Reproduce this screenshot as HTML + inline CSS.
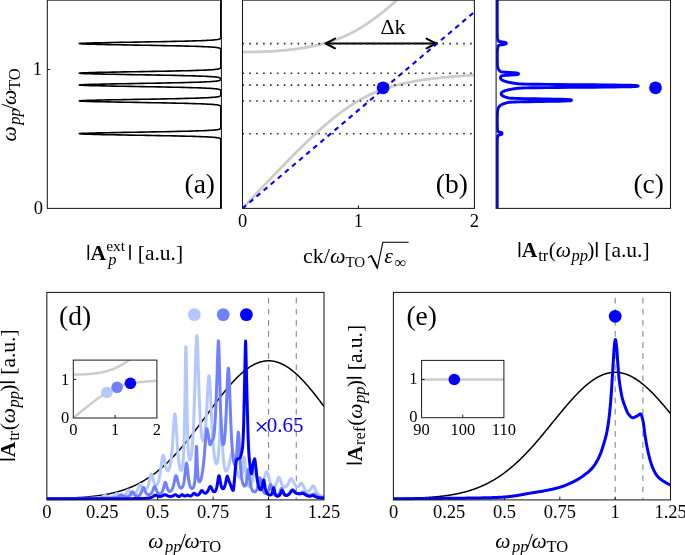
<!DOCTYPE html>
<html><head><meta charset="utf-8"><style>
html,body{margin:0;padding:0;background:#fff;}
body{position:relative;width:685px;height:555px;overflow:hidden;}
svg{display:block;}
#tx{position:absolute;left:0;top:0;will-change:transform;}
text{font-family:"Liberation Serif",serif;fill:#000;}
</style></head><body>
<svg width="685" height="555" viewBox="0 0 685 555">
<rect width="685" height="555" fill="#fff"/>

<svg x="47.30" y="0.00" width="175.10" height="208.40" overflow="hidden"><g transform="translate(-47.30,0.00)">
<path d="M220.80,0.00 L220.80,0.10 L220.80,0.20 L220.80,0.30 L220.80,0.40 L220.80,0.50 L220.80,0.60 L220.80,0.70 L220.80,0.80 L220.80,0.90 L220.80,1.00 L220.80,1.10 L220.80,1.20 L220.80,1.30 L220.80,1.40 L220.80,1.50 L220.80,1.60 L220.80,1.70 L220.80,1.80 L220.80,1.90 L220.80,2.00 L220.80,2.10 L220.80,2.20 L220.80,2.30 L220.80,2.40 L220.80,2.50 L220.80,2.60 L220.80,2.70 L220.80,2.80 L220.80,2.90 L220.80,3.00 L220.80,3.10 L220.80,3.20 L220.80,3.30 L220.80,3.40 L220.80,3.50 L220.80,3.60 L220.80,3.70 L220.80,3.80 L220.80,3.90 L220.80,4.00 L220.80,4.10 L220.80,4.20 L220.80,4.30 L220.80,4.40 L220.80,4.50 L220.80,4.60 L220.80,4.70 L220.80,4.80 L220.80,4.90 L220.80,5.00 L220.80,5.10 L220.80,5.20 L220.80,5.30 L220.80,5.40 L220.80,5.50 L220.80,5.60 L220.80,5.70 L220.80,5.80 L220.80,5.90 L220.80,6.00 L220.80,6.10 L220.80,6.20 L220.80,6.30 L220.80,6.40 L220.80,6.50 L220.80,6.60 L220.80,6.70 L220.80,6.80 L220.80,6.90 L220.80,7.00 L220.80,7.10 L220.80,7.20 L220.80,7.30 L220.80,7.40 L220.80,7.50 L220.80,7.60 L220.80,7.70 L220.80,7.80 L220.80,7.90 L220.80,8.00 L220.80,8.10 L220.80,8.20 L220.80,8.30 L220.80,8.40 L220.80,8.50 L220.80,8.60 L220.80,8.70 L220.80,8.80 L220.80,8.90 L220.80,9.00 L220.80,9.10 L220.80,9.20 L220.80,9.30 L220.80,9.40 L220.80,9.50 L220.80,9.60 L220.80,9.70 L220.80,9.80 L220.80,9.90 L220.80,10.00 L220.80,10.10 L220.80,10.20 L220.80,10.30 L220.80,10.40 L220.80,10.50 L220.80,10.60 L220.80,10.70 L220.80,10.80 L220.80,10.90 L220.80,11.00 L220.80,11.10 L220.80,11.20 L220.80,11.30 L220.80,11.40 L220.80,11.50 L220.80,11.60 L220.80,11.70 L220.80,11.80 L220.80,11.90 L220.80,12.00 L220.80,12.10 L220.80,12.20 L220.80,12.30 L220.80,12.40 L220.80,12.50 L220.80,12.60 L220.80,12.70 L220.80,12.80 L220.80,12.90 L220.80,13.00 L220.80,13.10 L220.80,13.20 L220.80,13.30 L220.80,13.40 L220.80,13.50 L220.80,13.60 L220.80,13.70 L220.80,13.80 L220.80,13.90 L220.80,14.00 L220.80,14.10 L220.80,14.20 L220.80,14.30 L220.80,14.40 L220.80,14.50 L220.80,14.60 L220.80,14.70 L220.80,14.80 L220.80,14.90 L220.80,15.00 L220.80,15.10 L220.80,15.20 L220.80,15.30 L220.80,15.40 L220.80,15.50 L220.80,15.60 L220.80,15.70 L220.80,15.80 L220.80,15.90 L220.80,16.00 L220.80,16.10 L220.80,16.20 L220.80,16.30 L220.80,16.40 L220.80,16.50 L220.80,16.60 L220.80,16.70 L220.80,16.80 L220.80,16.90 L220.80,17.00 L220.80,17.10 L220.80,17.20 L220.80,17.30 L220.80,17.40 L220.80,17.50 L220.80,17.60 L220.80,17.70 L220.80,17.80 L220.80,17.90 L220.80,18.00 L220.80,18.10 L220.80,18.20 L220.80,18.30 L220.80,18.40 L220.80,18.50 L220.80,18.60 L220.80,18.70 L220.80,18.80 L220.80,18.90 L220.80,19.00 L220.80,19.10 L220.80,19.20 L220.80,19.30 L220.80,19.40 L220.80,19.50 L220.80,19.60 L220.80,19.70 L220.80,19.80 L220.80,19.90 L220.80,20.00 L220.80,20.10 L220.80,20.20 L220.80,20.30 L220.80,20.40 L220.80,20.50 L220.80,20.60 L220.80,20.70 L220.80,20.80 L220.80,20.90 L220.80,21.00 L220.80,21.10 L220.80,21.20 L220.80,21.30 L220.80,21.40 L220.80,21.50 L220.80,21.60 L220.80,21.70 L220.80,21.80 L220.80,21.90 L220.80,22.00 L220.80,22.10 L220.80,22.20 L220.80,22.30 L220.80,22.40 L220.80,22.50 L220.80,22.60 L220.80,22.70 L220.80,22.80 L220.80,22.90 L220.80,23.00 L220.80,23.10 L220.80,23.20 L220.80,23.30 L220.80,23.40 L220.80,23.50 L220.80,23.60 L220.80,23.70 L220.80,23.80 L220.80,23.90 L220.80,24.00 L220.80,24.10 L220.80,24.20 L220.80,24.30 L220.80,24.40 L220.80,24.50 L220.80,24.60 L220.80,24.70 L220.80,24.80 L220.80,24.90 L220.80,25.00 L220.80,25.10 L220.80,25.20 L220.80,25.30 L220.80,25.40 L220.80,25.50 L220.80,25.60 L220.80,25.70 L220.80,25.80 L220.80,25.90 L220.80,26.00 L220.80,26.10 L220.80,26.20 L220.80,26.30 L220.80,26.40 L220.80,26.50 L220.80,26.60 L220.80,26.70 L220.80,26.80 L220.80,26.90 L220.80,27.00 L220.80,27.10 L220.80,27.20 L220.80,27.30 L220.80,27.40 L220.80,27.50 L220.80,27.60 L220.80,27.70 L220.80,27.80 L220.80,27.90 L220.80,28.00 L220.80,28.10 L220.80,28.20 L220.80,28.30 L220.80,28.40 L220.80,28.50 L220.80,28.60 L220.80,28.70 L220.80,28.80 L220.80,28.90 L220.80,29.00 L220.80,29.10 L220.80,29.20 L220.80,29.30 L220.80,29.40 L220.80,29.50 L220.80,29.60 L220.80,29.70 L220.80,29.80 L220.80,29.90 L220.80,30.00 L220.80,30.10 L220.80,30.20 L220.80,30.30 L220.80,30.40 L220.80,30.50 L220.80,30.60 L220.80,30.70 L220.80,30.80 L220.80,30.90 L220.80,31.00 L220.80,31.10 L220.80,31.20 L220.80,31.30 L220.80,31.40 L220.80,31.50 L220.80,31.60 L220.80,31.70 L220.80,31.80 L220.80,31.90 L220.80,32.00 L220.80,32.10 L220.80,32.20 L220.80,32.30 L220.80,32.40 L220.80,32.50 L220.80,32.60 L220.80,32.70 L220.80,32.80 L220.80,32.90 L220.80,33.00 L220.80,33.10 L220.80,33.20 L220.80,33.30 L220.80,33.40 L220.80,33.50 L220.80,33.60 L220.80,33.70 L220.80,33.80 L220.80,33.90 L220.80,34.00 L220.80,34.10 L220.80,34.20 L220.80,34.30 L220.80,34.40 L220.80,34.50 L220.80,34.60 L220.80,34.70 L220.80,34.80 L220.80,34.90 L220.80,35.00 L220.80,35.10 L220.80,35.20 L220.80,35.30 L220.80,35.40 L220.80,35.50 L220.80,35.60 L220.80,35.70 L220.80,35.80 L220.80,35.90 L220.80,36.00 L220.80,36.10 L220.80,36.20 L220.80,36.30 L220.80,36.40 L220.80,36.50 L220.80,36.60 L220.80,36.70 L220.80,36.80 L220.79,36.90 L220.79,37.00 L220.79,37.10 L220.79,37.20 L220.78,37.30 L220.78,37.40 L220.77,37.50 L220.76,37.60 L220.75,37.70 L220.73,37.80 L220.71,37.90 L220.69,38.00 L220.66,38.10 L220.62,38.20 L220.57,38.30 L220.50,38.40 L220.43,38.50 L220.33,38.60 L220.21,38.70 L220.06,38.80 L219.89,38.90 L219.67,39.00 L219.41,39.10 L219.10,39.20 L218.72,39.30 L218.28,39.40 L217.75,39.50 L217.13,39.60 L216.41,39.70 L215.56,39.80 L214.58,39.90 L213.46,40.00 L212.16,40.10 L210.69,40.20 L209.02,40.30 L207.14,40.40 L205.02,40.50 L202.66,40.60 L200.05,40.70 L197.17,40.80 L194.00,40.90 L190.56,41.00 L186.83,41.10 L182.80,41.20 L178.50,41.30 L173.93,41.40 L169.09,41.50 L164.02,41.60 L158.73,41.70 L153.26,41.80 L147.64,41.90 L141.92,42.00 L136.14,42.10 L130.34,42.20 L124.59,42.30 L118.94,42.40 L113.45,42.50 L108.18,42.60 L103.19,42.70 L98.53,42.80 L94.27,42.90 L90.46,43.00 L87.15,43.10 L84.37,43.20 L82.18,43.30 L80.59,43.40 L79.62,43.50 L79.30,43.60 L79.62,43.70 L80.59,43.80 L82.18,43.90 L84.37,44.00 L87.15,44.10 L90.46,44.20 L94.27,44.30 L98.53,44.40 L103.19,44.50 L108.18,44.60 L113.45,44.70 L118.94,44.80 L124.59,44.90 L130.34,45.00 L136.14,45.10 L141.92,45.20 L147.64,45.30 L153.26,45.40 L158.73,45.50 L164.02,45.60 L169.09,45.70 L173.93,45.80 L178.50,45.90 L182.80,46.00 L186.83,46.10 L190.56,46.20 L194.00,46.30 L197.17,46.40 L200.05,46.50 L202.66,46.60 L205.02,46.70 L207.14,46.80 L209.02,46.90 L210.69,47.00 L212.16,47.10 L213.46,47.20 L214.58,47.30 L215.56,47.40 L216.41,47.50 L217.13,47.60 L217.75,47.70 L218.28,47.80 L218.72,47.90 L219.10,48.00 L219.41,48.10 L219.67,48.20 L219.89,48.30 L220.06,48.40 L220.21,48.50 L220.33,48.60 L220.43,48.70 L220.50,48.80 L220.57,48.90 L220.62,49.00 L220.66,49.10 L220.69,49.20 L220.71,49.30 L220.73,49.40 L220.75,49.50 L220.76,49.60 L220.77,49.70 L220.78,49.80 L220.78,49.90 L220.79,50.00 L220.79,50.10 L220.79,50.20 L220.79,50.30 L220.80,50.40 L220.80,50.50 L220.80,50.60 L220.80,50.70 L220.80,50.80 L220.80,50.90 L220.80,51.00 L220.80,51.10 L220.80,51.20 L220.80,51.30 L220.80,51.40 L220.80,51.50 L220.80,51.60 L220.80,51.70 L220.80,51.80 L220.80,51.90 L220.80,52.00 L220.80,52.10 L220.80,52.20 L220.80,52.30 L220.80,52.40 L220.80,52.50 L220.80,52.60 L220.80,52.70 L220.80,52.80 L220.80,52.90 L220.80,53.00 L220.80,53.10 L220.80,53.20 L220.80,53.30 L220.80,53.40 L220.80,53.50 L220.80,53.60 L220.80,53.70 L220.80,53.80 L220.80,53.90 L220.80,54.00 L220.80,54.10 L220.80,54.20 L220.80,54.30 L220.80,54.40 L220.80,54.50 L220.80,54.60 L220.80,54.70 L220.80,54.80 L220.80,54.90 L220.80,55.00 L220.80,55.10 L220.80,55.20 L220.80,55.30 L220.80,55.40 L220.80,55.50 L220.80,55.60 L220.80,55.70 L220.80,55.80 L220.80,55.90 L220.80,56.00 L220.80,56.10 L220.80,56.20 L220.80,56.30 L220.80,56.40 L220.80,56.50 L220.80,56.60 L220.80,56.70 L220.80,56.80 L220.80,56.90 L220.80,57.00 L220.80,57.10 L220.80,57.20 L220.80,57.30 L220.80,57.40 L220.80,57.50 L220.80,57.60 L220.80,57.70 L220.80,57.80 L220.80,57.90 L220.80,58.00 L220.80,58.10 L220.80,58.20 L220.80,58.30 L220.80,58.40 L220.80,58.50 L220.80,58.60 L220.80,58.70 L220.80,58.80 L220.80,58.90 L220.80,59.00 L220.80,59.10 L220.80,59.20 L220.80,59.30 L220.80,59.40 L220.80,59.50 L220.80,59.60 L220.80,59.70 L220.80,59.80 L220.80,59.90 L220.80,60.00 L220.80,60.10 L220.80,60.20 L220.80,60.30 L220.80,60.40 L220.80,60.50 L220.80,60.60 L220.80,60.70 L220.80,60.80 L220.80,60.90 L220.80,61.00 L220.80,61.10 L220.80,61.20 L220.80,61.30 L220.80,61.40 L220.80,61.50 L220.80,61.60 L220.80,61.70 L220.80,61.80 L220.80,61.90 L220.80,62.00 L220.80,62.10 L220.80,62.20 L220.80,62.30 L220.80,62.40 L220.80,62.50 L220.80,62.60 L220.80,62.70 L220.80,62.80 L220.80,62.90 L220.80,63.00 L220.80,63.10 L220.80,63.20 L220.80,63.30 L220.80,63.40 L220.80,63.50 L220.80,63.60 L220.80,63.70 L220.80,63.80 L220.80,63.90 L220.80,64.00 L220.80,64.10 L220.80,64.20 L220.80,64.30 L220.80,64.40 L220.80,64.50 L220.80,64.60 L220.80,64.70 L220.80,64.80 L220.80,64.90 L220.80,65.00 L220.80,65.10 L220.80,65.20 L220.80,65.30 L220.80,65.40 L220.80,65.50 L220.80,65.60 L220.80,65.70 L220.80,65.80 L220.80,65.90 L220.80,66.00 L220.80,66.10 L220.80,66.20 L220.80,66.30 L220.80,66.40 L220.79,66.50 L220.79,66.60 L220.79,66.70 L220.79,66.80 L220.78,66.90 L220.78,67.00 L220.77,67.10 L220.76,67.20 L220.75,67.30 L220.73,67.40 L220.71,67.50 L220.69,67.60 L220.66,67.70 L220.62,67.80 L220.57,67.90 L220.50,68.00 L220.43,68.10 L220.33,68.20 L220.21,68.30 L220.06,68.40 L219.89,68.50 L219.67,68.60 L219.41,68.70 L219.10,68.80 L218.72,68.90 L218.28,69.00 L217.75,69.10 L217.13,69.20 L216.41,69.30 L215.56,69.40 L214.58,69.50 L213.46,69.60 L212.16,69.70 L210.69,69.80 L209.02,69.90 L207.14,70.00 L205.02,70.10 L202.66,70.20 L200.05,70.30 L197.17,70.40 L194.00,70.50 L190.56,70.60 L186.83,70.70 L182.80,70.80 L178.50,70.90 L173.93,71.00 L169.09,71.10 L164.02,71.20 L158.73,71.30 L153.26,71.40 L147.64,71.50 L141.92,71.60 L136.14,71.70 L130.34,71.80 L124.59,71.90 L118.94,72.00 L113.45,72.10 L108.18,72.20 L103.19,72.30 L98.53,72.40 L94.27,72.50 L90.46,72.60 L87.15,72.70 L84.37,72.80 L82.18,72.90 L80.59,73.00 L79.62,73.10 L79.30,73.20 L79.62,73.30 L80.59,73.40 L82.18,73.50 L84.37,73.60 L87.15,73.70 L90.46,73.80 L94.27,73.90 L98.53,74.00 L103.19,74.10 L108.18,74.20 L113.45,74.30 L118.94,74.40 L124.59,74.50 L130.34,74.60 L136.14,74.70 L141.92,74.80 L147.64,74.90 L153.26,75.00 L158.73,75.10 L164.02,75.20 L169.09,75.30 L173.93,75.40 L178.50,75.50 L182.80,75.60 L186.83,75.70 L190.56,75.80 L194.00,75.90 L197.17,76.00 L200.05,76.10 L202.66,76.20 L205.02,76.30 L207.14,76.40 L209.02,76.50 L210.69,76.60 L212.16,76.70 L213.46,76.80 L214.58,76.90 L215.56,77.00 L216.41,77.10 L217.13,77.20 L217.75,77.30 L218.28,77.40 L218.72,77.50 L219.10,77.60 L219.41,77.70 L219.67,77.80 L219.88,77.90 L220.06,78.00 L220.21,78.10 L220.33,78.20 L220.42,78.30 L220.50,78.40 L220.56,78.50 L220.61,78.60 L220.64,78.70 L220.67,78.80 L220.69,78.90 L220.70,79.00 L220.70,79.10 L220.70,79.20 L220.69,79.30 L220.67,79.40 L220.64,79.50 L220.61,79.60 L220.56,79.70 L220.50,79.80 L220.42,79.90 L220.33,80.00 L220.21,80.10 L220.06,80.20 L219.88,80.30 L219.67,80.40 L219.41,80.50 L219.10,80.60 L218.72,80.70 L218.28,80.80 L217.75,80.90 L217.13,81.00 L216.41,81.10 L215.56,81.20 L214.58,81.30 L213.46,81.40 L212.16,81.50 L210.69,81.60 L209.02,81.70 L207.14,81.80 L205.02,81.90 L202.66,82.00 L200.05,82.10 L197.17,82.20 L194.00,82.30 L190.56,82.40 L186.83,82.50 L182.80,82.60 L178.50,82.70 L173.93,82.80 L169.09,82.90 L164.02,83.00 L158.73,83.10 L153.26,83.20 L147.64,83.30 L141.92,83.40 L136.14,83.50 L130.34,83.60 L124.59,83.70 L118.94,83.80 L113.45,83.90 L108.18,84.00 L103.19,84.10 L98.53,84.20 L94.27,84.30 L90.46,84.40 L87.15,84.50 L84.37,84.60 L82.18,84.70 L80.59,84.80 L79.62,84.90 L79.30,85.00 L79.62,85.10 L80.59,85.20 L82.18,85.30 L84.37,85.40 L87.15,85.50 L90.46,85.60 L94.27,85.70 L98.53,85.80 L103.19,85.90 L108.18,86.00 L113.45,86.10 L118.94,86.20 L124.59,86.30 L130.34,86.40 L136.14,86.50 L141.92,86.60 L147.64,86.70 L153.26,86.80 L158.73,86.90 L164.02,87.00 L169.09,87.10 L173.93,87.20 L178.50,87.30 L182.80,87.40 L186.83,87.50 L190.56,87.60 L194.00,87.70 L197.17,87.80 L200.05,87.90 L202.66,88.00 L205.02,88.10 L207.14,88.20 L209.02,88.30 L210.69,88.40 L212.16,88.50 L213.46,88.60 L214.58,88.70 L215.56,88.80 L216.41,88.90 L217.13,89.00 L217.75,89.10 L218.28,89.20 L218.72,89.30 L219.10,89.40 L219.41,89.50 L219.67,89.60 L219.89,89.70 L220.06,89.80 L220.21,89.90 L220.33,90.00 L220.43,90.10 L220.50,90.20 L220.57,90.30 L220.62,90.40 L220.66,90.50 L220.69,90.60 L220.71,90.70 L220.73,90.80 L220.75,90.90 L220.76,91.00 L220.77,91.10 L220.78,91.20 L220.78,91.30 L220.79,91.40 L220.79,91.50 L220.79,91.60 L220.79,91.70 L220.80,91.80 L220.80,91.90 L220.80,92.00 L220.80,92.10 L220.80,92.20 L220.80,92.30 L220.80,92.40 L220.80,92.50 L220.80,92.60 L220.80,92.70 L220.80,92.80 L220.80,92.90 L220.80,93.00 L220.80,93.10 L220.80,93.20 L220.80,93.30 L220.80,93.40 L220.80,93.50 L220.80,93.60 L220.80,93.70 L220.80,93.80 L220.80,93.90 L220.80,94.00 L220.80,94.10 L220.79,94.20 L220.79,94.30 L220.79,94.40 L220.79,94.50 L220.78,94.60 L220.78,94.70 L220.77,94.80 L220.76,94.90 L220.75,95.00 L220.73,95.10 L220.71,95.20 L220.69,95.30 L220.66,95.40 L220.62,95.50 L220.57,95.60 L220.50,95.70 L220.43,95.80 L220.33,95.90 L220.21,96.00 L220.06,96.10 L219.89,96.20 L219.67,96.30 L219.41,96.40 L219.10,96.50 L218.72,96.60 L218.28,96.70 L217.75,96.80 L217.13,96.90 L216.41,97.00 L215.56,97.10 L214.58,97.20 L213.46,97.30 L212.16,97.40 L210.69,97.50 L209.02,97.60 L207.14,97.70 L205.02,97.80 L202.66,97.90 L200.05,98.00 L197.17,98.10 L194.00,98.20 L190.56,98.30 L186.83,98.40 L182.80,98.50 L178.50,98.60 L173.93,98.70 L169.09,98.80 L164.02,98.90 L158.73,99.00 L153.26,99.10 L147.64,99.20 L141.92,99.30 L136.14,99.40 L130.34,99.50 L124.59,99.60 L118.94,99.70 L113.45,99.80 L108.18,99.90 L103.19,100.00 L98.53,100.10 L94.27,100.20 L90.46,100.30 L87.15,100.40 L84.37,100.50 L82.18,100.60 L80.59,100.70 L79.62,100.80 L79.30,100.90 L79.62,101.00 L80.59,101.10 L82.18,101.20 L84.37,101.30 L87.15,101.40 L90.46,101.50 L94.27,101.60 L98.53,101.70 L103.19,101.80 L108.18,101.90 L113.45,102.00 L118.94,102.10 L124.59,102.20 L130.34,102.30 L136.14,102.40 L141.92,102.50 L147.64,102.60 L153.26,102.70 L158.73,102.80 L164.02,102.90 L169.09,103.00 L173.93,103.10 L178.50,103.20 L182.80,103.30 L186.83,103.40 L190.56,103.50 L194.00,103.60 L197.17,103.70 L200.05,103.80 L202.66,103.90 L205.02,104.00 L207.14,104.10 L209.02,104.20 L210.69,104.30 L212.16,104.40 L213.46,104.50 L214.58,104.60 L215.56,104.70 L216.41,104.80 L217.13,104.90 L217.75,105.00 L218.28,105.10 L218.72,105.20 L219.10,105.30 L219.41,105.40 L219.67,105.50 L219.89,105.60 L220.06,105.70 L220.21,105.80 L220.33,105.90 L220.43,106.00 L220.50,106.10 L220.57,106.20 L220.62,106.30 L220.66,106.40 L220.69,106.50 L220.71,106.60 L220.73,106.70 L220.75,106.80 L220.76,106.90 L220.77,107.00 L220.78,107.10 L220.78,107.20 L220.79,107.30 L220.79,107.40 L220.79,107.50 L220.79,107.60 L220.80,107.70 L220.80,107.80 L220.80,107.90 L220.80,108.00 L220.80,108.10 L220.80,108.20 L220.80,108.30 L220.80,108.40 L220.80,108.50 L220.80,108.60 L220.80,108.70 L220.80,108.80 L220.80,108.90 L220.80,109.00 L220.80,109.10 L220.80,109.20 L220.80,109.30 L220.80,109.40 L220.80,109.50 L220.80,109.60 L220.80,109.70 L220.80,109.80 L220.80,109.90 L220.80,110.00 L220.80,110.10 L220.80,110.20 L220.80,110.30 L220.80,110.40 L220.80,110.50 L220.80,110.60 L220.80,110.70 L220.80,110.80 L220.80,110.90 L220.80,111.00 L220.80,111.10 L220.80,111.20 L220.80,111.30 L220.80,111.40 L220.80,111.50 L220.80,111.60 L220.80,111.70 L220.80,111.80 L220.80,111.90 L220.80,112.00 L220.80,112.10 L220.80,112.20 L220.80,112.30 L220.80,112.40 L220.80,112.50 L220.80,112.60 L220.80,112.70 L220.80,112.80 L220.80,112.90 L220.80,113.00 L220.80,113.10 L220.80,113.20 L220.80,113.30 L220.80,113.40 L220.80,113.50 L220.80,113.60 L220.80,113.70 L220.80,113.80 L220.80,113.90 L220.80,114.00 L220.80,114.10 L220.80,114.20 L220.80,114.30 L220.80,114.40 L220.80,114.50 L220.80,114.60 L220.80,114.70 L220.80,114.80 L220.80,114.90 L220.80,115.00 L220.80,115.10 L220.80,115.20 L220.80,115.30 L220.80,115.40 L220.80,115.50 L220.80,115.60 L220.80,115.70 L220.80,115.80 L220.80,115.90 L220.80,116.00 L220.80,116.10 L220.80,116.20 L220.80,116.30 L220.80,116.40 L220.80,116.50 L220.80,116.60 L220.80,116.70 L220.80,116.80 L220.80,116.90 L220.80,117.00 L220.80,117.10 L220.80,117.20 L220.80,117.30 L220.80,117.40 L220.80,117.50 L220.80,117.60 L220.80,117.70 L220.80,117.80 L220.80,117.90 L220.80,118.00 L220.80,118.10 L220.80,118.20 L220.80,118.30 L220.80,118.40 L220.80,118.50 L220.80,118.60 L220.80,118.70 L220.80,118.80 L220.80,118.90 L220.80,119.00 L220.80,119.10 L220.80,119.20 L220.80,119.30 L220.80,119.40 L220.80,119.50 L220.80,119.60 L220.80,119.70 L220.80,119.80 L220.80,119.90 L220.80,120.00 L220.80,120.10 L220.80,120.20 L220.80,120.30 L220.80,120.40 L220.80,120.50 L220.80,120.60 L220.80,120.70 L220.80,120.80 L220.80,120.90 L220.80,121.00 L220.80,121.10 L220.80,121.20 L220.80,121.30 L220.80,121.40 L220.80,121.50 L220.80,121.60 L220.80,121.70 L220.80,121.80 L220.80,121.90 L220.80,122.00 L220.80,122.10 L220.80,122.20 L220.80,122.30 L220.80,122.40 L220.80,122.50 L220.80,122.60 L220.80,122.70 L220.80,122.80 L220.80,122.90 L220.80,123.00 L220.80,123.10 L220.80,123.20 L220.80,123.30 L220.80,123.40 L220.80,123.50 L220.80,123.60 L220.80,123.70 L220.80,123.80 L220.80,123.90 L220.80,124.00 L220.80,124.10 L220.80,124.20 L220.80,124.30 L220.80,124.40 L220.80,124.50 L220.80,124.60 L220.80,124.70 L220.80,124.80 L220.80,124.90 L220.80,125.00 L220.80,125.10 L220.80,125.20 L220.80,125.30 L220.80,125.40 L220.80,125.50 L220.80,125.60 L220.80,125.70 L220.80,125.80 L220.80,125.90 L220.80,126.00 L220.80,126.10 L220.80,126.20 L220.80,126.30 L220.80,126.40 L220.80,126.50 L220.80,126.60 L220.80,126.70 L220.80,126.80 L220.80,126.90 L220.79,127.00 L220.79,127.10 L220.79,127.20 L220.79,127.30 L220.78,127.40 L220.78,127.50 L220.77,127.60 L220.76,127.70 L220.75,127.80 L220.73,127.90 L220.71,128.00 L220.69,128.10 L220.66,128.20 L220.62,128.30 L220.57,128.40 L220.50,128.50 L220.43,128.60 L220.33,128.70 L220.21,128.80 L220.06,128.90 L219.89,129.00 L219.67,129.10 L219.41,129.20 L219.10,129.30 L218.72,129.40 L218.28,129.50 L217.75,129.60 L217.13,129.70 L216.41,129.80 L215.56,129.90 L214.58,130.00 L213.46,130.10 L212.16,130.20 L210.69,130.30 L209.02,130.40 L207.14,130.50 L205.02,130.60 L202.66,130.70 L200.05,130.80 L197.17,130.90 L194.00,131.00 L190.56,131.10 L186.83,131.20 L182.80,131.30 L178.50,131.40 L173.93,131.50 L169.09,131.60 L164.02,131.70 L158.73,131.80 L153.26,131.90 L147.64,132.00 L141.92,132.10 L136.14,132.20 L130.34,132.30 L124.59,132.40 L118.94,132.50 L113.45,132.60 L108.18,132.70 L103.19,132.80 L98.53,132.90 L94.27,133.00 L90.46,133.10 L87.15,133.20 L84.37,133.30 L82.18,133.40 L80.59,133.50 L79.62,133.60 L79.30,133.70 L79.62,133.80 L80.59,133.90 L82.18,134.00 L84.37,134.10 L87.15,134.20 L90.46,134.30 L94.27,134.40 L98.53,134.50 L103.19,134.60 L108.18,134.70 L113.45,134.80 L118.94,134.90 L124.59,135.00 L130.34,135.10 L136.14,135.20 L141.92,135.30 L147.64,135.40 L153.26,135.50 L158.73,135.60 L164.02,135.70 L169.09,135.80 L173.93,135.90 L178.50,136.00 L182.80,136.10 L186.83,136.20 L190.56,136.30 L194.00,136.40 L197.17,136.50 L200.05,136.60 L202.66,136.70 L205.02,136.80 L207.14,136.90 L209.02,137.00 L210.69,137.10 L212.16,137.20 L213.46,137.30 L214.58,137.40 L215.56,137.50 L216.41,137.60 L217.13,137.70 L217.75,137.80 L218.28,137.90 L218.72,138.00 L219.10,138.10 L219.41,138.20 L219.67,138.30 L219.89,138.40 L220.06,138.50 L220.21,138.60 L220.33,138.70 L220.43,138.80 L220.50,138.90 L220.57,139.00 L220.62,139.10 L220.66,139.20 L220.69,139.30 L220.71,139.40 L220.73,139.50 L220.75,139.60 L220.76,139.70 L220.77,139.80 L220.78,139.90 L220.78,140.00 L220.79,140.10 L220.79,140.20 L220.79,140.30 L220.79,140.40 L220.80,140.50 L220.80,140.60 L220.80,140.70 L220.80,140.80 L220.80,140.90 L220.80,141.00 L220.80,141.10 L220.80,141.20 L220.80,141.30 L220.80,141.40 L220.80,141.50 L220.80,141.60 L220.80,141.70 L220.80,141.80 L220.80,141.90 L220.80,142.00 L220.80,142.10 L220.80,142.20 L220.80,142.30 L220.80,142.40 L220.80,142.50 L220.80,142.60 L220.80,142.70 L220.80,142.80 L220.80,142.90 L220.80,143.00 L220.80,143.10 L220.80,143.20 L220.80,143.30 L220.80,143.40 L220.80,143.50 L220.80,143.60 L220.80,143.70 L220.80,143.80 L220.80,143.90 L220.80,144.00 L220.80,144.10 L220.80,144.20 L220.80,144.30 L220.80,144.40 L220.80,144.50 L220.80,144.60 L220.80,144.70 L220.80,144.80 L220.80,144.90 L220.80,145.00 L220.80,145.10 L220.80,145.20 L220.80,145.30 L220.80,145.40 L220.80,145.50 L220.80,145.60 L220.80,145.70 L220.80,145.80 L220.80,145.90 L220.80,146.00 L220.80,146.10 L220.80,146.20 L220.80,146.30 L220.80,146.40 L220.80,146.50 L220.80,146.60 L220.80,146.70 L220.80,146.80 L220.80,146.90 L220.80,147.00 L220.80,147.10 L220.80,147.20 L220.80,147.30 L220.80,147.40 L220.80,147.50 L220.80,147.60 L220.80,147.70 L220.80,147.80 L220.80,147.90 L220.80,148.00 L220.80,148.10 L220.80,148.20 L220.80,148.30 L220.80,148.40 L220.80,148.50 L220.80,148.60 L220.80,148.70 L220.80,148.80 L220.80,148.90 L220.80,149.00 L220.80,149.10 L220.80,149.20 L220.80,149.30 L220.80,149.40 L220.80,149.50 L220.80,149.60 L220.80,149.70 L220.80,149.80 L220.80,149.90 L220.80,150.00 L220.80,150.10 L220.80,150.20 L220.80,150.30 L220.80,150.40 L220.80,150.50 L220.80,150.60 L220.80,150.70 L220.80,150.80 L220.80,150.90 L220.80,151.00 L220.80,151.10 L220.80,151.20 L220.80,151.30 L220.80,151.40 L220.80,151.50 L220.80,151.60 L220.80,151.70 L220.80,151.80 L220.80,151.90 L220.80,152.00 L220.80,152.10 L220.80,152.20 L220.80,152.30 L220.80,152.40 L220.80,152.50 L220.80,152.60 L220.80,152.70 L220.80,152.80 L220.80,152.90 L220.80,153.00 L220.80,153.10 L220.80,153.20 L220.80,153.30 L220.80,153.40 L220.80,153.50 L220.80,153.60 L220.80,153.70 L220.80,153.80 L220.80,153.90 L220.80,154.00 L220.80,154.10 L220.80,154.20 L220.80,154.30 L220.80,154.40 L220.80,154.50 L220.80,154.60 L220.80,154.70 L220.80,154.80 L220.80,154.90 L220.80,155.00 L220.80,155.10 L220.80,155.20 L220.80,155.30 L220.80,155.40 L220.80,155.50 L220.80,155.60 L220.80,155.70 L220.80,155.80 L220.80,155.90 L220.80,156.00 L220.80,156.10 L220.80,156.20 L220.80,156.30 L220.80,156.40 L220.80,156.50 L220.80,156.60 L220.80,156.70 L220.80,156.80 L220.80,156.90 L220.80,157.00 L220.80,157.10 L220.80,157.20 L220.80,157.30 L220.80,157.40 L220.80,157.50 L220.80,157.60 L220.80,157.70 L220.80,157.80 L220.80,157.90 L220.80,158.00 L220.80,158.10 L220.80,158.20 L220.80,158.30 L220.80,158.40 L220.80,158.50 L220.80,158.60 L220.80,158.70 L220.80,158.80 L220.80,158.90 L220.80,159.00 L220.80,159.10 L220.80,159.20 L220.80,159.30 L220.80,159.40 L220.80,159.50 L220.80,159.60 L220.80,159.70 L220.80,159.80 L220.80,159.90 L220.80,160.00 L220.80,160.10 L220.80,160.20 L220.80,160.30 L220.80,160.40 L220.80,160.50 L220.80,160.60 L220.80,160.70 L220.80,160.80 L220.80,160.90 L220.80,161.00 L220.80,161.10 L220.80,161.20 L220.80,161.30 L220.80,161.40 L220.80,161.50 L220.80,161.60 L220.80,161.70 L220.80,161.80 L220.80,161.90 L220.80,162.00 L220.80,162.10 L220.80,162.20 L220.80,162.30 L220.80,162.40 L220.80,162.50 L220.80,162.60 L220.80,162.70 L220.80,162.80 L220.80,162.90 L220.80,163.00 L220.80,163.10 L220.80,163.20 L220.80,163.30 L220.80,163.40 L220.80,163.50 L220.80,163.60 L220.80,163.70 L220.80,163.80 L220.80,163.90 L220.80,164.00 L220.80,164.10 L220.80,164.20 L220.80,164.30 L220.80,164.40 L220.80,164.50 L220.80,164.60 L220.80,164.70 L220.80,164.80 L220.80,164.90 L220.80,165.00 L220.80,165.10 L220.80,165.20 L220.80,165.30 L220.80,165.40 L220.80,165.50 L220.80,165.60 L220.80,165.70 L220.80,165.80 L220.80,165.90 L220.80,166.00 L220.80,166.10 L220.80,166.20 L220.80,166.30 L220.80,166.40 L220.80,166.50 L220.80,166.60 L220.80,166.70 L220.80,166.80 L220.80,166.90 L220.80,167.00 L220.80,167.10 L220.80,167.20 L220.80,167.30 L220.80,167.40 L220.80,167.50 L220.80,167.60 L220.80,167.70 L220.80,167.80 L220.80,167.90 L220.80,168.00 L220.80,168.10 L220.80,168.20 L220.80,168.30 L220.80,168.40 L220.80,168.50 L220.80,168.60 L220.80,168.70 L220.80,168.80 L220.80,168.90 L220.80,169.00 L220.80,169.10 L220.80,169.20 L220.80,169.30 L220.80,169.40 L220.80,169.50 L220.80,169.60 L220.80,169.70 L220.80,169.80 L220.80,169.90 L220.80,170.00 L220.80,170.10 L220.80,170.20 L220.80,170.30 L220.80,170.40 L220.80,170.50 L220.80,170.60 L220.80,170.70 L220.80,170.80 L220.80,170.90 L220.80,171.00 L220.80,171.10 L220.80,171.20 L220.80,171.30 L220.80,171.40 L220.80,171.50 L220.80,171.60 L220.80,171.70 L220.80,171.80 L220.80,171.90 L220.80,172.00 L220.80,172.10 L220.80,172.20 L220.80,172.30 L220.80,172.40 L220.80,172.50 L220.80,172.60 L220.80,172.70 L220.80,172.80 L220.80,172.90 L220.80,173.00 L220.80,173.10 L220.80,173.20 L220.80,173.30 L220.80,173.40 L220.80,173.50 L220.80,173.60 L220.80,173.70 L220.80,173.80 L220.80,173.90 L220.80,174.00 L220.80,174.10 L220.80,174.20 L220.80,174.30 L220.80,174.40 L220.80,174.50 L220.80,174.60 L220.80,174.70 L220.80,174.80 L220.80,174.90 L220.80,175.00 L220.80,175.10 L220.80,175.20 L220.80,175.30 L220.80,175.40 L220.80,175.50 L220.80,175.60 L220.80,175.70 L220.80,175.80 L220.80,175.90 L220.80,176.00 L220.80,176.10 L220.80,176.20 L220.80,176.30 L220.80,176.40 L220.80,176.50 L220.80,176.60 L220.80,176.70 L220.80,176.80 L220.80,176.90 L220.80,177.00 L220.80,177.10 L220.80,177.20 L220.80,177.30 L220.80,177.40 L220.80,177.50 L220.80,177.60 L220.80,177.70 L220.80,177.80 L220.80,177.90 L220.80,178.00 L220.80,178.10 L220.80,178.20 L220.80,178.30 L220.80,178.40 L220.80,178.50 L220.80,178.60 L220.80,178.70 L220.80,178.80 L220.80,178.90 L220.80,179.00 L220.80,179.10 L220.80,179.20 L220.80,179.30 L220.80,179.40 L220.80,179.50 L220.80,179.60 L220.80,179.70 L220.80,179.80 L220.80,179.90 L220.80,180.00 L220.80,180.10 L220.80,180.20 L220.80,180.30 L220.80,180.40 L220.80,180.50 L220.80,180.60 L220.80,180.70 L220.80,180.80 L220.80,180.90 L220.80,181.00 L220.80,181.10 L220.80,181.20 L220.80,181.30 L220.80,181.40 L220.80,181.50 L220.80,181.60 L220.80,181.70 L220.80,181.80 L220.80,181.90 L220.80,182.00 L220.80,182.10 L220.80,182.20 L220.80,182.30 L220.80,182.40 L220.80,182.50 L220.80,182.60 L220.80,182.70 L220.80,182.80 L220.80,182.90 L220.80,183.00 L220.80,183.10 L220.80,183.20 L220.80,183.30 L220.80,183.40 L220.80,183.50 L220.80,183.60 L220.80,183.70 L220.80,183.80 L220.80,183.90 L220.80,184.00 L220.80,184.10 L220.80,184.20 L220.80,184.30 L220.80,184.40 L220.80,184.50 L220.80,184.60 L220.80,184.70 L220.80,184.80 L220.80,184.90 L220.80,185.00 L220.80,185.10 L220.80,185.20 L220.80,185.30 L220.80,185.40 L220.80,185.50 L220.80,185.60 L220.80,185.70 L220.80,185.80 L220.80,185.90 L220.80,186.00 L220.80,186.10 L220.80,186.20 L220.80,186.30 L220.80,186.40 L220.80,186.50 L220.80,186.60 L220.80,186.70 L220.80,186.80 L220.80,186.90 L220.80,187.00 L220.80,187.10 L220.80,187.20 L220.80,187.30 L220.80,187.40 L220.80,187.50 L220.80,187.60 L220.80,187.70 L220.80,187.80 L220.80,187.90 L220.80,188.00 L220.80,188.10 L220.80,188.20 L220.80,188.30 L220.80,188.40 L220.80,188.50 L220.80,188.60 L220.80,188.70 L220.80,188.80 L220.80,188.90 L220.80,189.00 L220.80,189.10 L220.80,189.20 L220.80,189.30 L220.80,189.40 L220.80,189.50 L220.80,189.60 L220.80,189.70 L220.80,189.80 L220.80,189.90 L220.80,190.00 L220.80,190.10 L220.80,190.20 L220.80,190.30 L220.80,190.40 L220.80,190.50 L220.80,190.60 L220.80,190.70 L220.80,190.80 L220.80,190.90 L220.80,191.00 L220.80,191.10 L220.80,191.20 L220.80,191.30 L220.80,191.40 L220.80,191.50 L220.80,191.60 L220.80,191.70 L220.80,191.80 L220.80,191.90 L220.80,192.00 L220.80,192.10 L220.80,192.20 L220.80,192.30 L220.80,192.40 L220.80,192.50 L220.80,192.60 L220.80,192.70 L220.80,192.80 L220.80,192.90 L220.80,193.00 L220.80,193.10 L220.80,193.20 L220.80,193.30 L220.80,193.40 L220.80,193.50 L220.80,193.60 L220.80,193.70 L220.80,193.80 L220.80,193.90 L220.80,194.00 L220.80,194.10 L220.80,194.20 L220.80,194.30 L220.80,194.40 L220.80,194.50 L220.80,194.60 L220.80,194.70 L220.80,194.80 L220.80,194.90 L220.80,195.00 L220.80,195.10 L220.80,195.20 L220.80,195.30 L220.80,195.40 L220.80,195.50 L220.80,195.60 L220.80,195.70 L220.80,195.80 L220.80,195.90 L220.80,196.00 L220.80,196.10 L220.80,196.20 L220.80,196.30 L220.80,196.40 L220.80,196.50 L220.80,196.60 L220.80,196.70 L220.80,196.80 L220.80,196.90 L220.80,197.00 L220.80,197.10 L220.80,197.20 L220.80,197.30 L220.80,197.40 L220.80,197.50 L220.80,197.60 L220.80,197.70 L220.80,197.80 L220.80,197.90 L220.80,198.00 L220.80,198.10 L220.80,198.20 L220.80,198.30 L220.80,198.40 L220.80,198.50 L220.80,198.60 L220.80,198.70 L220.80,198.80 L220.80,198.90 L220.80,199.00 L220.80,199.10 L220.80,199.20 L220.80,199.30 L220.80,199.40 L220.80,199.50 L220.80,199.60 L220.80,199.70 L220.80,199.80 L220.80,199.90 L220.80,200.00 L220.80,200.10 L220.80,200.20 L220.80,200.30 L220.80,200.40 L220.80,200.50 L220.80,200.60 L220.80,200.70 L220.80,200.80 L220.80,200.90 L220.80,201.00 L220.80,201.10 L220.80,201.20 L220.80,201.30 L220.80,201.40 L220.80,201.50 L220.80,201.60 L220.80,201.70 L220.80,201.80 L220.80,201.90 L220.80,202.00 L220.80,202.10 L220.80,202.20 L220.80,202.30 L220.80,202.40 L220.80,202.50 L220.80,202.60 L220.80,202.70 L220.80,202.80 L220.80,202.90 L220.80,203.00 L220.80,203.10 L220.80,203.20 L220.80,203.30 L220.80,203.40 L220.80,203.50 L220.80,203.60 L220.80,203.70 L220.80,203.80 L220.80,203.90 L220.80,204.00 L220.80,204.10 L220.80,204.20 L220.80,204.30 L220.80,204.40 L220.80,204.50 L220.80,204.60 L220.80,204.70 L220.80,204.80 L220.80,204.90 L220.80,205.00 L220.80,205.10 L220.80,205.20 L220.80,205.30 L220.80,205.40 L220.80,205.50 L220.80,205.60 L220.80,205.70 L220.80,205.80 L220.80,205.90 L220.80,206.00 L220.80,206.10 L220.80,206.20 L220.80,206.30 L220.80,206.40 L220.80,206.50 L220.80,206.60 L220.80,206.70 L220.80,206.80 L220.80,206.90 L220.80,207.00 L220.80,207.10 L220.80,207.20 L220.80,207.30 L220.80,207.40 L220.80,207.50 L220.80,207.60 L220.80,207.70 L220.80,207.80 L220.80,207.90 L220.80,208.00 L220.80,208.10 L220.80,208.20 L220.80,208.30 L220.80,208.40" fill="none" stroke="#000" stroke-width="1.6" stroke-linejoin="round"/>
</g></svg>
<rect x="47.30" y="0.15" width="174.10" height="208.25" fill="none" stroke="#1a1a1a" stroke-width="1.05"/>
<path d="M47.3,69.47 h3" stroke="#1a1a1a" stroke-width="1"/>
<svg x="242.50" y="0.00" width="231.90" height="208.40" overflow="hidden"><g transform="translate(-242.50,0.00)">
<path d="M242.50,208.40 L242.82,208.06 L243.14,207.72 L243.46,207.38 L243.78,207.04 L244.09,206.70 L244.41,206.36 L244.73,206.02 L245.05,205.68 L245.37,205.34 L245.69,205.01 L246.01,204.67 L246.33,204.33 L246.64,203.99 L246.96,203.65 L247.28,203.31 L247.60,202.97 L247.92,202.63 L248.24,202.29 L248.56,201.95 L248.88,201.61 L249.20,201.27 L249.51,200.93 L249.83,200.59 L250.15,200.25 L250.47,199.91 L250.79,199.57 L251.11,199.23 L251.43,198.89 L251.75,198.55 L252.07,198.22 L252.39,197.88 L252.71,197.54 L253.03,197.20 L253.35,196.86 L253.66,196.52 L253.98,196.18 L254.30,195.84 L254.62,195.50 L254.94,195.16 L255.26,194.82 L255.58,194.48 L255.90,194.14 L256.22,193.80 L256.54,193.46 L256.86,193.12 L257.18,192.78 L257.50,192.44 L257.82,192.10 L258.14,191.76 L258.46,191.43 L258.78,191.09 L259.10,190.75 L259.42,190.41 L259.74,190.07 L260.07,189.73 L260.39,189.39 L260.71,189.05 L261.03,188.71 L261.35,188.37 L261.67,188.03 L261.99,187.69 L262.31,187.35 L262.63,187.01 L262.95,186.67 L263.28,186.33 L263.60,185.99 L263.92,185.65 L264.24,185.31 L264.56,184.98 L264.88,184.64 L265.21,184.30 L265.53,183.96 L265.85,183.62 L266.17,183.28 L266.49,182.94 L266.82,182.60 L267.14,182.26 L267.46,181.92 L267.78,181.58 L268.11,181.24 L268.43,180.90 L268.75,180.56 L269.08,180.22 L269.40,179.88 L269.72,179.54 L270.05,179.20 L270.37,178.86 L270.69,178.52 L271.02,178.19 L271.34,177.85 L271.66,177.51 L271.99,177.17 L272.31,176.83 L272.64,176.49 L272.96,176.15 L273.29,175.81 L273.61,175.47 L273.94,175.13 L274.26,174.79 L274.59,174.45 L274.91,174.11 L275.24,173.77 L275.56,173.43 L275.89,173.09 L276.22,172.75 L276.54,172.41 L276.87,172.07 L277.19,171.74 L277.52,171.40 L277.85,171.06 L278.18,170.72 L278.50,170.38 L278.83,170.04 L279.16,169.70 L279.49,169.36 L279.81,169.02 L280.14,168.68 L280.47,168.34 L280.80,168.00 L281.13,167.66 L281.45,167.32 L281.78,166.98 L282.11,166.64 L282.44,166.30 L282.77,165.96 L283.10,165.62 L283.43,165.28 L283.76,164.95 L284.09,164.61 L284.42,164.27 L284.75,163.93 L285.09,163.59 L285.42,163.25 L285.75,162.91 L286.08,162.57 L286.41,162.23 L286.74,161.89 L287.08,161.55 L287.41,161.21 L287.74,160.87 L288.08,160.53 L288.41,160.19 L288.74,159.85 L289.08,159.51 L289.41,159.17 L289.74,158.83 L290.08,158.49 L290.41,158.16 L290.75,157.82 L291.09,157.48 L291.42,157.14 L291.76,156.80 L292.09,156.46 L292.43,156.12 L292.77,155.78 L293.10,155.44 L293.44,155.10 L293.78,154.76 L294.12,154.42 L294.46,154.08 L294.80,153.74 L295.14,153.40 L295.47,153.06 L295.81,152.72 L296.16,152.38 L296.50,152.04 L296.84,151.71 L297.18,151.37 L297.52,151.03 L297.86,150.69 L298.20,150.35 L298.55,150.01 L298.89,149.67 L299.23,149.33 L299.58,148.99 L299.92,148.65 L300.27,148.31 L300.61,147.97 L300.96,147.63 L301.30,147.29 L301.65,146.95 L302.00,146.61 L302.34,146.27 L302.69,145.93 L303.04,145.59 L303.39,145.25 L303.74,144.92 L304.08,144.58 L304.43,144.24 L304.79,143.90 L305.14,143.56 L305.49,143.22 L305.84,142.88 L306.19,142.54 L306.54,142.20 L306.90,141.86 L307.25,141.52 L307.61,141.18 L307.96,140.84 L308.32,140.50 L308.67,140.16 L309.03,139.82 L309.39,139.48 L309.74,139.14 L310.10,138.80 L310.46,138.46 L310.82,138.13 L311.18,137.79 L311.54,137.45 L311.90,137.11 L312.27,136.77 L312.63,136.43 L312.99,136.09 L313.36,135.75 L313.72,135.41 L314.09,135.07 L314.45,134.73 L314.82,134.39 L315.19,134.05 L315.56,133.71 L315.92,133.37 L316.29,133.03 L316.67,132.69 L317.04,132.35 L317.41,132.01 L317.78,131.68 L318.16,131.34 L318.53,131.00 L318.91,130.66 L319.28,130.32 L319.66,129.98 L320.04,129.64 L320.42,129.30 L320.80,128.96 L321.18,128.62 L321.56,128.28 L321.94,127.94 L322.33,127.60 L322.71,127.26 L323.10,126.92 L323.49,126.58 L323.87,126.24 L324.26,125.90 L324.65,125.56 L325.05,125.22 L325.44,124.89 L325.83,124.55 L326.23,124.21 L326.62,123.87 L327.02,123.53 L327.42,123.19 L327.82,122.85 L328.22,122.51 L328.62,122.17 L329.03,121.83 L329.43,121.49 L329.84,121.15 L330.25,120.81 L330.66,120.47 L331.07,120.13 L331.48,119.79 L331.89,119.45 L332.31,119.11 L332.73,118.77 L333.15,118.43 L333.57,118.10 L333.99,117.76 L334.41,117.42 L334.84,117.08 L335.26,116.74 L335.69,116.40 L336.12,116.06 L336.56,115.72 L336.99,115.38 L337.43,115.04 L337.87,114.70 L338.31,114.36 L338.75,114.02 L339.20,113.68 L339.65,113.34 L340.10,113.00 L340.55,112.66 L341.00,112.32 L341.46,111.98 L341.92,111.65 L342.38,111.31 L342.84,110.97 L343.31,110.63 L343.78,110.29 L344.25,109.95 L344.73,109.61 L345.21,109.27 L345.69,108.93 L346.17,108.59 L346.66,108.25 L347.15,107.91 L347.65,107.57 L348.14,107.23 L348.64,106.89 L349.15,106.55 L349.66,106.21 L350.17,105.87 L350.68,105.53 L351.20,105.19 L351.73,104.86 L352.25,104.52 L352.79,104.18 L353.32,103.84 L353.86,103.50 L354.41,103.16 L354.96,102.82 L355.51,102.48 L356.07,102.14 L356.64,101.80 L357.21,101.46 L357.78,101.12 L358.37,100.78 L358.95,100.44 L359.55,100.10 L360.15,99.76 L360.75,99.42 L361.36,99.08 L361.98,98.74 L362.61,98.41 L363.24,98.07 L363.88,97.73 L364.53,97.39 L365.19,97.05 L365.85,96.71 L366.53,96.37 L367.21,96.03 L367.90,95.69 L368.60,95.35 L369.31,95.01 L370.03,94.67 L370.76,94.33 L371.50,93.99 L372.26,93.65 L373.02,93.31 L373.80,92.97 L374.59,92.63 L375.39,92.29 L376.21,91.95 L377.04,91.62 L377.89,91.28 L378.75,90.94 L379.63,90.60 L380.52,90.26 L381.43,89.92 L382.37,89.58 L383.32,89.24 L384.29,88.90 L385.28,88.56 L386.29,88.22 L387.33,87.88 L388.40,87.54 L389.48,87.20 L390.60,86.86 L391.74,86.52 L392.92,86.18 L394.12,85.84 L395.36,85.50 L396.64,85.16 L397.95,84.83 L399.31,84.49 L400.70,84.15 L402.14,83.81 L403.63,83.47 L405.17,83.13 L406.76,82.79 L408.42,82.45 L410.13,82.11 L411.91,81.77 L413.77,81.43 L415.70,81.09 L417.71,80.75 L419.81,80.41 L422.01,80.07 L424.32,79.73 L426.74,79.39 L429.29,79.05 L431.98,78.71 L434.81,78.38 L437.82,78.04 L441.01,77.70 L444.40,77.36 L448.02,77.02 L451.90,76.68 L456.07,76.34 L460.56,76.00 L465.43,75.66 L470.72,75.32 L476.51,74.98 L482.87,74.64 L489.91,74.30 L497.75,73.96 L506.57,73.62 L516.57,73.28 L528.05,72.94" fill="none" stroke="#cccccc" stroke-width="2.8"/>
<path d="M242.50,52.10 L256.92,51.90 L262.80,51.70 L267.25,51.50 L270.95,51.30 L274.18,51.09 L277.06,50.89 L279.67,50.69 L282.07,50.49 L284.31,50.28 L286.39,50.08 L288.35,49.88 L290.21,49.68 L291.97,49.48 L293.64,49.27 L295.24,49.07 L296.77,48.87 L298.23,48.67 L299.64,48.47 L301.00,48.26 L302.31,48.06 L303.58,47.86 L304.80,47.66 L305.99,47.45 L307.14,47.25 L308.25,47.05 L309.34,46.85 L310.39,46.65 L311.42,46.44 L312.42,46.24 L313.39,46.04 L314.34,45.84 L315.27,45.64 L316.18,45.43 L317.07,45.23 L317.93,45.03 L318.78,44.83 L319.61,44.63 L320.43,44.42 L321.22,44.22 L322.01,44.02 L322.77,43.82 L323.53,43.61 L324.26,43.41 L324.99,43.21 L325.70,43.01 L326.40,42.81 L327.09,42.60 L327.77,42.40 L328.44,42.20 L329.09,42.00 L329.74,41.80 L330.38,41.59 L331.00,41.39 L331.62,41.19 L332.23,40.99 L332.83,40.78 L333.42,40.58 L334.00,40.38 L334.58,40.18 L335.15,39.98 L335.71,39.77 L336.26,39.57 L336.81,39.37 L337.35,39.17 L337.88,38.97 L338.41,38.76 L338.93,38.56 L339.44,38.36 L339.95,38.16 L340.45,37.96 L340.95,37.75 L341.44,37.55 L341.93,37.35 L342.41,37.15 L342.89,36.94 L343.36,36.74 L343.82,36.54 L344.29,36.34 L344.74,36.14 L345.20,35.93 L345.65,35.73 L346.09,35.53 L346.53,35.33 L346.97,35.13 L347.40,34.92 L347.83,34.72 L348.25,34.52 L348.68,34.32 L349.09,34.11 L349.51,33.91 L349.92,33.71 L350.33,33.51 L350.73,33.31 L351.13,33.10 L351.53,32.90 L351.92,32.70 L352.31,32.50 L352.70,32.30 L353.09,32.09 L353.47,31.89 L353.85,31.69 L354.23,31.49 L354.61,31.29 L354.98,31.08 L355.35,30.88 L355.71,30.68 L356.08,30.48 L356.44,30.27 L356.80,30.07 L357.16,29.87 L357.51,29.67 L357.87,29.47 L358.22,29.26 L358.57,29.06 L358.91,28.86 L359.26,28.66 L359.60,28.46 L359.94,28.25 L360.28,28.05 L360.62,27.85 L360.95,27.65 L361.28,27.44 L361.61,27.24 L361.94,27.04 L362.27,26.84 L362.60,26.64 L362.92,26.43 L363.24,26.23 L363.56,26.03 L363.88,25.83 L364.20,25.63 L364.52,25.42 L364.83,25.22 L365.14,25.02 L365.45,24.82 L365.76,24.62 L366.07,24.41 L366.38,24.21 L366.69,24.01 L366.99,23.81 L367.29,23.60 L367.59,23.40 L367.89,23.20 L368.19,23.00 L368.49,22.80 L368.79,22.59 L369.08,22.39 L369.37,22.19 L369.67,21.99 L369.96,21.79 L370.25,21.58 L370.54,21.38 L370.83,21.18 L371.11,20.98 L371.40,20.77 L371.68,20.57 L371.97,20.37 L372.25,20.17 L372.53,19.97 L372.81,19.76 L373.09,19.56 L373.37,19.36 L373.65,19.16 L373.92,18.96 L374.20,18.75 L374.47,18.55 L374.75,18.35 L375.02,18.15 L375.29,17.95 L375.56,17.74 L375.83,17.54 L376.10,17.34 L376.37,17.14 L376.64,16.93 L376.90,16.73 L377.17,16.53 L377.43,16.33 L377.70,16.13 L377.96,15.92 L378.22,15.72 L378.48,15.52 L378.75,15.32 L379.01,15.12 L379.27,14.91 L379.52,14.71 L379.78,14.51 L380.04,14.31 L380.30,14.10 L380.55,13.90 L380.81,13.70 L381.06,13.50 L381.32,13.30 L381.57,13.09 L381.82,12.89 L382.07,12.69 L382.32,12.49 L382.57,12.29 L382.82,12.08 L383.07,11.88 L383.32,11.68 L383.57,11.48 L383.82,11.28 L384.06,11.07 L384.31,10.87 L384.56,10.67 L384.80,10.47 L385.05,10.26 L385.29,10.06 L385.53,9.86 L385.78,9.66 L386.02,9.46 L386.26,9.25 L386.50,9.05 L386.74,8.85 L386.98,8.65 L387.22,8.45 L387.46,8.24 L387.70,8.04 L387.94,7.84 L388.18,7.64 L388.42,7.43 L388.65,7.23 L388.89,7.03 L389.12,6.83 L389.36,6.63 L389.59,6.42 L389.83,6.22 L390.06,6.02 L390.30,5.82 L390.53,5.62 L390.76,5.41 L390.99,5.21 L391.23,5.01 L391.46,4.81 L391.69,4.61 L391.92,4.40 L392.15,4.20 L392.38,4.00 L392.61,3.80 L392.84,3.59 L393.07,3.39 L393.30,3.19 L393.52,2.99 L393.75,2.79 L393.98,2.58 L394.20,2.38 L394.43,2.18 L394.66,1.98 L394.88,1.78 L395.11,1.57 L395.33,1.37 L395.56,1.17 L395.78,0.97 L396.00,0.76 L396.23,0.56 L396.45,0.36 L396.67,0.16 L396.90,-0.04 L397.12,-0.25 L397.34,-0.45 L397.56,-0.65 L397.78,-0.85 L398.00,-1.05 L398.22,-1.26 L398.45,-1.46 L398.67,-1.66 L398.88,-1.86 L399.10,-2.07 L399.32,-2.27 L399.54,-2.47 L399.76,-2.67 L399.98,-2.87 L400.20,-3.08 L400.41,-3.28 L400.63,-3.48 L400.85,-3.68 L401.06,-3.88 L401.28,-4.09 L401.50,-4.29 L401.71,-4.49 L401.93,-4.69 L402.14,-4.89 L402.36,-5.10 L402.57,-5.30 L402.79,-5.50 L403.00,-5.70 L403.22,-5.91 L403.43,-6.11 L403.64,-6.31 L403.86,-6.51 L404.07,-6.71 L404.28,-6.92 L404.50,-7.12 L404.71,-7.32 L404.92,-7.52 L405.13,-7.72 L405.34,-7.93 L405.56,-8.13 L405.77,-8.33" fill="none" stroke="#cccccc" stroke-width="2.8"/>
<path d="M326.5,43.5 H436" stroke="#000" stroke-width="1.8"/>
<path d="M335,38.6 Q329,42 325.4,43.45 Q329,44.9 335,48.3" fill="none" stroke="#000" stroke-width="2" stroke-linecap="round" stroke-linejoin="round"/>
<path d="M426.5,38.6 Q432.5,42 437.1,43.45 Q432.5,44.9 426.5,48.3" fill="none" stroke="#000" stroke-width="2" stroke-linecap="round" stroke-linejoin="round"/>
<path d="M242.50,208.40 L480.20,7.01" stroke="#0000ff" stroke-width="2.1" stroke-dasharray="4.9 4.4" stroke-dashoffset="0.2"/>
</g></svg>
<circle cx="383.1" cy="87.8" r="6.4" fill="#0000ff"/>
<path d="M242.4,43.6 H474" stroke="#2a2a2a" stroke-width="1.6" stroke-dasharray="1.6 5.3" />
<path d="M242.4,73.2 H474" stroke="#2a2a2a" stroke-width="1.6" stroke-dasharray="1.6 5.3" />
<path d="M242.4,85.1 H474" stroke="#2a2a2a" stroke-width="1.6" stroke-dasharray="1.6 5.3" />
<path d="M242.4,101.0 H474" stroke="#2a2a2a" stroke-width="1.6" stroke-dasharray="1.6 5.3" />
<path d="M242.4,133.8 H474" stroke="#2a2a2a" stroke-width="1.6" stroke-dasharray="1.6 5.3" />
<rect x="242.50" y="0.15" width="231.90" height="208.25" fill="none" stroke="#1a1a1a" stroke-width="1.05"/>
<path d="M358.45,208.4 v-3" stroke="#1a1a1a" stroke-width="1"/>
<svg x="496.10" y="0.00" width="174.40" height="208.40" overflow="hidden"><g transform="translate(-496.10,0.00)">
<path d="M497.20,0.00 L497.20,0.10 L497.20,0.20 L497.20,0.30 L497.20,0.40 L497.20,0.50 L497.20,0.60 L497.20,0.70 L497.20,0.80 L497.20,0.90 L497.20,1.00 L497.20,1.10 L497.20,1.20 L497.20,1.30 L497.20,1.40 L497.20,1.50 L497.20,1.60 L497.20,1.70 L497.20,1.80 L497.20,1.90 L497.20,2.00 L497.20,2.10 L497.20,2.20 L497.20,2.30 L497.20,2.40 L497.20,2.50 L497.20,2.60 L497.20,2.70 L497.20,2.80 L497.20,2.90 L497.20,3.00 L497.20,3.10 L497.20,3.20 L497.20,3.30 L497.20,3.40 L497.20,3.50 L497.20,3.60 L497.20,3.70 L497.20,3.80 L497.20,3.90 L497.20,4.00 L497.20,4.10 L497.20,4.20 L497.20,4.30 L497.20,4.40 L497.20,4.50 L497.20,4.60 L497.20,4.70 L497.20,4.80 L497.20,4.90 L497.20,5.00 L497.20,5.10 L497.20,5.20 L497.20,5.30 L497.20,5.40 L497.20,5.50 L497.20,5.60 L497.20,5.70 L497.20,5.80 L497.20,5.90 L497.20,6.00 L497.20,6.10 L497.20,6.20 L497.20,6.30 L497.20,6.40 L497.20,6.50 L497.20,6.60 L497.20,6.70 L497.20,6.80 L497.20,6.90 L497.20,7.00 L497.20,7.10 L497.20,7.20 L497.20,7.30 L497.20,7.40 L497.20,7.50 L497.20,7.60 L497.20,7.70 L497.20,7.80 L497.20,7.90 L497.20,8.00 L497.20,8.10 L497.20,8.20 L497.20,8.30 L497.20,8.40 L497.20,8.50 L497.20,8.60 L497.20,8.70 L497.20,8.80 L497.20,8.90 L497.20,9.00 L497.20,9.10 L497.20,9.20 L497.20,9.30 L497.20,9.40 L497.20,9.50 L497.20,9.60 L497.20,9.70 L497.20,9.80 L497.20,9.90 L497.20,10.00 L497.20,10.10 L497.20,10.20 L497.20,10.30 L497.20,10.40 L497.20,10.50 L497.20,10.60 L497.20,10.70 L497.20,10.80 L497.20,10.90 L497.20,11.00 L497.20,11.10 L497.20,11.20 L497.20,11.30 L497.20,11.40 L497.20,11.50 L497.20,11.60 L497.20,11.70 L497.20,11.80 L497.20,11.90 L497.20,12.00 L497.20,12.10 L497.20,12.20 L497.20,12.30 L497.20,12.40 L497.20,12.50 L497.20,12.60 L497.20,12.70 L497.20,12.80 L497.20,12.90 L497.20,13.00 L497.20,13.10 L497.20,13.20 L497.20,13.30 L497.20,13.40 L497.20,13.50 L497.20,13.60 L497.20,13.70 L497.20,13.80 L497.20,13.90 L497.20,14.00 L497.20,14.10 L497.20,14.20 L497.20,14.30 L497.20,14.40 L497.20,14.50 L497.20,14.60 L497.20,14.70 L497.20,14.80 L497.20,14.90 L497.20,15.00 L497.20,15.10 L497.20,15.20 L497.20,15.30 L497.20,15.40 L497.20,15.50 L497.20,15.60 L497.20,15.70 L497.20,15.80 L497.20,15.90 L497.20,16.00 L497.20,16.10 L497.20,16.20 L497.20,16.30 L497.20,16.40 L497.20,16.50 L497.20,16.60 L497.20,16.70 L497.20,16.80 L497.20,16.90 L497.20,17.00 L497.20,17.10 L497.20,17.20 L497.20,17.30 L497.20,17.40 L497.20,17.50 L497.20,17.60 L497.20,17.70 L497.20,17.80 L497.20,17.90 L497.20,18.00 L497.20,18.10 L497.20,18.20 L497.20,18.30 L497.20,18.40 L497.20,18.50 L497.20,18.60 L497.20,18.70 L497.20,18.80 L497.20,18.90 L497.20,19.00 L497.20,19.10 L497.20,19.20 L497.20,19.30 L497.20,19.40 L497.20,19.50 L497.20,19.60 L497.20,19.70 L497.20,19.80 L497.20,19.90 L497.20,20.00 L497.20,20.10 L497.20,20.20 L497.20,20.30 L497.20,20.40 L497.20,20.50 L497.20,20.60 L497.20,20.70 L497.20,20.80 L497.20,20.90 L497.20,21.00 L497.20,21.10 L497.20,21.20 L497.20,21.30 L497.20,21.40 L497.20,21.50 L497.20,21.60 L497.20,21.70 L497.21,21.80 L497.21,21.90 L497.21,22.00 L497.21,22.10 L497.21,22.20 L497.21,22.30 L497.21,22.40 L497.21,22.50 L497.21,22.60 L497.21,22.70 L497.21,22.80 L497.21,22.90 L497.21,23.00 L497.21,23.10 L497.21,23.20 L497.21,23.30 L497.21,23.40 L497.21,23.50 L497.21,23.60 L497.21,23.70 L497.21,23.80 L497.21,23.90 L497.21,24.00 L497.21,24.10 L497.21,24.20 L497.21,24.30 L497.21,24.40 L497.21,24.50 L497.21,24.60 L497.21,24.70 L497.21,24.80 L497.21,24.90 L497.21,25.00 L497.21,25.10 L497.21,25.20 L497.21,25.30 L497.21,25.40 L497.21,25.50 L497.21,25.60 L497.21,25.70 L497.21,25.80 L497.21,25.90 L497.21,26.00 L497.21,26.10 L497.21,26.20 L497.21,26.30 L497.21,26.40 L497.21,26.50 L497.21,26.60 L497.21,26.70 L497.21,26.80 L497.21,26.90 L497.21,27.00 L497.21,27.10 L497.21,27.20 L497.21,27.30 L497.21,27.40 L497.21,27.50 L497.21,27.60 L497.21,27.70 L497.21,27.80 L497.22,27.90 L497.22,28.00 L497.22,28.10 L497.22,28.20 L497.22,28.30 L497.22,28.40 L497.22,28.50 L497.22,28.60 L497.22,28.70 L497.22,28.80 L497.22,28.90 L497.22,29.00 L497.22,29.10 L497.22,29.20 L497.22,29.30 L497.22,29.40 L497.22,29.50 L497.22,29.60 L497.22,29.70 L497.22,29.80 L497.22,29.90 L497.22,30.00 L497.23,30.10 L497.23,30.20 L497.23,30.30 L497.23,30.40 L497.23,30.50 L497.23,30.60 L497.23,30.70 L497.23,30.80 L497.23,30.90 L497.23,31.00 L497.23,31.10 L497.23,31.20 L497.23,31.30 L497.24,31.40 L497.24,31.50 L497.24,31.60 L497.24,31.70 L497.24,31.80 L497.24,31.90 L497.24,32.00 L497.24,32.10 L497.25,32.20 L497.25,32.30 L497.25,32.40 L497.25,32.50 L497.25,32.60 L497.25,32.70 L497.25,32.80 L497.26,32.90 L497.26,33.00 L497.26,33.10 L497.26,33.20 L497.26,33.30 L497.27,33.40 L497.27,33.50 L497.27,33.60 L497.27,33.70 L497.27,33.80 L497.28,33.90 L497.28,34.00 L497.28,34.10 L497.29,34.20 L497.29,34.30 L497.29,34.40 L497.29,34.50 L497.30,34.60 L497.30,34.70 L497.30,34.80 L497.31,34.90 L497.31,35.00 L497.32,35.10 L497.32,35.20 L497.33,35.30 L497.33,35.40 L497.34,35.50 L497.34,35.60 L497.35,35.70 L497.35,35.80 L497.36,35.90 L497.36,36.00 L497.37,36.10 L497.38,36.20 L497.38,36.30 L497.39,36.40 L497.40,36.50 L497.41,36.60 L497.42,36.70 L497.42,36.80 L497.43,36.90 L497.44,37.00 L497.45,37.10 L497.46,37.20 L497.48,37.30 L497.49,37.40 L497.50,37.50 L497.51,37.60 L497.53,37.70 L497.54,37.80 L497.55,37.90 L497.57,38.00 L497.59,38.10 L497.60,38.20 L497.62,38.30 L497.64,38.40 L497.66,38.50 L497.68,38.60 L497.70,38.70 L497.72,38.80 L497.74,38.90 L497.77,39.00 L497.79,39.10 L497.82,39.20 L497.85,39.30 L497.88,39.40 L497.90,39.50 L497.93,39.60 L497.97,39.70 L498.00,39.80 L498.03,39.90 L498.07,40.00 L498.10,40.10 L498.14,40.20 L498.18,40.30 L498.22,40.40 L498.26,40.50 L498.30,40.60 L498.34,40.70 L498.39,40.80 L498.43,40.90 L498.49,41.00 L498.55,41.10 L498.65,41.20 L498.79,41.30 L499.02,41.40 L499.35,41.50 L499.80,41.60 L500.38,41.70 L501.06,41.80 L501.81,41.90 L502.58,42.00 L503.33,42.10 L504.02,42.20 L504.61,42.30 L505.09,42.40 L505.47,42.50 L505.75,42.60 L505.94,42.70 L506.06,42.80 L506.14,42.90 L506.18,43.00 L506.20,43.10 L506.20,43.20 L506.21,43.30 L506.21,43.40 L506.20,43.50 L506.18,43.60 L506.14,43.70 L506.06,43.80 L505.94,43.90 L505.75,44.00 L505.47,44.10 L505.10,44.20 L504.61,44.30 L504.02,44.40 L503.34,44.50 L502.59,44.60 L501.81,44.70 L501.06,44.80 L500.38,44.90 L499.80,45.00 L499.35,45.10 L499.02,45.20 L498.80,45.30 L498.65,45.40 L498.56,45.50 L498.49,45.60 L498.44,45.70 L498.39,45.80 L498.35,45.90 L498.30,46.00 L498.26,46.10 L498.22,46.20 L498.18,46.30 L498.15,46.40 L498.11,46.50 L498.07,46.60 L498.04,46.70 L498.00,46.80 L497.97,46.90 L497.94,47.00 L497.91,47.10 L497.88,47.20 L497.85,47.30 L497.83,47.40 L497.80,47.50 L497.78,47.60 L497.75,47.70 L497.73,47.80 L497.71,47.90 L497.69,48.00 L497.67,48.10 L497.65,48.20 L497.63,48.30 L497.61,48.40 L497.59,48.50 L497.58,48.60 L497.56,48.70 L497.55,48.80 L497.53,48.90 L497.52,49.00 L497.51,49.10 L497.50,49.20 L497.49,49.30 L497.47,49.40 L497.46,49.50 L497.45,49.60 L497.44,49.70 L497.44,49.80 L497.43,49.90 L497.42,50.00 L497.41,50.10 L497.40,50.20 L497.40,50.30 L497.39,50.40 L497.38,50.50 L497.38,50.60 L497.37,50.70 L497.36,50.80 L497.36,50.90 L497.35,51.00 L497.35,51.10 L497.34,51.20 L497.34,51.30 L497.34,51.40 L497.33,51.50 L497.33,51.60 L497.32,51.70 L497.32,51.80 L497.32,51.90 L497.31,52.00 L497.31,52.10 L497.31,52.20 L497.31,52.30 L497.30,52.40 L497.30,52.50 L497.30,52.60 L497.30,52.70 L497.29,52.80 L497.29,52.90 L497.29,53.00 L497.29,53.10 L497.29,53.20 L497.28,53.30 L497.28,53.40 L497.28,53.50 L497.28,53.60 L497.28,53.70 L497.28,53.80 L497.28,53.90 L497.27,54.00 L497.27,54.10 L497.27,54.20 L497.27,54.30 L497.27,54.40 L497.27,54.50 L497.27,54.60 L497.27,54.70 L497.27,54.80 L497.27,54.90 L497.27,55.00 L497.27,55.10 L497.27,55.20 L497.26,55.30 L497.26,55.40 L497.26,55.50 L497.26,55.60 L497.26,55.70 L497.26,55.80 L497.26,55.90 L497.26,56.00 L497.26,56.10 L497.26,56.20 L497.26,56.30 L497.26,56.40 L497.26,56.50 L497.26,56.60 L497.26,56.70 L497.26,56.80 L497.26,56.90 L497.26,57.00 L497.26,57.10 L497.26,57.20 L497.26,57.30 L497.26,57.40 L497.26,57.50 L497.27,57.60 L497.27,57.70 L497.27,57.80 L497.27,57.90 L497.27,58.00 L497.27,58.10 L497.27,58.20 L497.27,58.30 L497.27,58.40 L497.27,58.50 L497.27,58.60 L497.27,58.70 L497.27,58.80 L497.27,58.90 L497.27,59.00 L497.28,59.10 L497.28,59.20 L497.28,59.30 L497.28,59.40 L497.28,59.50 L497.28,59.60 L497.28,59.70 L497.28,59.80 L497.29,59.90 L497.29,60.00 L497.29,60.10 L497.29,60.20 L497.29,60.30 L497.29,60.40 L497.29,60.50 L497.30,60.60 L497.30,60.70 L497.30,60.80 L497.30,60.90 L497.30,61.00 L497.31,61.10 L497.31,61.20 L497.31,61.30 L497.31,61.40 L497.32,61.50 L497.32,61.60 L497.32,61.70 L497.32,61.80 L497.33,61.90 L497.33,62.00 L497.33,62.10 L497.33,62.20 L497.34,62.30 L497.34,62.40 L497.34,62.50 L497.35,62.60 L497.35,62.70 L497.35,62.80 L497.36,62.90 L497.36,63.00 L497.37,63.10 L497.37,63.20 L497.38,63.30 L497.38,63.40 L497.39,63.50 L497.39,63.60 L497.40,63.70 L497.40,63.80 L497.41,63.90 L497.41,64.00 L497.42,64.10 L497.42,64.20 L497.43,64.30 L497.44,64.40 L497.44,64.50 L497.45,64.60 L497.46,64.70 L497.47,64.80 L497.48,64.90 L497.48,65.00 L497.49,65.10 L497.50,65.20 L497.51,65.30 L497.52,65.40 L497.53,65.50 L497.54,65.60 L497.55,65.70 L497.57,65.80 L497.58,65.90 L497.59,66.00 L497.60,66.10 L497.62,66.20 L497.63,66.30 L497.65,66.40 L497.66,66.50 L497.68,66.60 L497.70,66.70 L497.72,66.80 L497.73,66.90 L497.75,67.00 L497.77,67.10 L497.80,67.20 L497.82,67.30 L497.84,67.40 L497.87,67.50 L497.89,67.60 L497.92,67.70 L497.95,67.80 L497.98,67.90 L498.01,68.00 L498.04,68.10 L498.07,68.20 L498.11,68.30 L498.14,68.40 L498.18,68.50 L498.22,68.60 L498.26,68.70 L498.31,68.80 L498.35,68.90 L498.40,69.00 L498.45,69.10 L498.50,69.20 L498.56,69.30 L498.61,69.40 L498.67,69.50 L498.74,69.60 L498.80,69.70 L498.87,69.80 L498.94,69.90 L499.01,70.00 L499.08,70.10 L499.16,70.20 L499.24,70.30 L499.32,70.40 L499.41,70.50 L499.50,70.60 L499.59,70.70 L499.68,70.80 L499.78,70.90 L499.88,71.00 L499.98,71.10 L500.08,71.20 L500.19,71.30 L500.30,71.40 L500.43,71.50 L500.59,71.60 L500.82,71.70 L501.16,71.80 L501.69,71.90 L502.46,72.00 L503.51,72.10 L504.85,72.20 L506.43,72.30 L508.18,72.40 L509.97,72.50 L511.72,72.60 L513.31,72.70 L514.69,72.80 L515.82,72.90 L516.70,73.00 L517.35,73.10 L517.80,73.20 L518.10,73.30 L518.28,73.40 L518.39,73.50 L518.44,73.60 L518.48,73.70 L518.49,73.80 L518.50,73.90 L518.50,74.00 L518.47,74.10 L518.39,74.20 L518.24,74.30 L517.97,74.40 L517.54,74.50 L516.92,74.60 L516.07,74.70 L514.97,74.80 L513.63,74.90 L512.06,75.00 L510.35,75.10 L508.58,75.20 L506.87,75.30 L505.32,75.40 L504.02,75.50 L503.00,75.60 L502.27,75.70 L501.78,75.80 L501.47,75.90 L501.28,76.00 L501.15,76.10 L501.07,76.20 L500.99,76.30 L500.93,76.40 L500.87,76.50 L500.81,76.60 L500.76,76.70 L500.71,76.80 L500.67,76.90 L500.63,77.00 L500.59,77.10 L500.56,77.20 L500.54,77.30 L500.52,77.40 L500.50,77.50 L500.49,77.60 L500.48,77.70 L500.48,77.80 L500.49,77.90 L500.50,78.00 L500.52,78.10 L500.54,78.20 L500.57,78.30 L500.60,78.40 L500.64,78.50 L500.68,78.60 L500.74,78.70 L500.79,78.80 L500.86,78.90 L500.93,79.00 L501.01,79.10 L501.09,79.20 L501.19,79.30 L501.29,79.40 L501.40,79.50 L501.51,79.60 L501.64,79.70 L501.77,79.80 L501.91,79.90 L502.06,80.00 L502.22,80.10 L502.39,80.20 L502.57,80.30 L502.76,80.40 L502.96,80.50 L503.17,80.60 L503.39,80.70 L503.63,80.80 L503.88,80.90 L504.14,81.00 L504.41,81.10 L504.70,81.20 L505.00,81.30 L505.32,81.40 L505.65,81.50 L506.00,81.60 L506.36,81.70 L506.75,81.80 L507.14,81.90 L507.56,82.00 L507.99,82.10 L508.44,82.20 L508.91,82.30 L509.40,82.40 L509.90,82.50 L510.42,82.60 L510.96,82.70 L511.52,82.80 L512.10,82.90 L512.69,83.00 L513.30,83.10 L513.93,83.20 L514.57,83.30 L515.22,83.40 L515.90,83.50 L516.62,83.60 L517.44,83.70 L518.48,83.80 L519.97,83.90 L522.26,84.00 L525.76,84.10 L530.91,84.20 L537.97,84.30 L546.97,84.40 L557.62,84.50 L569.36,84.60 L581.47,84.70 L593.20,84.80 L603.91,84.90 L613.16,85.00 L620.73,85.10 L626.61,85.20 L630.92,85.30 L633.91,85.40 L635.85,85.50 L637.02,85.60 L637.65,85.70 L637.96,85.80 L638.08,85.90 L638.12,86.00 L638.09,86.10 L637.97,86.20 L637.66,86.30 L637.03,86.40 L635.87,86.50 L633.93,86.60 L630.95,86.70 L626.64,86.80 L620.76,86.90 L613.20,87.00 L603.95,87.10 L593.24,87.20 L581.52,87.30 L569.41,87.40 L557.67,87.50 L547.02,87.60 L538.03,87.70 L530.97,87.80 L525.83,87.90 L522.33,88.00 L520.05,88.10 L518.56,88.20 L517.52,88.30 L516.71,88.40 L515.99,88.50 L515.32,88.60 L514.67,88.70 L514.03,88.80 L513.41,88.90 L512.81,89.00 L512.22,89.10 L511.65,89.20 L511.09,89.30 L510.56,89.40 L510.04,89.50 L509.54,89.60 L509.06,89.70 L508.60,89.80 L508.15,89.90 L507.73,90.00 L507.32,90.10 L506.93,90.20 L506.55,90.30 L506.20,90.40 L505.85,90.50 L505.53,90.60 L505.22,90.70 L504.92,90.80 L504.64,90.90 L504.38,91.00 L504.12,91.10 L503.88,91.20 L503.66,91.30 L503.44,91.40 L503.24,91.50 L503.05,91.60 L502.87,91.70 L502.70,91.80 L502.54,91.90 L502.39,92.00 L502.25,92.10 L502.12,92.20 L502.00,92.30 L501.89,92.40 L501.79,92.50 L501.69,92.60 L501.61,92.70 L501.53,92.80 L501.46,92.90 L501.40,93.00 L501.34,93.10 L501.29,93.20 L501.25,93.30 L501.22,93.40 L501.20,93.50 L501.18,93.60 L501.17,93.70 L501.16,93.80 L501.16,93.90 L501.17,94.00 L501.19,94.10 L501.22,94.20 L501.25,94.30 L501.29,94.40 L501.33,94.50 L501.38,94.60 L501.45,94.70 L501.51,94.80 L501.59,94.90 L501.68,95.00 L501.77,95.10 L501.87,95.20 L501.98,95.30 L502.10,95.40 L502.22,95.50 L502.36,95.60 L502.50,95.70 L502.66,95.80 L502.82,95.90 L502.99,96.00 L503.18,96.10 L503.37,96.20 L503.57,96.30 L503.79,96.40 L504.01,96.50 L504.25,96.60 L504.49,96.70 L504.75,96.80 L505.01,96.90 L505.29,97.00 L505.57,97.10 L505.87,97.20 L506.17,97.30 L506.48,97.40 L506.80,97.50 L507.13,97.60 L507.47,97.70 L507.84,97.80 L508.25,97.90 L508.79,98.00 L509.56,98.10 L510.75,98.20 L512.58,98.30 L515.27,98.40 L518.97,98.50 L523.70,98.60 L529.29,98.70 L535.45,98.80 L541.81,98.90 L547.97,99.00 L553.59,99.10 L558.45,99.20 L562.42,99.30 L565.50,99.40 L567.76,99.50 L569.32,99.60 L570.33,99.70 L570.94,99.80 L571.26,99.90 L571.42,100.00 L571.47,100.10 L571.48,100.20 L571.46,100.30 L571.39,100.40 L571.22,100.50 L570.88,100.60 L570.26,100.70 L569.24,100.80 L567.66,100.90 L565.38,101.00 L562.29,101.10 L558.30,101.20 L553.43,101.30 L547.79,101.40 L541.62,101.50 L535.24,101.60 L529.06,101.70 L523.45,101.80 L518.72,101.90 L515.00,102.00 L512.29,102.10 L510.44,102.20 L509.23,102.30 L508.44,102.40 L507.89,102.50 L507.45,102.60 L507.07,102.70 L506.71,102.80 L506.36,102.90 L506.01,103.00 L505.68,103.10 L505.35,103.20 L505.04,103.30 L504.73,103.40 L504.43,103.50 L504.14,103.60 L503.86,103.70 L503.59,103.80 L503.32,103.90 L503.07,104.00 L502.83,104.10 L502.59,104.20 L502.37,104.30 L502.15,104.40 L501.94,104.50 L501.75,104.60 L501.55,104.70 L501.37,104.80 L501.20,104.90 L501.03,105.00 L500.87,105.10 L500.72,105.20 L500.57,105.30 L500.43,105.40 L500.29,105.50 L500.17,105.60 L500.04,105.70 L499.93,105.80 L499.81,105.90 L499.71,106.00 L499.61,106.10 L499.51,106.20 L499.42,106.30 L499.33,106.40 L499.24,106.50 L499.16,106.60 L499.08,106.70 L499.01,106.80 L498.94,106.90 L498.87,107.00 L498.81,107.10 L498.75,107.20 L498.69,107.30 L498.63,107.40 L498.58,107.50 L498.53,107.60 L498.48,107.70 L498.43,107.80 L498.38,107.90 L498.34,108.00 L498.30,108.10 L498.26,108.20 L498.22,108.30 L498.19,108.40 L498.15,108.50 L498.12,108.60 L498.09,108.70 L498.06,108.80 L498.03,108.90 L498.00,109.00 L497.97,109.10 L497.95,109.20 L497.92,109.30 L497.90,109.40 L497.87,109.50 L497.85,109.60 L497.83,109.70 L497.81,109.80 L497.79,109.90 L497.77,110.00 L497.75,110.10 L497.74,110.20 L497.72,110.30 L497.70,110.40 L497.69,110.50 L497.67,110.60 L497.66,110.70 L497.65,110.80 L497.63,110.90 L497.62,111.00 L497.61,111.10 L497.60,111.20 L497.58,111.30 L497.57,111.40 L497.56,111.50 L497.55,111.60 L497.54,111.70 L497.53,111.80 L497.52,111.90 L497.51,112.00 L497.51,112.10 L497.50,112.20 L497.49,112.30 L497.48,112.40 L497.47,112.50 L497.47,112.60 L497.46,112.70 L497.45,112.80 L497.45,112.90 L497.44,113.00 L497.43,113.10 L497.43,113.20 L497.42,113.30 L497.42,113.40 L497.41,113.50 L497.41,113.60 L497.40,113.70 L497.40,113.80 L497.39,113.90 L497.39,114.00 L497.38,114.10 L497.38,114.20 L497.38,114.30 L497.37,114.40 L497.37,114.50 L497.36,114.60 L497.36,114.70 L497.36,114.80 L497.35,114.90 L497.35,115.00 L497.35,115.10 L497.34,115.20 L497.34,115.30 L497.34,115.40 L497.33,115.50 L497.33,115.60 L497.33,115.70 L497.33,115.80 L497.32,115.90 L497.32,116.00 L497.32,116.10 L497.32,116.20 L497.31,116.30 L497.31,116.40 L497.31,116.50 L497.31,116.60 L497.31,116.70 L497.30,116.80 L497.30,116.90 L497.30,117.00 L497.30,117.10 L497.30,117.20 L497.29,117.30 L497.29,117.40 L497.29,117.50 L497.29,117.60 L497.29,117.70 L497.29,117.80 L497.29,117.90 L497.28,118.00 L497.28,118.10 L497.28,118.20 L497.28,118.30 L497.28,118.40 L497.28,118.50 L497.28,118.60 L497.28,118.70 L497.27,118.80 L497.27,118.90 L497.27,119.00 L497.27,119.10 L497.27,119.20 L497.27,119.30 L497.27,119.40 L497.27,119.50 L497.27,119.60 L497.27,119.70 L497.27,119.80 L497.27,119.90 L497.26,120.00 L497.26,120.10 L497.26,120.20 L497.26,120.30 L497.26,120.40 L497.26,120.50 L497.26,120.60 L497.26,120.70 L497.26,120.80 L497.26,120.90 L497.26,121.00 L497.26,121.10 L497.26,121.20 L497.26,121.30 L497.26,121.40 L497.26,121.50 L497.26,121.60 L497.26,121.70 L497.26,121.80 L497.26,121.90 L497.26,122.00 L497.26,122.10 L497.26,122.20 L497.26,122.30 L497.26,122.40 L497.26,122.50 L497.26,122.60 L497.26,122.70 L497.26,122.80 L497.26,122.90 L497.26,123.00 L497.26,123.10 L497.26,123.20 L497.26,123.30 L497.26,123.40 L497.26,123.50 L497.26,123.60 L497.26,123.70 L497.26,123.80 L497.27,123.90 L497.27,124.00 L497.27,124.10 L497.27,124.20 L497.27,124.30 L497.27,124.40 L497.27,124.50 L497.27,124.60 L497.27,124.70 L497.28,124.80 L497.28,124.90 L497.28,125.00 L497.28,125.10 L497.28,125.20 L497.28,125.30 L497.29,125.40 L497.29,125.50 L497.29,125.60 L497.29,125.70 L497.29,125.80 L497.30,125.90 L497.30,126.00 L497.30,126.10 L497.31,126.20 L497.31,126.30 L497.31,126.40 L497.32,126.50 L497.32,126.60 L497.32,126.70 L497.33,126.80 L497.33,126.90 L497.34,127.00 L497.34,127.10 L497.35,127.20 L497.35,127.30 L497.36,127.40 L497.36,127.50 L497.37,127.60 L497.37,127.70 L497.38,127.80 L497.39,127.90 L497.40,128.00 L497.40,128.10 L497.41,128.20 L497.42,128.30 L497.43,128.40 L497.44,128.50 L497.45,128.60 L497.46,128.70 L497.47,128.80 L497.48,128.90 L497.49,129.00 L497.50,129.10 L497.51,129.20 L497.53,129.30 L497.54,129.40 L497.56,129.50 L497.57,129.60 L497.59,129.70 L497.60,129.80 L497.62,129.90 L497.64,130.00 L497.65,130.10 L497.67,130.20 L497.69,130.30 L497.71,130.40 L497.73,130.50 L497.75,130.60 L497.77,130.70 L497.80,130.80 L497.82,130.90 L497.84,131.00 L497.87,131.10 L497.89,131.20 L497.93,131.30 L497.98,131.40 L498.06,131.50 L498.18,131.60 L498.35,131.70 L498.59,131.80 L498.90,131.90 L499.26,132.00 L499.66,132.10 L500.08,132.20 L500.48,132.30 L500.84,132.40 L501.16,132.50 L501.42,132.60 L501.62,132.70 L501.76,132.80 L501.87,132.90 L501.93,133.00 L501.97,133.10 L501.99,133.20 L502.00,133.30 L502.01,133.40 L502.01,133.50 L502.01,133.60 L502.00,133.70 L501.99,133.80 L501.97,133.90 L501.93,134.00 L501.86,134.10 L501.76,134.20 L501.62,134.30 L501.41,134.40 L501.16,134.50 L500.84,134.60 L500.48,134.70 L500.08,134.80 L499.66,134.90 L499.26,135.00 L498.90,135.10 L498.59,135.20 L498.35,135.30 L498.17,135.40 L498.05,135.50 L497.98,135.60 L497.92,135.70 L497.89,135.80 L497.86,135.90 L497.84,136.00 L497.81,136.10 L497.79,136.20 L497.77,136.30 L497.75,136.40 L497.73,136.50 L497.71,136.60 L497.69,136.70 L497.67,136.80 L497.65,136.90 L497.63,137.00 L497.61,137.10 L497.60,137.20 L497.58,137.30 L497.56,137.40 L497.55,137.50 L497.53,137.60 L497.52,137.70 L497.51,137.80 L497.49,137.90 L497.48,138.00 L497.47,138.10 L497.46,138.20 L497.45,138.30 L497.44,138.40 L497.43,138.50 L497.42,138.60 L497.41,138.70 L497.40,138.80 L497.39,138.90 L497.38,139.00 L497.38,139.10 L497.37,139.20 L497.36,139.30 L497.36,139.40 L497.35,139.50 L497.34,139.60 L497.34,139.70 L497.33,139.80 L497.33,139.90 L497.32,140.00 L497.32,140.10 L497.31,140.20 L497.31,140.30 L497.30,140.40 L497.30,140.50 L497.30,140.60 L497.29,140.70 L497.29,140.80 L497.29,140.90 L497.28,141.00 L497.28,141.10 L497.28,141.20 L497.27,141.30 L497.27,141.40 L497.27,141.50 L497.27,141.60 L497.26,141.70 L497.26,141.80 L497.26,141.90 L497.26,142.00 L497.26,142.10 L497.25,142.20 L497.25,142.30 L497.25,142.40 L497.25,142.50 L497.25,142.60 L497.25,142.70 L497.24,142.80 L497.24,142.90 L497.24,143.00 L497.24,143.10 L497.24,143.20 L497.24,143.30 L497.24,143.40 L497.24,143.50 L497.23,143.60 L497.23,143.70 L497.23,143.80 L497.23,143.90 L497.23,144.00 L497.23,144.10 L497.23,144.20 L497.23,144.30 L497.23,144.40 L497.23,144.50 L497.23,144.60 L497.23,144.70 L497.22,144.80 L497.22,144.90 L497.22,145.00 L497.22,145.10 L497.22,145.20 L497.22,145.30 L497.22,145.40 L497.22,145.50 L497.22,145.60 L497.22,145.70 L497.22,145.80 L497.22,145.90 L497.22,146.00 L497.22,146.10 L497.22,146.20 L497.22,146.30 L497.22,146.40 L497.22,146.50 L497.22,146.60 L497.22,146.70 L497.21,146.80 L497.21,146.90 L497.21,147.00 L497.21,147.10 L497.21,147.20 L497.21,147.30 L497.21,147.40 L497.21,147.50 L497.21,147.60 L497.21,147.70 L497.21,147.80 L497.21,147.90 L497.21,148.00 L497.21,148.10 L497.21,148.20 L497.21,148.30 L497.21,148.40 L497.21,148.50 L497.21,148.60 L497.21,148.70 L497.21,148.80 L497.21,148.90 L497.21,149.00 L497.21,149.10 L497.21,149.20 L497.21,149.30 L497.21,149.40 L497.21,149.50 L497.21,149.60 L497.21,149.70 L497.21,149.80 L497.21,149.90 L497.21,150.00 L497.21,150.10 L497.21,150.20 L497.21,150.30 L497.21,150.40 L497.21,150.50 L497.21,150.60 L497.21,150.70 L497.21,150.80 L497.21,150.90 L497.21,151.00 L497.21,151.10 L497.21,151.20 L497.21,151.30 L497.21,151.40 L497.21,151.50 L497.21,151.60 L497.21,151.70 L497.21,151.80 L497.21,151.90 L497.21,152.00 L497.21,152.10 L497.21,152.20 L497.21,152.30 L497.21,152.40 L497.20,152.50 L497.20,152.60 L497.20,152.70 L497.20,152.80 L497.20,152.90 L497.20,153.00 L497.20,153.10 L497.20,153.20 L497.20,153.30 L497.20,153.40 L497.20,153.50 L497.20,153.60 L497.20,153.70 L497.20,153.80 L497.20,153.90 L497.20,154.00 L497.20,154.10 L497.20,154.20 L497.20,154.30 L497.20,154.40 L497.20,154.50 L497.20,154.60 L497.20,154.70 L497.20,154.80 L497.20,154.90 L497.20,155.00 L497.20,155.10 L497.20,155.20 L497.20,155.30 L497.20,155.40 L497.20,155.50 L497.20,155.60 L497.20,155.70 L497.20,155.80 L497.20,155.90 L497.20,156.00 L497.20,156.10 L497.20,156.20 L497.20,156.30 L497.20,156.40 L497.20,156.50 L497.20,156.60 L497.20,156.70 L497.20,156.80 L497.20,156.90 L497.20,157.00 L497.20,157.10 L497.20,157.20 L497.20,157.30 L497.20,157.40 L497.20,157.50 L497.20,157.60 L497.20,157.70 L497.20,157.80 L497.20,157.90 L497.20,158.00 L497.20,158.10 L497.20,158.20 L497.20,158.30 L497.20,158.40 L497.20,158.50 L497.20,158.60 L497.20,158.70 L497.20,158.80 L497.20,158.90 L497.20,159.00 L497.20,159.10 L497.20,159.20 L497.20,159.30 L497.20,159.40 L497.20,159.50 L497.20,159.60 L497.20,159.70 L497.20,159.80 L497.20,159.90 L497.20,160.00 L497.20,160.10 L497.20,160.20 L497.20,160.30 L497.20,160.40 L497.20,160.50 L497.20,160.60 L497.20,160.70 L497.20,160.80 L497.20,160.90 L497.20,161.00 L497.20,161.10 L497.20,161.20 L497.20,161.30 L497.20,161.40 L497.20,161.50 L497.20,161.60 L497.20,161.70 L497.20,161.80 L497.20,161.90 L497.20,162.00 L497.20,162.10 L497.20,162.20 L497.20,162.30 L497.20,162.40 L497.20,162.50 L497.20,162.60 L497.20,162.70 L497.20,162.80 L497.20,162.90 L497.20,163.00 L497.20,163.10 L497.20,163.20 L497.20,163.30 L497.20,163.40 L497.20,163.50 L497.20,163.60 L497.20,163.70 L497.20,163.80 L497.20,163.90 L497.20,164.00 L497.20,164.10 L497.20,164.20 L497.20,164.30 L497.20,164.40 L497.20,164.50 L497.20,164.60 L497.20,164.70 L497.20,164.80 L497.20,164.90 L497.20,165.00 L497.20,165.10 L497.20,165.20 L497.20,165.30 L497.20,165.40 L497.20,165.50 L497.20,165.60 L497.20,165.70 L497.20,165.80 L497.20,165.90 L497.20,166.00 L497.20,166.10 L497.20,166.20 L497.20,166.30 L497.20,166.40 L497.20,166.50 L497.20,166.60 L497.20,166.70 L497.20,166.80 L497.20,166.90 L497.20,167.00 L497.20,167.10 L497.20,167.20 L497.20,167.30 L497.20,167.40 L497.20,167.50 L497.20,167.60 L497.20,167.70 L497.20,167.80 L497.20,167.90 L497.20,168.00 L497.20,168.10 L497.20,168.20 L497.20,168.30 L497.20,168.40 L497.20,168.50 L497.20,168.60 L497.20,168.70 L497.20,168.80 L497.20,168.90 L497.20,169.00 L497.20,169.10 L497.20,169.20 L497.20,169.30 L497.20,169.40 L497.20,169.50 L497.20,169.60 L497.20,169.70 L497.20,169.80 L497.20,169.90 L497.20,170.00 L497.20,170.10 L497.20,170.20 L497.20,170.30 L497.20,170.40 L497.20,170.50 L497.20,170.60 L497.20,170.70 L497.20,170.80 L497.20,170.90 L497.20,171.00 L497.20,171.10 L497.20,171.20 L497.20,171.30 L497.20,171.40 L497.20,171.50 L497.20,171.60 L497.20,171.70 L497.20,171.80 L497.20,171.90 L497.20,172.00 L497.20,172.10 L497.20,172.20 L497.20,172.30 L497.20,172.40 L497.20,172.50 L497.20,172.60 L497.20,172.70 L497.20,172.80 L497.20,172.90 L497.20,173.00 L497.20,173.10 L497.20,173.20 L497.20,173.30 L497.20,173.40 L497.20,173.50 L497.20,173.60 L497.20,173.70 L497.20,173.80 L497.20,173.90 L497.20,174.00 L497.20,174.10 L497.20,174.20 L497.20,174.30 L497.20,174.40 L497.20,174.50 L497.20,174.60 L497.20,174.70 L497.20,174.80 L497.20,174.90 L497.20,175.00 L497.20,175.10 L497.20,175.20 L497.20,175.30 L497.20,175.40 L497.20,175.50 L497.20,175.60 L497.20,175.70 L497.20,175.80 L497.20,175.90 L497.20,176.00 L497.20,176.10 L497.20,176.20 L497.20,176.30 L497.20,176.40 L497.20,176.50 L497.20,176.60 L497.20,176.70 L497.20,176.80 L497.20,176.90 L497.20,177.00 L497.20,177.10 L497.20,177.20 L497.20,177.30 L497.20,177.40 L497.20,177.50 L497.20,177.60 L497.20,177.70 L497.20,177.80 L497.20,177.90 L497.20,178.00 L497.20,178.10 L497.20,178.20 L497.20,178.30 L497.20,178.40 L497.20,178.50 L497.20,178.60 L497.20,178.70 L497.20,178.80 L497.20,178.90 L497.20,179.00 L497.20,179.10 L497.20,179.20 L497.20,179.30 L497.20,179.40 L497.20,179.50 L497.20,179.60 L497.20,179.70 L497.20,179.80 L497.20,179.90 L497.20,180.00 L497.20,180.10 L497.20,180.20 L497.20,180.30 L497.20,180.40 L497.20,180.50 L497.20,180.60 L497.20,180.70 L497.20,180.80 L497.20,180.90 L497.20,181.00 L497.20,181.10 L497.20,181.20 L497.20,181.30 L497.20,181.40 L497.20,181.50 L497.20,181.60 L497.20,181.70 L497.20,181.80 L497.20,181.90 L497.20,182.00 L497.20,182.10 L497.20,182.20 L497.20,182.30 L497.20,182.40 L497.20,182.50 L497.20,182.60 L497.20,182.70 L497.20,182.80 L497.20,182.90 L497.20,183.00 L497.20,183.10 L497.20,183.20 L497.20,183.30 L497.20,183.40 L497.20,183.50 L497.20,183.60 L497.20,183.70 L497.20,183.80 L497.20,183.90 L497.20,184.00 L497.20,184.10 L497.20,184.20 L497.20,184.30 L497.20,184.40 L497.20,184.50 L497.20,184.60 L497.20,184.70 L497.20,184.80 L497.20,184.90 L497.20,185.00 L497.20,185.10 L497.20,185.20 L497.20,185.30 L497.20,185.40 L497.20,185.50 L497.20,185.60 L497.20,185.70 L497.20,185.80 L497.20,185.90 L497.20,186.00 L497.20,186.10 L497.20,186.20 L497.20,186.30 L497.20,186.40 L497.20,186.50 L497.20,186.60 L497.20,186.70 L497.20,186.80 L497.20,186.90 L497.20,187.00 L497.20,187.10 L497.20,187.20 L497.20,187.30 L497.20,187.40 L497.20,187.50 L497.20,187.60 L497.20,187.70 L497.20,187.80 L497.20,187.90 L497.20,188.00 L497.20,188.10 L497.20,188.20 L497.20,188.30 L497.20,188.40 L497.20,188.50 L497.20,188.60 L497.20,188.70 L497.20,188.80 L497.20,188.90 L497.20,189.00 L497.20,189.10 L497.20,189.20 L497.20,189.30 L497.20,189.40 L497.20,189.50 L497.20,189.60 L497.20,189.70 L497.20,189.80 L497.20,189.90 L497.20,190.00 L497.20,190.10 L497.20,190.20 L497.20,190.30 L497.20,190.40 L497.20,190.50 L497.20,190.60 L497.20,190.70 L497.20,190.80 L497.20,190.90 L497.20,191.00 L497.20,191.10 L497.20,191.20 L497.20,191.30 L497.20,191.40 L497.20,191.50 L497.20,191.60 L497.20,191.70 L497.20,191.80 L497.20,191.90 L497.20,192.00 L497.20,192.10 L497.20,192.20 L497.20,192.30 L497.20,192.40 L497.20,192.50 L497.20,192.60 L497.20,192.70 L497.20,192.80 L497.20,192.90 L497.20,193.00 L497.20,193.10 L497.20,193.20 L497.20,193.30 L497.20,193.40 L497.20,193.50 L497.20,193.60 L497.20,193.70 L497.20,193.80 L497.20,193.90 L497.20,194.00 L497.20,194.10 L497.20,194.20 L497.20,194.30 L497.20,194.40 L497.20,194.50 L497.20,194.60 L497.20,194.70 L497.20,194.80 L497.20,194.90 L497.20,195.00 L497.20,195.10 L497.20,195.20 L497.20,195.30 L497.20,195.40 L497.20,195.50 L497.20,195.60 L497.20,195.70 L497.20,195.80 L497.20,195.90 L497.20,196.00 L497.20,196.10 L497.20,196.20 L497.20,196.30 L497.20,196.40 L497.20,196.50 L497.20,196.60 L497.20,196.70 L497.20,196.80 L497.20,196.90 L497.20,197.00 L497.20,197.10 L497.20,197.20 L497.20,197.30 L497.20,197.40 L497.20,197.50 L497.20,197.60 L497.20,197.70 L497.20,197.80 L497.20,197.90 L497.20,198.00 L497.20,198.10 L497.20,198.20 L497.20,198.30 L497.20,198.40 L497.20,198.50 L497.20,198.60 L497.20,198.70 L497.20,198.80 L497.20,198.90 L497.20,199.00 L497.20,199.10 L497.20,199.20 L497.20,199.30 L497.20,199.40 L497.20,199.50 L497.20,199.60 L497.20,199.70 L497.20,199.80 L497.20,199.90 L497.20,200.00 L497.20,200.10 L497.20,200.20 L497.20,200.30 L497.20,200.40 L497.20,200.50 L497.20,200.60 L497.20,200.70 L497.20,200.80 L497.20,200.90 L497.20,201.00 L497.20,201.10 L497.20,201.20 L497.20,201.30 L497.20,201.40 L497.20,201.50 L497.20,201.60 L497.20,201.70 L497.20,201.80 L497.20,201.90 L497.20,202.00 L497.20,202.10 L497.20,202.20 L497.20,202.30 L497.20,202.40 L497.20,202.50 L497.20,202.60 L497.20,202.70 L497.20,202.80 L497.20,202.90 L497.20,203.00 L497.20,203.10 L497.20,203.20 L497.20,203.30 L497.20,203.40 L497.20,203.50 L497.20,203.60 L497.20,203.70 L497.20,203.80 L497.20,203.90 L497.20,204.00 L497.20,204.10 L497.20,204.20 L497.20,204.30 L497.20,204.40 L497.20,204.50 L497.20,204.60 L497.20,204.70 L497.20,204.80 L497.20,204.90 L497.20,205.00 L497.20,205.10 L497.20,205.20 L497.20,205.30 L497.20,205.40 L497.20,205.50 L497.20,205.60 L497.20,205.70 L497.20,205.80 L497.20,205.90 L497.20,206.00 L497.20,206.10 L497.20,206.20 L497.20,206.30 L497.20,206.40 L497.20,206.50 L497.20,206.60 L497.20,206.70 L497.20,206.80 L497.20,206.90 L497.20,207.00 L497.20,207.10 L497.20,207.20 L497.20,207.30 L497.20,207.40 L497.20,207.50 L497.20,207.60 L497.20,207.70 L497.20,207.80 L497.20,207.90 L497.20,208.00 L497.20,208.10 L497.20,208.20 L497.20,208.30 L497.20,208.40" fill="none" stroke="#0000ff" stroke-width="2.9" stroke-linejoin="round"/>
</g></svg>
<rect x="496.10" y="0.15" width="174.40" height="208.25" fill="none" stroke="#1a1a1a" stroke-width="1.05"/>
<circle cx="655.5" cy="87.8" r="6.4" fill="#0000ff"/>
<path d="M368,257.8 L371.2,255.6 L377.4,268 L382.8,242.3 H408.6" fill="none" stroke="#000" stroke-width="1.1" stroke-linejoin="miter"/>
<path d="M371.2,255.6 L377.4,268" fill="none" stroke="#000" stroke-width="1.8"/>
<svg x="46.85" y="292.40" width="277.15" height="208.00" overflow="hidden"><g transform="translate(-46.85,-292.40)">
<path d="M268.56,292.4 V499.9" stroke="#888" stroke-width="1.1" stroke-dasharray="5.7 5.4" stroke-dashoffset="5.7"/>
<path d="M296.28,292.4 V499.9" stroke="#888" stroke-width="1.1" stroke-dasharray="5.7 5.4" stroke-dashoffset="5.7"/>
<path d="M46.80,498.58 L47.20,498.57 L47.59,498.57 L47.99,498.56 L48.39,498.55 L48.78,498.55 L49.18,498.54 L49.58,498.54 L49.97,498.53 L50.37,498.53 L50.77,498.52 L51.16,498.51 L51.56,498.51 L51.96,498.50 L52.35,498.49 L52.75,498.49 L53.15,498.48 L53.54,498.47 L53.94,498.46 L54.33,498.46 L54.73,498.45 L55.13,498.44 L55.52,498.43 L55.92,498.42 L56.32,498.42 L56.71,498.41 L57.11,498.40 L57.51,498.39 L57.90,498.38 L58.30,498.37 L58.70,498.36 L59.09,498.35 L59.49,498.34 L59.89,498.33 L60.28,498.32 L60.68,498.31 L61.08,498.30 L61.47,498.29 L61.87,498.28 L62.27,498.27 L62.66,498.26 L63.06,498.24 L63.46,498.23 L63.85,498.22 L64.25,498.21 L64.65,498.20 L65.04,498.18 L65.44,498.17 L65.84,498.16 L66.23,498.14 L66.63,498.13 L67.02,498.11 L67.42,498.10 L67.82,498.09 L68.21,498.07 L68.61,498.06 L69.01,498.04 L69.40,498.02 L69.80,498.01 L70.20,497.99 L70.59,497.97 L70.99,497.96 L71.39,497.94 L71.78,497.92 L72.18,497.90 L72.58,497.89 L72.97,497.87 L73.37,497.85 L73.77,497.83 L74.16,497.81 L74.56,497.79 L74.96,497.77 L75.35,497.75 L75.75,497.73 L76.15,497.70 L76.54,497.68 L76.94,497.66 L77.34,497.64 L77.73,497.61 L78.13,497.59 L78.53,497.57 L78.92,497.54 L79.32,497.52 L79.72,497.49 L80.11,497.47 L80.51,497.44 L80.90,497.41 L81.30,497.39 L81.70,497.36 L82.09,497.33 L82.49,497.30 L82.89,497.27 L83.28,497.24 L83.68,497.21 L84.08,497.18 L84.47,497.15 L84.87,497.12 L85.27,497.09 L85.66,497.05 L86.06,497.02 L86.46,496.99 L86.85,496.95 L87.25,496.92 L87.65,496.88 L88.04,496.84 L88.44,496.81 L88.84,496.77 L89.23,496.73 L89.63,496.69 L90.03,496.65 L90.42,496.61 L90.82,496.57 L91.22,496.53 L91.61,496.49 L92.01,496.45 L92.41,496.40 L92.80,496.36 L93.20,496.31 L93.59,496.27 L93.99,496.22 L94.39,496.18 L94.78,496.13 L95.18,496.08 L95.58,496.03 L95.97,495.98 L96.37,495.93 L96.77,495.88 L97.16,495.83 L97.56,495.77 L97.96,495.72 L98.35,495.66 L98.75,495.61 L99.15,495.55 L99.54,495.49 L99.94,495.43 L100.34,495.38 L100.73,495.32 L101.13,495.25 L101.53,495.19 L101.92,495.13 L102.32,495.07 L102.72,495.00 L103.11,494.94 L103.51,494.87 L103.91,494.80 L104.30,494.73 L104.70,494.66 L105.10,494.59 L105.49,494.52 L105.89,494.45 L106.28,494.37 L106.68,494.30 L107.08,494.22 L107.47,494.14 L107.87,494.07 L108.27,493.99 L108.66,493.91 L109.06,493.83 L109.46,493.74 L109.85,493.66 L110.25,493.57 L110.65,493.49 L111.04,493.40 L111.44,493.31 L111.84,493.22 L112.23,493.13 L112.63,493.04 L113.03,492.94 L113.42,492.85 L113.82,492.75 L114.22,492.65 L114.61,492.56 L115.01,492.46 L115.41,492.35 L115.80,492.25 L116.20,492.15 L116.60,492.04 L116.99,491.93 L117.39,491.83 L117.79,491.72 L118.18,491.60 L118.58,491.49 L118.98,491.38 L119.37,491.26 L119.77,491.14 L120.16,491.02 L120.56,490.90 L120.96,490.78 L121.35,490.66 L121.75,490.53 L122.15,490.41 L122.54,490.28 L122.94,490.15 L123.34,490.02 L123.73,489.89 L124.13,489.75 L124.53,489.62 L124.92,489.48 L125.32,489.34 L125.72,489.20 L126.11,489.05 L126.51,488.91 L126.91,488.76 L127.30,488.61 L127.70,488.46 L128.10,488.31 L128.49,488.16 L128.89,488.00 L129.29,487.85 L129.68,487.69 L130.08,487.53 L130.48,487.36 L130.87,487.20 L131.27,487.03 L131.67,486.86 L132.06,486.69 L132.46,486.52 L132.85,486.35 L133.25,486.17 L133.65,485.99 L134.04,485.81 L134.44,485.63 L134.84,485.45 L135.23,485.26 L135.63,485.07 L136.03,484.88 L136.42,484.69 L136.82,484.50 L137.22,484.30 L137.61,484.10 L138.01,483.90 L138.41,483.70 L138.80,483.50 L139.20,483.29 L139.60,483.08 L139.99,482.87 L140.39,482.66 L140.79,482.44 L141.18,482.22 L141.58,482.00 L141.98,481.78 L142.37,481.56 L142.77,481.33 L143.17,481.10 L143.56,480.87 L143.96,480.64 L144.36,480.40 L144.75,480.16 L145.15,479.92 L145.55,479.68 L145.94,479.44 L146.34,479.19 L146.73,478.94 L147.13,478.69 L147.53,478.43 L147.92,478.18 L148.32,477.92 L148.72,477.66 L149.11,477.39 L149.51,477.13 L149.91,476.86 L150.30,476.59 L150.70,476.31 L151.10,476.04 L151.49,475.76 L151.89,475.48 L152.29,475.20 L152.68,474.91 L153.08,474.62 L153.48,474.33 L153.87,474.04 L154.27,473.74 L154.67,473.45 L155.06,473.15 L155.46,472.84 L155.86,472.54 L156.25,472.23 L156.65,471.92 L157.05,471.61 L157.44,471.29 L157.84,470.97 L158.24,470.65 L158.63,470.33 L159.03,470.00 L159.42,469.68 L159.82,469.35 L160.22,469.01 L160.61,468.68 L161.01,468.34 L161.41,468.00 L161.80,467.65 L162.20,467.31 L162.60,466.96 L162.99,466.61 L163.39,466.26 L163.79,465.90 L164.18,465.54 L164.58,465.18 L164.98,464.82 L165.37,464.45 L165.77,464.08 L166.17,463.71 L166.56,463.34 L166.96,462.96 L167.36,462.59 L167.75,462.20 L168.15,461.82 L168.55,461.44 L168.94,461.05 L169.34,460.66 L169.74,460.26 L170.13,459.87 L170.53,459.47 L170.93,459.07 L171.32,458.66 L171.72,458.26 L172.12,457.85 L172.51,457.44 L172.91,457.03 L173.30,456.61 L173.70,456.20 L174.10,455.78 L174.49,455.35 L174.89,454.93 L175.29,454.50 L175.68,454.07 L176.08,453.64 L176.48,453.21 L176.87,452.77 L177.27,452.33 L177.67,451.89 L178.06,451.45 L178.46,451.01 L178.86,450.56 L179.25,450.11 L179.65,449.66 L180.05,449.20 L180.44,448.75 L180.84,448.29 L181.24,447.83 L181.63,447.37 L182.03,446.90 L182.43,446.44 L182.82,445.97 L183.22,445.50 L183.62,445.03 L184.01,444.55 L184.41,444.08 L184.81,443.60 L185.20,443.12 L185.60,442.64 L185.99,442.15 L186.39,441.67 L186.79,441.18 L187.18,440.69 L187.58,440.20 L187.98,439.71 L188.37,439.21 L188.77,438.72 L189.17,438.22 L189.56,437.72 L189.96,437.22 L190.36,436.72 L190.75,436.21 L191.15,435.71 L191.55,435.20 L191.94,434.69 L192.34,434.19 L192.74,433.67 L193.13,433.16 L193.53,432.65 L193.93,432.13 L194.32,431.62 L194.72,431.10 L195.12,430.58 L195.51,430.06 L195.91,429.54 L196.31,429.02 L196.70,428.50 L197.10,427.97 L197.50,427.45 L197.89,426.92 L198.29,426.40 L198.68,425.87 L199.08,425.34 L199.48,424.81 L199.87,424.28 L200.27,423.75 L200.67,423.22 L201.06,422.69 L201.46,422.15 L201.86,421.62 L202.25,421.09 L202.65,420.55 L203.05,420.02 L203.44,419.48 L203.84,418.95 L204.24,418.41 L204.63,417.88 L205.03,417.34 L205.43,416.81 L205.82,416.27 L206.22,415.73 L206.62,415.20 L207.01,414.66 L207.41,414.12 L207.81,413.59 L208.20,413.05 L208.60,412.52 L209.00,411.98 L209.39,411.44 L209.79,410.91 L210.19,410.37 L210.58,409.84 L210.98,409.31 L211.38,408.77 L211.77,408.24 L212.17,407.71 L212.56,407.17 L212.96,406.64 L213.36,406.11 L213.75,405.58 L214.15,405.05 L214.55,404.53 L214.94,404.00 L215.34,403.47 L215.74,402.95 L216.13,402.42 L216.53,401.90 L216.93,401.38 L217.32,400.86 L217.72,400.34 L218.12,399.82 L218.51,399.31 L218.91,398.79 L219.31,398.28 L219.70,397.76 L220.10,397.25 L220.50,396.74 L220.89,396.24 L221.29,395.73 L221.69,395.23 L222.08,394.73 L222.48,394.23 L222.88,393.73 L223.27,393.23 L223.67,392.74 L224.07,392.24 L224.46,391.75 L224.86,391.27 L225.25,390.78 L225.65,390.30 L226.05,389.82 L226.44,389.34 L226.84,388.86 L227.24,388.39 L227.63,387.92 L228.03,387.45 L228.43,386.98 L228.82,386.52 L229.22,386.06 L229.62,385.60 L230.01,385.14 L230.41,384.69 L230.81,384.24 L231.20,383.79 L231.60,383.35 L232.00,382.91 L232.39,382.47 L232.79,382.04 L233.19,381.61 L233.58,381.18 L233.98,380.76 L234.38,380.33 L234.77,379.92 L235.17,379.50 L235.57,379.09 L235.96,378.68 L236.36,378.28 L236.76,377.88 L237.15,377.48 L237.55,377.09 L237.95,376.70 L238.34,376.32 L238.74,375.93 L239.13,375.56 L239.53,375.18 L239.93,374.81 L240.32,374.45 L240.72,374.09 L241.12,373.73 L241.51,373.37 L241.91,373.03 L242.31,372.68 L242.70,372.34 L243.10,372.00 L243.50,371.67 L243.89,371.34 L244.29,371.02 L244.69,370.70 L245.08,370.39 L245.48,370.08 L245.88,369.77 L246.27,369.47 L246.67,369.17 L247.07,368.88 L247.46,368.59 L247.86,368.31 L248.26,368.03 L248.65,367.76 L249.05,367.49 L249.45,367.23 L249.84,366.97 L250.24,366.72 L250.64,366.47 L251.03,366.23 L251.43,365.99 L251.82,365.76 L252.22,365.53 L252.62,365.31 L253.01,365.09 L253.41,364.88 L253.81,364.67 L254.20,364.47 L254.60,364.27 L255.00,364.08 L255.39,363.89 L255.79,363.71 L256.19,363.53 L256.58,363.36 L256.98,363.20 L257.38,363.04 L257.77,362.88 L258.17,362.73 L258.57,362.59 L258.96,362.45 L259.36,362.32 L259.76,362.19 L260.15,362.07 L260.55,361.95 L260.95,361.84 L261.34,361.74 L261.74,361.64 L262.14,361.54 L262.53,361.45 L262.93,361.37 L263.33,361.29 L263.72,361.22 L264.12,361.16 L264.52,361.09 L264.91,361.04 L265.31,360.99 L265.70,360.95 L266.10,360.91 L266.50,360.88 L266.89,360.85 L267.29,360.83 L267.69,360.81 L268.08,360.80 L268.48,360.80 L268.88,360.80 L269.27,360.81 L269.67,360.82 L270.07,360.84 L270.46,360.87 L270.86,360.90 L271.26,360.93 L271.65,360.97 L272.05,361.02 L272.45,361.07 L272.84,361.13 L273.24,361.19 L273.64,361.26 L274.03,361.34 L274.43,361.42 L274.83,361.51 L275.22,361.60 L275.62,361.70 L276.02,361.80 L276.41,361.91 L276.81,362.02 L277.21,362.14 L277.60,362.27 L278.00,362.40 L278.39,362.53 L278.79,362.67 L279.19,362.82 L279.58,362.97 L279.98,363.13 L280.38,363.29 L280.77,363.46 L281.17,363.64 L281.57,363.82 L281.96,364.00 L282.36,364.19 L282.76,364.39 L283.15,364.59 L283.55,364.79 L283.95,365.00 L284.34,365.22 L284.74,365.44 L285.14,365.67 L285.53,365.90 L285.93,366.13 L286.33,366.37 L286.72,366.62 L287.12,366.87 L287.52,367.13 L287.91,367.39 L288.31,367.65 L288.71,367.92 L289.10,368.20 L289.50,368.48 L289.90,368.77 L290.29,369.06 L290.69,369.35 L291.08,369.65 L291.48,369.95 L291.88,370.26 L292.27,370.57 L292.67,370.89 L293.07,371.21 L293.46,371.54 L293.86,371.87 L294.26,372.20 L294.65,372.54 L295.05,372.89 L295.45,373.23 L295.84,373.59 L296.24,373.94 L296.64,374.30 L297.03,374.67 L297.43,375.03 L297.83,375.41 L298.22,375.78 L298.62,376.16 L299.02,376.55 L299.41,376.93 L299.81,377.33 L300.21,377.72 L300.60,378.12 L301.00,378.52 L301.40,378.93 L301.79,379.34 L302.19,379.75 L302.59,380.17 L302.98,380.59 L303.38,381.01 L303.78,381.44 L304.17,381.87 L304.57,382.30 L304.96,382.74 L305.36,383.17 L305.76,383.62 L306.15,384.06 L306.55,384.51 L306.95,384.96 L307.34,385.42 L307.74,385.87 L308.14,386.33 L308.53,386.80 L308.93,387.26 L309.33,387.73 L309.72,388.20 L310.12,388.67 L310.52,389.15 L310.91,389.62 L311.31,390.10 L311.71,390.59 L312.10,391.07 L312.50,391.56 L312.90,392.05 L313.29,392.54 L313.69,393.03 L314.09,393.53 L314.48,394.03 L314.88,394.53 L315.28,395.03 L315.67,395.53 L316.07,396.04 L316.47,396.54 L316.86,397.05 L317.26,397.56 L317.65,398.07 L318.05,398.58 L318.45,399.10 L318.84,399.62 L319.24,400.13 L319.64,400.65 L320.03,401.17 L320.43,401.69 L320.83,402.21 L321.22,402.74 L321.62,403.26 L322.02,403.79 L322.41,404.32 L322.81,404.84 L323.21,405.37 L323.60,405.90 L324.00,406.43" fill="none" stroke="#000" stroke-width="1.5"/>
<path d="M45.85,498.54 L46.10,498.54 L46.35,498.54 L46.60,498.54 L46.85,498.54 L47.10,498.54 L47.35,498.54 L47.60,498.53 L47.85,498.53 L48.10,498.53 L48.35,498.53 L48.60,498.53 L48.85,498.53 L49.10,498.53 L49.35,498.53 L49.60,498.53 L49.85,498.53 L50.10,498.52 L50.35,498.52 L50.60,498.52 L50.85,498.52 L51.10,498.52 L51.35,498.52 L51.60,498.52 L51.85,498.52 L52.10,498.52 L52.35,498.51 L52.60,498.51 L52.85,498.51 L53.10,498.51 L53.35,498.51 L53.60,498.51 L53.85,498.51 L54.10,498.51 L54.35,498.51 L54.60,498.50 L54.85,498.50 L55.10,498.50 L55.35,498.50 L55.60,498.50 L55.85,498.50 L56.10,498.50 L56.35,498.50 L56.60,498.50 L56.85,498.49 L57.10,498.49 L57.35,498.49 L57.60,498.49 L57.85,498.49 L58.10,498.49 L58.35,498.49 L58.60,498.49 L58.85,498.48 L59.10,498.48 L59.35,498.48 L59.60,498.48 L59.85,498.48 L60.10,498.48 L60.35,498.48 L60.60,498.47 L60.85,498.47 L61.10,498.47 L61.35,498.47 L61.60,498.47 L61.85,498.47 L62.10,498.47 L62.35,498.46 L62.60,498.46 L62.85,498.46 L63.10,498.46 L63.35,498.46 L63.60,498.46 L63.85,498.46 L64.10,498.45 L64.35,498.45 L64.60,498.45 L64.85,498.45 L65.10,498.45 L65.35,498.45 L65.60,498.44 L65.85,498.44 L66.10,498.44 L66.35,498.44 L66.60,498.44 L66.85,498.44 L67.10,498.43 L67.35,498.43 L67.60,498.43 L67.85,498.43 L68.10,498.43 L68.35,498.43 L68.60,498.42 L68.85,498.42 L69.10,498.42 L69.35,498.42 L69.60,498.42 L69.85,498.42 L70.10,498.41 L70.35,498.41 L70.60,498.41 L70.85,498.41 L71.10,498.41 L71.35,498.40 L71.60,498.40 L71.85,498.40 L72.10,498.40 L72.35,498.40 L72.60,498.39 L72.85,498.39 L73.10,498.39 L73.35,498.39 L73.60,498.39 L73.85,498.38 L74.10,498.38 L74.35,498.38 L74.60,498.38 L74.85,498.37 L75.10,498.37 L75.35,498.37 L75.60,498.37 L75.85,498.36 L76.10,498.36 L76.35,498.36 L76.60,498.36 L76.85,498.35 L77.10,498.35 L77.35,498.35 L77.60,498.35 L77.85,498.34 L78.10,498.34 L78.35,498.34 L78.60,498.33 L78.85,498.33 L79.10,498.33 L79.35,498.32 L79.60,498.32 L79.85,498.32 L80.10,498.32 L80.35,498.31 L80.60,498.31 L80.85,498.31 L81.10,498.30 L81.35,498.30 L81.60,498.30 L81.85,498.29 L82.10,498.29 L82.35,498.29 L82.60,498.28 L82.85,498.28 L83.10,498.28 L83.35,498.27 L83.60,498.27 L83.85,498.27 L84.10,498.26 L84.35,498.26 L84.60,498.25 L84.85,498.25 L85.10,498.25 L85.35,498.24 L85.60,498.24 L85.85,498.23 L86.10,498.23 L86.35,498.23 L86.60,498.22 L86.85,498.22 L87.10,498.21 L87.35,498.21 L87.60,498.20 L87.85,498.20 L88.10,498.19 L88.35,498.19 L88.60,498.18 L88.85,498.18 L89.10,498.17 L89.35,498.17 L89.60,498.16 L89.85,498.16 L90.10,498.15 L90.35,498.14 L90.60,498.14 L90.85,498.13 L91.10,498.13 L91.35,498.12 L91.60,498.11 L91.85,498.10 L92.10,498.10 L92.35,498.09 L92.60,498.08 L92.85,498.07 L93.10,498.07 L93.35,498.06 L93.60,498.05 L93.85,498.04 L94.10,498.03 L94.35,498.02 L94.60,498.01 L94.85,498.00 L95.10,497.99 L95.35,497.97 L95.60,497.96 L95.85,497.95 L96.10,497.93 L96.35,497.92 L96.60,497.90 L96.85,497.88 L97.10,497.87 L97.35,497.85 L97.60,497.83 L97.85,497.80 L98.10,497.78 L98.35,497.76 L98.60,497.73 L98.85,497.70 L99.10,497.67 L99.35,497.63 L99.60,497.59 L99.85,497.55 L100.10,497.50 L100.35,497.45 L100.60,497.40 L100.85,497.33 L101.10,497.26 L101.35,497.19 L101.60,497.10 L101.85,497.01 L102.10,496.90 L102.35,496.78 L102.60,496.65 L102.85,496.51 L103.10,496.36 L103.35,496.20 L103.60,496.03 L103.85,495.87 L104.10,495.71 L104.35,495.58 L104.60,495.48 L104.85,495.42 L105.10,495.40 L105.35,495.43 L105.60,495.50 L105.85,495.61 L106.10,495.74 L106.35,495.88 L106.60,496.02 L106.85,496.16 L107.10,496.30 L107.35,496.42 L107.60,496.53 L107.85,496.62 L108.10,496.71 L108.35,496.78 L108.60,496.84 L108.85,496.90 L109.10,496.94 L109.35,496.97 L109.60,496.99 L109.85,497.01 L110.10,497.02 L110.35,497.02 L110.60,497.02 L110.85,497.00 L111.10,496.98 L111.35,496.95 L111.60,496.92 L111.85,496.87 L112.10,496.81 L112.35,496.75 L112.60,496.67 L112.85,496.58 L113.10,496.47 L113.35,496.35 L113.60,496.21 L113.85,496.06 L114.10,495.88 L114.35,495.68 L114.60,495.45 L114.85,495.20 L115.10,494.92 L115.35,494.63 L115.60,494.33 L115.85,494.05 L116.10,493.80 L116.35,493.62 L116.60,493.51 L116.85,493.51 L117.10,493.60 L117.35,493.78 L117.60,494.02 L117.85,494.29 L118.10,494.57 L118.35,494.85 L118.60,495.11 L118.85,495.34 L119.10,495.55 L119.35,495.74 L119.60,495.90 L119.85,496.05 L120.10,496.17 L120.35,496.27 L120.60,496.35 L120.85,496.42 L121.10,496.48 L121.35,496.52 L121.60,496.54 L121.85,496.55 L122.10,496.55 L122.35,496.53 L122.60,496.50 L122.85,496.45 L123.10,496.38 L123.35,496.30 L123.60,496.20 L123.85,496.08 L124.10,495.94 L124.35,495.77 L124.60,495.58 L124.85,495.37 L125.10,495.12 L125.35,494.83 L125.60,494.50 L125.85,494.13 L126.10,493.70 L126.35,493.22 L126.60,492.69 L126.85,492.12 L127.10,491.53 L127.35,490.97 L127.60,490.48 L127.85,490.14 L128.10,490.00 L128.35,490.07 L128.60,490.34 L128.85,490.74 L129.10,491.23 L129.35,491.73 L129.60,492.21 L129.85,492.65 L130.10,493.04 L130.35,493.37 L130.60,493.64 L130.85,493.87 L131.10,494.05 L131.35,494.20 L131.60,494.31 L131.85,494.39 L132.10,494.44 L132.35,494.47 L132.60,494.48 L132.85,494.47 L133.10,494.43 L133.35,494.38 L133.60,494.31 L133.85,494.22 L134.10,494.10 L134.35,493.97 L134.60,493.82 L134.85,493.64 L135.10,493.44 L135.35,493.22 L135.60,492.96 L135.85,492.68 L136.10,492.36 L136.35,492.00 L136.60,491.61 L136.85,491.17 L137.10,490.69 L137.35,490.16 L137.60,489.58 L137.85,488.96 L138.10,488.30 L138.35,487.62 L138.60,486.93 L138.85,486.27 L139.10,485.65 L139.35,485.12 L139.60,484.72 L139.85,484.47 L140.10,484.39 L140.35,484.47 L140.60,484.71 L140.85,485.07 L141.10,485.52 L141.35,486.02 L141.60,486.54 L141.85,487.06 L142.10,487.54 L142.35,487.99 L142.60,488.39 L142.85,488.74 L143.10,489.03 L143.35,489.27 L143.60,489.46 L143.85,489.59 L144.10,489.69 L144.35,489.74 L144.60,489.75 L144.85,489.72 L145.10,489.65 L145.35,489.54 L145.60,489.39 L145.85,489.21 L146.10,488.99 L146.35,488.73 L146.60,488.43 L146.85,488.08 L147.10,487.68 L147.35,487.23 L147.60,486.72 L147.85,486.15 L148.10,485.51 L148.35,484.80 L148.60,484.00 L148.85,483.13 L149.10,482.16 L149.35,481.12 L149.60,480.02 L149.85,478.88 L150.10,477.74 L150.35,476.65 L150.60,475.67 L150.85,474.86 L151.10,474.30 L151.35,474.02 L151.60,474.05 L151.85,474.39 L152.10,474.99 L152.35,475.80 L152.60,476.75 L152.85,477.77 L153.10,478.81 L153.35,479.81 L153.60,480.76 L153.85,481.62 L154.10,482.38 L154.35,483.05 L154.60,483.62 L154.85,484.10 L155.10,484.47 L155.35,484.76 L155.60,484.96 L155.85,485.08 L156.10,485.11 L156.35,485.06 L156.60,484.94 L156.85,484.73 L157.10,484.44 L157.35,484.07 L157.60,483.61 L157.85,483.07 L158.10,482.44 L158.35,481.71 L158.60,480.88 L158.85,479.95 L159.10,478.90 L159.35,477.74 L159.60,476.45 L159.85,475.03 L160.10,473.49 L160.35,471.82 L160.60,470.04 L160.85,468.15 L161.10,466.20 L161.35,464.22 L161.60,462.27 L161.85,460.41 L162.10,458.73 L162.35,457.30 L162.60,456.21 L162.85,455.51 L163.10,455.24 L163.35,455.39 L163.60,455.92 L163.85,456.77 L164.10,457.88 L164.35,459.17 L164.60,460.54 L164.85,461.95 L165.10,463.32 L165.35,464.61 L165.60,465.80 L165.85,466.87 L166.10,467.81 L166.35,468.60 L166.60,469.26 L166.85,469.79 L167.10,470.19 L167.35,470.47 L167.60,470.63 L167.85,470.68 L168.10,470.62 L168.35,470.45 L168.60,470.18 L168.85,469.79 L169.10,469.29 L169.35,468.66 L169.60,467.89 L169.85,466.97 L170.10,465.89 L170.35,464.64 L170.60,463.19 L170.85,461.53 L171.10,459.63 L171.35,457.48 L171.60,455.07 L171.85,452.36 L172.10,449.35 L172.35,446.04 L172.60,442.45 L172.85,438.60 L173.10,434.57 L173.35,430.46 L173.60,426.40 L173.85,422.59 L174.10,419.23 L174.35,416.56 L174.60,414.77 L174.85,414.02 L175.10,414.38 L175.35,415.83 L175.60,418.25 L175.85,421.45 L176.10,425.21 L176.35,429.30 L176.60,433.52 L176.85,437.72 L177.10,441.76 L177.35,445.58 L177.60,449.12 L177.85,452.36 L178.10,455.29 L178.35,457.91 L178.60,460.23 L178.85,462.28 L179.10,464.07 L179.35,465.61 L179.60,466.92 L179.85,468.02 L180.10,468.90 L180.35,469.58 L180.60,470.07 L180.85,470.35 L181.10,470.42 L181.35,470.27 L181.60,469.89 L181.85,469.26 L182.10,468.35 L182.35,467.11 L182.60,465.48 L182.85,463.39 L183.10,460.72 L183.35,457.34 L183.60,453.03 L183.85,447.52 L184.10,440.46 L184.35,431.41 L184.60,419.87 L184.85,405.48 L185.10,388.42 L185.35,370.25 L185.60,354.64 L185.85,346.78 L186.10,349.95 L186.35,362.63 L186.60,379.89 L186.85,397.22 L187.10,412.27 L187.35,424.42 L187.60,433.89 L187.85,441.15 L188.10,446.67 L188.35,450.84 L188.60,453.97 L188.85,456.27 L189.10,457.91 L189.35,459.01 L189.60,459.66 L189.85,459.92 L190.10,459.83 L190.35,459.43 L190.60,458.73 L190.85,457.73 L191.10,456.45 L191.35,454.88 L191.60,453.00 L191.85,450.79 L192.10,448.24 L192.35,445.32 L192.60,441.99 L192.85,438.21 L193.10,433.94 L193.35,429.14 L193.60,423.75 L193.85,417.76 L194.10,411.12 L194.35,403.82 L194.60,395.91 L194.85,387.45 L195.10,378.59 L195.35,369.57 L195.60,360.74 L195.85,352.51 L196.10,345.41 L196.35,339.95 L196.60,336.58 L196.85,335.60 L197.10,337.04 L197.35,340.73 L197.60,346.30 L197.85,353.26 L198.10,361.10 L198.35,369.33 L198.60,377.57 L198.85,385.53 L199.10,393.00 L199.35,399.87 L199.60,406.10 L199.85,411.67 L200.10,416.61 L200.35,420.95 L200.60,424.75 L200.85,428.04 L201.10,430.89 L201.35,433.33 L201.60,435.40 L201.85,437.13 L202.10,438.52 L202.35,439.60 L202.60,440.37 L202.85,440.86 L203.10,441.06 L203.35,440.99 L203.60,440.63 L203.85,439.99 L204.10,439.06 L204.35,437.83 L204.60,436.29 L204.85,434.42 L205.10,432.22 L205.35,429.66 L205.60,426.74 L205.85,423.45 L206.10,419.79 L206.35,415.78 L206.60,411.43 L206.85,406.82 L207.10,402.00 L207.35,397.10 L207.60,392.26 L207.85,387.66 L208.10,383.51 L208.35,380.03 L208.60,377.42 L208.85,375.87 L209.10,375.50 L209.35,376.36 L209.60,378.41 L209.85,381.55 L210.10,385.59 L210.35,390.32 L210.60,395.52 L210.85,400.99 L211.10,406.55 L211.35,412.04 L211.60,417.35 L211.85,422.42 L212.10,427.19 L212.35,431.63 L212.60,435.72 L212.85,439.48 L213.10,442.91 L213.35,446.01 L213.60,448.82 L213.85,451.34 L214.10,453.59 L214.35,455.59 L214.60,457.35 L214.85,458.88 L215.10,460.20 L215.35,461.30 L215.60,462.20 L215.85,462.90 L216.10,463.38 L216.35,463.65 L216.60,463.70 L216.85,463.52 L217.10,463.08 L217.35,462.37 L217.60,461.35 L217.85,459.99 L218.10,458.23 L218.35,456.04 L218.60,453.36 L218.85,450.13 L219.10,446.33 L219.35,441.95 L219.60,437.10 L219.85,431.96 L220.10,426.91 L220.35,422.49 L220.60,419.34 L220.85,418.01 L221.10,418.79 L221.35,421.54 L221.60,425.80 L221.85,430.94 L222.10,436.36 L222.35,441.64 L222.60,446.51 L222.85,450.83 L223.10,454.59 L223.35,457.81 L223.60,460.52 L223.85,462.80 L224.10,464.70 L224.35,466.26 L224.60,467.54 L224.85,468.56 L225.10,469.37 L225.35,469.99 L225.60,470.44 L225.85,470.73 L226.10,470.88 L226.35,470.90 L226.60,470.80 L226.85,470.58 L227.10,470.26 L227.35,469.84 L227.60,469.32 L227.85,468.71 L228.10,468.02 L228.35,467.23 L228.60,466.36 L228.85,465.41 L229.10,464.37 L229.35,463.27 L229.60,462.11 L229.85,460.90 L230.10,459.67 L230.35,458.43 L230.60,457.21 L230.85,456.05 L231.10,454.97 L231.35,454.01 L231.60,453.20 L231.85,452.58 L232.10,452.17 L232.35,451.99 L232.60,452.05 L232.85,452.36 L233.10,452.89 L233.35,453.64 L233.60,454.57 L233.85,455.66 L234.10,456.88 L234.35,458.19 L234.60,459.56 L234.85,460.95 L235.10,462.35 L235.35,463.73 L235.60,465.08 L235.85,466.38 L236.10,467.61 L236.35,468.79 L236.60,469.89 L236.85,470.92 L237.10,471.88 L237.35,472.77 L237.60,473.59 L237.85,474.34 L238.10,475.03 L238.35,475.65 L238.60,476.22 L238.85,476.71 L239.10,477.12 L239.35,477.46 L239.60,477.71 L239.85,477.87 L240.10,477.93 L240.35,477.89 L240.60,477.72 L240.85,477.42 L241.10,476.95 L241.35,476.31 L241.60,475.46 L241.85,474.36 L242.10,473.00 L242.35,471.33 L242.60,469.35 L242.85,467.09 L243.10,464.62 L243.35,462.11 L243.60,459.82 L243.85,458.11 L244.10,457.31 L244.35,457.63 L244.60,459.04 L244.85,461.31 L245.10,464.09 L245.35,467.05 L245.60,469.93 L245.85,472.59 L246.10,474.96 L246.35,477.03 L246.60,478.80 L246.85,480.32 L247.10,481.60 L247.35,482.68 L247.60,483.59 L247.85,484.34 L248.10,484.96 L248.35,485.46 L248.60,485.86 L248.85,486.15 L249.10,486.36 L249.35,486.47 L249.60,486.50 L249.85,486.44 L250.10,486.30 L250.35,486.08 L250.60,485.77 L250.85,485.37 L251.10,484.88 L251.35,484.28 L251.60,483.58 L251.85,482.77 L252.10,481.83 L252.35,480.77 L252.60,479.59 L252.85,478.28 L253.10,476.86 L253.35,475.36 L253.60,473.82 L253.85,472.30 L254.10,470.88 L254.35,469.67 L254.60,468.75 L254.85,468.21 L255.10,468.11 L255.35,468.44 L255.60,469.15 L255.85,470.17 L256.10,471.40 L256.35,472.76 L256.60,474.14 L256.85,475.50 L257.10,476.78 L257.35,477.95 L257.60,479.01 L257.85,479.94 L258.10,480.76 L258.35,481.46 L258.60,482.06 L258.85,482.56 L259.10,482.98 L259.35,483.31 L259.60,483.57 L259.85,483.77 L260.10,483.90 L260.35,483.98 L260.60,484.00 L260.85,483.98 L261.10,483.91 L261.35,483.79 L261.60,483.63 L261.85,483.41 L262.10,483.14 L262.35,482.82 L262.60,482.43 L262.85,481.99 L263.10,481.48 L263.35,480.91 L263.60,480.27 L263.85,479.57 L264.10,478.81 L264.35,478.00 L264.60,477.15 L264.85,476.28 L265.10,475.41 L265.35,474.56 L265.60,473.77 L265.85,473.07 L266.10,472.50 L266.35,472.08 L266.60,471.85 L266.85,471.81 L267.10,471.98 L267.35,472.36 L267.60,472.93 L267.85,473.65 L268.10,474.50 L268.35,475.43 L268.60,476.41 L268.85,477.42 L269.10,478.42 L269.35,479.39 L269.60,480.33 L269.85,481.21 L270.10,482.04 L270.35,482.80 L270.60,483.50 L270.85,484.13 L271.10,484.69 L271.35,485.20 L271.60,485.64 L271.85,486.03 L272.10,486.36 L272.35,486.63 L272.60,486.85 L272.85,487.02 L273.10,487.14 L273.35,487.21 L273.60,487.22 L273.85,487.18 L274.10,487.08 L274.35,486.94 L274.60,486.73 L274.85,486.46 L275.10,486.14 L275.35,485.74 L275.60,485.29 L275.85,484.76 L276.10,484.17 L276.35,483.52 L276.60,482.81 L276.85,482.05 L277.10,481.25 L277.35,480.45 L277.60,479.66 L277.85,478.93 L278.10,478.29 L278.35,477.79 L278.60,477.45 L278.85,477.30 L279.10,477.36 L279.35,477.62 L279.60,478.04 L279.85,478.62 L280.10,479.29 L280.35,480.03 L280.60,480.81 L280.85,481.58 L281.10,482.32 L281.35,483.03 L281.60,483.68 L281.85,484.27 L282.10,484.80 L282.35,485.27 L282.60,485.67 L282.85,486.02 L283.10,486.31 L283.35,486.56 L283.60,486.75 L283.85,486.90 L284.10,487.00 L284.35,487.07 L284.60,487.10 L284.85,487.09 L285.10,487.06 L285.35,486.99 L285.60,486.89 L285.85,486.75 L286.10,486.58 L286.35,486.38 L286.60,486.14 L286.85,485.86 L287.10,485.54 L287.35,485.18 L287.60,484.78 L287.85,484.35 L288.10,483.87 L288.35,483.37 L288.60,482.83 L288.85,482.28 L289.10,481.71 L289.35,481.15 L289.60,480.60 L289.85,480.08 L290.10,479.62 L290.35,479.23 L290.60,478.92 L290.85,478.71 L291.10,478.61 L291.35,478.62 L291.60,478.74 L291.85,478.95 L292.10,479.26 L292.35,479.65 L292.60,480.10 L292.85,480.59 L293.10,481.11 L293.35,481.64 L293.60,482.18 L293.85,482.71 L294.10,483.21 L294.35,483.70 L294.60,484.15 L294.85,484.58 L295.10,484.97 L295.35,485.34 L295.60,485.67 L295.85,485.98 L296.10,486.24 L296.35,486.47 L296.60,486.65 L296.85,486.79 L297.10,486.88 L297.35,486.93 L297.60,486.92 L297.85,486.88 L298.10,486.78 L298.35,486.63 L298.60,486.43 L298.85,486.19 L299.10,485.90 L299.35,485.57 L299.60,485.21 L299.85,484.83 L300.10,484.44 L300.35,484.07 L300.60,483.74 L300.85,483.47 L301.10,483.27 L301.35,483.18 L301.60,483.20 L301.85,483.34 L302.10,483.59 L302.35,483.94 L302.60,484.38 L302.85,484.89 L303.10,485.43 L303.35,486.00 L303.60,486.56 L303.85,487.11 L304.10,487.64 L304.35,488.14 L304.60,488.60 L304.85,489.02 L305.10,489.40 L305.35,489.75 L305.60,490.05 L305.85,490.32 L306.10,490.56 L306.35,490.76 L306.60,490.94 L306.85,491.08 L307.10,491.20 L307.35,491.28 L307.60,491.34 L307.85,491.36 L308.10,491.36 L308.35,491.32 L308.60,491.25 L308.85,491.15 L309.10,491.01 L309.35,490.83 L309.60,490.61 L309.85,490.36 L310.10,490.06 L310.35,489.72 L310.60,489.35 L310.85,488.94 L311.10,488.49 L311.35,488.03 L311.60,487.57 L311.85,487.11 L312.10,486.69 L312.35,486.32 L312.60,486.03 L312.85,485.85 L313.10,485.79 L313.35,485.85 L313.60,486.05 L313.85,486.35 L314.10,486.76 L314.35,487.24 L314.60,487.78 L314.85,488.35 L315.10,488.92 L315.35,489.49 L315.60,490.04 L315.85,490.56 L316.10,491.06 L316.35,491.52 L316.60,491.95 L316.85,492.34 L317.10,492.71 L317.35,493.05 L317.60,493.36 L317.85,493.66 L318.10,493.93 L318.35,494.17 L318.60,494.40 L318.85,494.61 L319.10,494.80 L319.35,494.98 L319.60,495.14 L319.85,495.29 L320.10,495.43 L320.35,495.56 L320.60,495.68 L320.85,495.79 L321.10,495.89 L321.35,495.99 L321.60,496.08 L321.85,496.17 L322.10,496.25 L322.35,496.32 L322.60,496.39 L322.85,496.46 L323.10,496.52 L323.35,496.58 L323.60,496.63 L323.85,496.69 L324.10,496.74 L324.35,496.79 L324.60,496.83 L324.85,496.88" fill="none" stroke="#b4c8ff" stroke-width="3" stroke-linejoin="round"/>
<path d="M45.85,498.67 L46.10,498.67 L46.35,498.67 L46.60,498.67 L46.85,498.67 L47.10,498.67 L47.35,498.67 L47.60,498.67 L47.85,498.67 L48.10,498.67 L48.35,498.67 L48.60,498.67 L48.85,498.67 L49.10,498.67 L49.35,498.67 L49.60,498.67 L49.85,498.67 L50.10,498.67 L50.35,498.67 L50.60,498.67 L50.85,498.67 L51.10,498.67 L51.35,498.66 L51.60,498.66 L51.85,498.66 L52.10,498.66 L52.35,498.66 L52.60,498.66 L52.85,498.66 L53.10,498.66 L53.35,498.66 L53.60,498.66 L53.85,498.66 L54.10,498.66 L54.35,498.66 L54.60,498.66 L54.85,498.66 L55.10,498.66 L55.35,498.66 L55.60,498.66 L55.85,498.66 L56.10,498.66 L56.35,498.65 L56.60,498.65 L56.85,498.65 L57.10,498.65 L57.35,498.65 L57.60,498.65 L57.85,498.65 L58.10,498.65 L58.35,498.65 L58.60,498.65 L58.85,498.65 L59.10,498.65 L59.35,498.65 L59.60,498.65 L59.85,498.65 L60.10,498.65 L60.35,498.65 L60.60,498.64 L60.85,498.64 L61.10,498.64 L61.35,498.64 L61.60,498.64 L61.85,498.64 L62.10,498.64 L62.35,498.64 L62.60,498.64 L62.85,498.64 L63.10,498.64 L63.35,498.64 L63.60,498.64 L63.85,498.64 L64.10,498.64 L64.35,498.64 L64.60,498.63 L64.85,498.63 L65.10,498.63 L65.35,498.63 L65.60,498.63 L65.85,498.63 L66.10,498.63 L66.35,498.63 L66.60,498.63 L66.85,498.63 L67.10,498.63 L67.35,498.63 L67.60,498.63 L67.85,498.63 L68.10,498.63 L68.35,498.62 L68.60,498.62 L68.85,498.62 L69.10,498.62 L69.35,498.62 L69.60,498.62 L69.85,498.62 L70.10,498.62 L70.35,498.62 L70.60,498.62 L70.85,498.62 L71.10,498.62 L71.35,498.62 L71.60,498.61 L71.85,498.61 L72.10,498.61 L72.35,498.61 L72.60,498.61 L72.85,498.61 L73.10,498.61 L73.35,498.61 L73.60,498.61 L73.85,498.61 L74.10,498.61 L74.35,498.60 L74.60,498.60 L74.85,498.60 L75.10,498.60 L75.35,498.60 L75.60,498.60 L75.85,498.60 L76.10,498.60 L76.35,498.60 L76.60,498.60 L76.85,498.60 L77.10,498.59 L77.35,498.59 L77.60,498.59 L77.85,498.59 L78.10,498.59 L78.35,498.59 L78.60,498.59 L78.85,498.59 L79.10,498.59 L79.35,498.59 L79.60,498.58 L79.85,498.58 L80.10,498.58 L80.35,498.58 L80.60,498.58 L80.85,498.58 L81.10,498.58 L81.35,498.58 L81.60,498.58 L81.85,498.57 L82.10,498.57 L82.35,498.57 L82.60,498.57 L82.85,498.57 L83.10,498.57 L83.35,498.57 L83.60,498.57 L83.85,498.57 L84.10,498.56 L84.35,498.56 L84.60,498.56 L84.85,498.56 L85.10,498.56 L85.35,498.56 L85.60,498.56 L85.85,498.55 L86.10,498.55 L86.35,498.55 L86.60,498.55 L86.85,498.55 L87.10,498.55 L87.35,498.55 L87.60,498.54 L87.85,498.54 L88.10,498.54 L88.35,498.54 L88.60,498.54 L88.85,498.54 L89.10,498.54 L89.35,498.53 L89.60,498.53 L89.85,498.53 L90.10,498.53 L90.35,498.53 L90.60,498.53 L90.85,498.52 L91.10,498.52 L91.35,498.52 L91.60,498.52 L91.85,498.52 L92.10,498.51 L92.35,498.51 L92.60,498.51 L92.85,498.51 L93.10,498.51 L93.35,498.50 L93.60,498.50 L93.85,498.50 L94.10,498.50 L94.35,498.49 L94.60,498.49 L94.85,498.49 L95.10,498.49 L95.35,498.48 L95.60,498.48 L95.85,498.48 L96.10,498.48 L96.35,498.47 L96.60,498.47 L96.85,498.47 L97.10,498.47 L97.35,498.46 L97.60,498.46 L97.85,498.46 L98.10,498.46 L98.35,498.45 L98.60,498.45 L98.85,498.45 L99.10,498.44 L99.35,498.44 L99.60,498.44 L99.85,498.43 L100.10,498.43 L100.35,498.43 L100.60,498.42 L100.85,498.42 L101.10,498.42 L101.35,498.41 L101.60,498.41 L101.85,498.41 L102.10,498.40 L102.35,498.40 L102.60,498.40 L102.85,498.39 L103.10,498.39 L103.35,498.38 L103.60,498.38 L103.85,498.37 L104.10,498.37 L104.35,498.36 L104.60,498.36 L104.85,498.35 L105.10,498.35 L105.35,498.34 L105.60,498.34 L105.85,498.33 L106.10,498.33 L106.35,498.32 L106.60,498.32 L106.85,498.31 L107.10,498.30 L107.35,498.30 L107.60,498.29 L107.85,498.28 L108.10,498.28 L108.35,498.27 L108.60,498.26 L108.85,498.25 L109.10,498.24 L109.35,498.23 L109.60,498.22 L109.85,498.21 L110.10,498.20 L110.35,498.19 L110.60,498.18 L110.85,498.17 L111.10,498.16 L111.35,498.14 L111.60,498.13 L111.85,498.12 L112.10,498.10 L112.35,498.08 L112.60,498.07 L112.85,498.05 L113.10,498.03 L113.35,498.01 L113.60,497.98 L113.85,497.96 L114.10,497.93 L114.35,497.90 L114.60,497.87 L114.85,497.84 L115.10,497.80 L115.35,497.76 L115.60,497.72 L115.85,497.67 L116.10,497.62 L116.35,497.56 L116.60,497.50 L116.85,497.42 L117.10,497.35 L117.35,497.26 L117.60,497.16 L117.85,497.05 L118.10,496.93 L118.35,496.79 L118.60,496.64 L118.85,496.48 L119.10,496.29 L119.35,496.10 L119.60,495.89 L119.85,495.67 L120.10,495.45 L120.35,495.25 L120.60,495.07 L120.85,494.92 L121.10,494.83 L121.35,494.80 L121.60,494.83 L121.85,494.91 L122.10,495.04 L122.35,495.21 L122.60,495.39 L122.85,495.58 L123.10,495.76 L123.35,495.94 L123.60,496.10 L123.85,496.24 L124.10,496.37 L124.35,496.48 L124.60,496.57 L124.85,496.65 L125.10,496.71 L125.35,496.76 L125.60,496.80 L125.85,496.82 L126.10,496.83 L126.35,496.83 L126.60,496.82 L126.85,496.79 L127.10,496.76 L127.35,496.71 L127.60,496.64 L127.85,496.57 L128.10,496.47 L128.35,496.36 L128.60,496.23 L128.85,496.07 L129.10,495.90 L129.35,495.69 L129.60,495.46 L129.85,495.19 L130.10,494.89 L130.35,494.55 L130.60,494.17 L130.85,493.76 L131.10,493.34 L131.35,492.91 L131.60,492.50 L131.85,492.16 L132.10,491.92 L132.35,491.81 L132.60,491.83 L132.85,492.00 L133.10,492.28 L133.35,492.63 L133.60,493.02 L133.85,493.43 L134.10,493.82 L134.35,494.18 L134.60,494.51 L134.85,494.80 L135.10,495.05 L135.35,495.27 L135.60,495.45 L135.85,495.61 L136.10,495.73 L136.35,495.83 L136.60,495.91 L136.85,495.96 L137.10,495.99 L137.35,496.00 L137.60,495.99 L137.85,495.95 L138.10,495.90 L138.35,495.82 L138.60,495.72 L138.85,495.59 L139.10,495.44 L139.35,495.25 L139.60,495.03 L139.85,494.78 L140.10,494.48 L140.35,494.14 L140.60,493.74 L140.85,493.29 L141.10,492.77 L141.35,492.19 L141.60,491.54 L141.85,490.84 L142.10,490.09 L142.35,489.34 L142.60,488.63 L142.85,488.03 L143.10,487.61 L143.35,487.41 L143.60,487.47 L143.85,487.77 L144.10,488.26 L144.35,488.89 L144.60,489.58 L144.85,490.28 L145.10,490.95 L145.35,491.57 L145.60,492.12 L145.85,492.61 L146.10,493.03 L146.35,493.39 L146.60,493.69 L146.85,493.94 L147.10,494.15 L147.35,494.32 L147.60,494.46 L147.85,494.56 L148.10,494.63 L148.35,494.68 L148.60,494.70 L148.85,494.70 L149.10,494.67 L149.35,494.62 L149.60,494.54 L149.85,494.44 L150.10,494.31 L150.35,494.15 L150.60,493.95 L150.85,493.73 L151.10,493.46 L151.35,493.14 L151.60,492.78 L151.85,492.37 L152.10,491.89 L152.35,491.36 L152.60,490.77 L152.85,490.12 L153.10,489.42 L153.35,488.71 L153.60,488.02 L153.85,487.38 L154.10,486.87 L154.35,486.53 L154.60,486.40 L154.85,486.50 L155.10,486.81 L155.35,487.30 L155.60,487.90 L155.85,488.57 L156.10,489.26 L156.35,489.93 L156.60,490.55 L156.85,491.12 L157.10,491.63 L157.35,492.07 L157.60,492.46 L157.85,492.79 L158.10,493.07 L158.35,493.30 L158.60,493.48 L158.85,493.63 L159.10,493.73 L159.35,493.80 L159.60,493.84 L159.85,493.84 L160.10,493.80 L160.35,493.73 L160.60,493.62 L160.85,493.47 L161.10,493.28 L161.35,493.04 L161.60,492.76 L161.85,492.42 L162.10,492.02 L162.35,491.54 L162.60,490.99 L162.85,490.36 L163.10,489.63 L163.35,488.80 L163.60,487.87 L163.85,486.86 L164.10,485.80 L164.35,484.74 L164.60,483.76 L164.85,482.97 L165.10,482.45 L165.35,482.30 L165.60,482.51 L165.85,483.06 L166.10,483.85 L166.35,484.77 L166.60,485.74 L166.85,486.69 L167.10,487.56 L167.35,488.34 L167.60,489.02 L167.85,489.60 L168.10,490.08 L168.35,490.47 L168.60,490.79 L168.85,491.03 L169.10,491.21 L169.35,491.33 L169.60,491.39 L169.85,491.40 L170.10,491.37 L170.35,491.28 L170.60,491.14 L170.85,490.96 L171.10,490.72 L171.35,490.44 L171.60,490.09 L171.85,489.69 L172.10,489.22 L172.35,488.69 L172.60,488.07 L172.85,487.38 L173.10,486.59 L173.35,485.72 L173.60,484.75 L173.85,483.69 L174.10,482.56 L174.35,481.37 L174.60,480.15 L174.85,478.96 L175.10,477.85 L175.35,476.91 L175.60,476.20 L175.85,475.79 L176.10,475.71 L176.35,475.96 L176.60,476.52 L176.85,477.32 L177.10,478.29 L177.35,479.37 L177.60,480.47 L177.85,481.56 L178.10,482.59 L178.35,483.54 L178.60,484.40 L178.85,485.16 L179.10,485.82 L179.35,486.39 L179.60,486.87 L179.85,487.26 L180.10,487.57 L180.35,487.81 L180.60,487.98 L180.85,488.07 L181.10,488.10 L181.35,488.06 L181.60,487.95 L181.85,487.76 L182.10,487.49 L182.35,487.14 L182.60,486.69 L182.85,486.12 L183.10,485.44 L183.35,484.62 L183.60,483.63 L183.85,482.46 L184.10,481.08 L184.35,479.47 L184.60,477.61 L184.85,475.50 L185.10,473.17 L185.35,470.70 L185.60,468.23 L185.85,465.97 L186.10,464.20 L186.35,463.18 L186.60,463.08 L186.85,463.92 L187.10,465.56 L187.35,467.75 L187.60,470.20 L187.85,472.70 L188.10,475.07 L188.35,477.24 L188.60,479.17 L188.85,480.85 L189.10,482.30 L189.35,483.53 L189.60,484.58 L189.85,485.46 L190.10,486.20 L190.35,486.81 L190.60,487.31 L190.85,487.72 L191.10,488.03 L191.35,488.26 L191.60,488.42 L191.85,488.50 L192.10,488.52 L192.35,488.46 L192.60,488.32 L192.85,488.11 L193.10,487.81 L193.35,487.41 L193.60,486.89 L193.85,486.21 L194.10,485.33 L194.35,484.19 L194.60,482.68 L194.85,480.66 L195.10,477.90 L195.35,474.08 L195.60,468.80 L195.85,461.80 L196.10,453.72 L196.35,447.27 L196.60,446.37 L196.85,451.55 L197.10,459.16 L197.35,466.06 L197.60,471.26 L197.85,474.93 L198.10,477.46 L198.35,479.19 L198.60,480.35 L198.85,481.11 L199.10,481.56 L199.35,481.78 L199.60,481.80 L199.85,481.65 L200.10,481.36 L200.35,480.93 L200.60,480.36 L200.85,479.66 L201.10,478.82 L201.35,477.88 L201.60,476.80 L201.85,475.61 L202.10,474.28 L202.35,472.80 L202.60,471.18 L202.85,469.39 L203.10,467.43 L203.35,465.30 L203.60,462.98 L203.85,460.47 L204.10,457.78 L204.35,454.91 L204.60,451.89 L204.85,448.75 L205.10,445.54 L205.35,442.32 L205.60,439.20 L205.85,436.27 L206.10,433.64 L206.35,431.44 L206.60,429.77 L206.85,428.71 L207.10,428.87 L207.35,430.07 L207.60,431.30 L207.85,432.57 L208.10,433.86 L208.35,435.19 L208.60,436.59 L208.85,438.33 L209.10,440.27 L209.35,442.14 L209.60,443.68 L209.85,444.63 L210.10,444.78 L210.35,444.54 L210.60,444.08 L210.85,443.49 L211.10,442.81 L211.35,442.11 L211.60,441.45 L211.85,440.90 L212.10,440.46 L212.35,440.07 L212.60,439.69 L212.85,439.28 L213.10,438.78 L213.35,438.16 L213.60,437.31 L213.85,435.88 L214.10,433.83 L214.35,431.27 L214.60,428.30 L214.85,424.99 L215.10,421.46 L215.35,417.52 L215.60,412.37 L215.85,406.36 L216.10,400.01 L216.35,393.78 L216.60,387.52 L216.85,380.95 L217.10,373.84 L217.35,365.65 L217.60,357.51 L217.85,350.82 L218.10,345.38 L218.35,340.87 L218.60,341.17 L218.85,345.74 L219.10,353.21 L219.35,362.59 L219.60,372.89 L219.85,383.27 L220.10,393.14 L220.35,402.18 L220.60,410.22 L220.85,417.22 L221.10,423.22 L221.35,428.29 L221.60,432.52 L221.85,435.99 L222.10,438.78 L222.35,440.96 L222.60,442.59 L222.85,443.70 L223.10,444.34 L223.35,444.52 L223.60,444.25 L223.85,443.53 L224.10,442.37 L224.35,440.75 L224.60,438.65 L224.85,436.04 L225.10,432.91 L225.35,429.22 L225.60,424.95 L225.85,420.10 L226.10,414.67 L226.35,408.71 L226.60,402.32 L226.85,395.66 L227.10,388.97 L227.35,382.58 L227.60,376.89 L227.85,372.34 L228.10,369.34 L228.35,368.19 L228.60,369.04 L228.85,371.83 L229.10,376.31 L229.35,382.10 L229.60,388.77 L229.85,395.91 L230.10,403.16 L230.35,410.24 L230.60,416.97 L230.85,423.24 L231.10,428.99 L231.35,434.19 L231.60,438.86 L231.85,443.03 L232.10,446.72 L232.35,449.98 L232.60,452.84 L232.85,455.34 L233.10,457.51 L233.35,459.36 L233.60,460.93 L233.85,462.22 L234.10,463.25 L234.35,464.00 L234.60,464.48 L234.85,464.67 L235.10,464.56 L235.35,464.12 L235.60,463.31 L235.85,462.08 L236.10,460.39 L236.35,458.18 L236.60,455.41 L236.85,452.06 L237.10,448.18 L237.35,443.93 L237.60,439.64 L237.85,435.82 L238.10,433.13 L238.35,432.15 L238.60,433.20 L238.85,436.15 L239.10,440.49 L239.35,445.58 L239.60,450.83 L239.85,455.85 L240.10,460.42 L240.35,464.45 L240.60,467.94 L240.85,470.94 L241.10,473.50 L241.35,475.68 L241.60,477.54 L241.85,479.13 L242.10,480.49 L242.35,481.65 L242.60,482.63 L242.85,483.47 L243.10,484.18 L243.35,484.76 L243.60,485.24 L243.85,485.61 L244.10,485.88 L244.35,486.04 L244.60,486.09 L244.85,486.04 L245.10,485.87 L245.35,485.58 L245.60,485.14 L245.85,484.55 L246.10,483.77 L246.35,482.78 L246.60,481.55 L246.85,480.05 L247.10,478.28 L247.35,476.26 L247.60,474.10 L247.85,472.01 L248.10,470.29 L248.35,469.32 L248.60,469.33 L248.85,470.37 L249.10,472.20 L249.35,474.48 L249.60,476.88 L249.85,479.17 L250.10,481.24 L250.35,483.03 L250.60,484.56 L250.85,485.85 L251.10,486.94 L251.35,487.85 L251.60,488.62 L251.85,489.27 L252.10,489.82 L252.35,490.28 L252.60,490.66 L252.85,490.98 L253.10,491.25 L253.35,491.47 L253.60,491.63 L253.85,491.76 L254.10,491.85 L254.35,491.89 L254.60,491.90 L254.85,491.86 L255.10,491.78 L255.35,491.66 L255.60,491.49 L255.85,491.26 L256.10,490.98 L256.35,490.63 L256.60,490.20 L256.85,489.69 L257.10,489.09 L257.35,488.37 L257.60,487.53 L257.85,486.55 L258.10,485.44 L258.35,484.19 L258.60,482.84 L258.85,481.45 L259.10,480.11 L259.35,478.95 L259.60,478.14 L259.85,477.80 L260.10,478.00 L260.35,478.70 L260.60,479.80 L260.85,481.15 L261.10,482.60 L261.35,484.04 L261.60,485.39 L261.85,486.62 L262.10,487.72 L262.35,488.68 L262.60,489.51 L262.85,490.22 L263.10,490.84 L263.35,491.36 L263.60,491.81 L263.85,492.20 L264.10,492.52 L264.35,492.79 L264.60,493.02 L264.85,493.20 L265.10,493.35 L265.35,493.45 L265.60,493.52 L265.85,493.56 L266.10,493.55 L266.35,493.51 L266.60,493.43 L266.85,493.31 L267.10,493.13 L267.35,492.90 L267.60,492.61 L267.85,492.24 L268.10,491.78 L268.35,491.23 L268.60,490.57 L268.85,489.78 L269.10,488.88 L269.35,487.87 L269.60,486.83 L269.85,485.83 L270.10,485.03 L270.35,484.57 L270.60,484.55 L270.85,484.99 L271.10,485.80 L271.35,486.83 L271.60,487.95 L271.85,489.04 L272.10,490.04 L272.35,490.93 L272.60,491.70 L272.85,492.35 L273.10,492.92 L273.35,493.39 L273.60,493.80 L273.85,494.14 L274.10,494.43 L274.35,494.67 L274.60,494.88 L274.85,495.05 L275.10,495.19 L275.35,495.31 L275.60,495.39 L275.85,495.45 L276.10,495.49 L276.35,495.50 L276.60,495.49 L276.85,495.45 L277.10,495.38 L277.35,495.29 L277.60,495.16 L277.85,495.01 L278.10,494.81 L278.35,494.58 L278.60,494.31 L278.85,493.98 L279.10,493.60 L279.35,493.15 L279.60,492.63 L279.85,492.04 L280.10,491.38 L280.35,490.67 L280.60,489.95 L280.85,489.29 L281.10,488.76 L281.35,488.45 L281.60,488.42 L281.85,488.66 L282.10,489.14 L282.35,489.76 L282.60,490.45 L282.85,491.13 L283.10,491.77 L283.35,492.35 L283.60,492.85 L283.85,493.28 L284.10,493.64 L284.35,493.94 L284.60,494.19 L284.85,494.39 L285.10,494.55 L285.35,494.68 L285.60,494.78 L285.85,494.84 L286.10,494.89 L286.35,494.90 L286.60,494.90 L286.85,494.87 L287.10,494.83 L287.35,494.76 L287.60,494.67 L287.85,494.56 L288.10,494.43 L288.35,494.28 L288.60,494.10 L288.85,493.89 L289.10,493.66 L289.35,493.40 L289.60,493.11 L289.85,492.80 L290.10,492.46 L290.35,492.10 L290.60,491.72 L290.85,491.34 L291.10,490.96 L291.35,490.61 L291.60,490.29 L291.85,490.02 L292.10,489.83 L292.35,489.72 L292.60,489.70 L292.85,489.77 L293.10,489.91 L293.35,490.13 L293.60,490.39 L293.85,490.69 L294.10,491.00 L294.35,491.33 L294.60,491.64 L294.85,491.94 L295.10,492.22 L295.35,492.48 L295.60,492.71 L295.85,492.92 L296.10,493.10 L296.35,493.27 L296.60,493.41 L296.85,493.53 L297.10,493.64 L297.35,493.73 L297.60,493.81 L297.85,493.86 L298.10,493.90 L298.35,493.92 L298.60,493.93 L298.85,493.91 L299.10,493.87 L299.35,493.82 L299.60,493.74 L299.85,493.65 L300.10,493.53 L300.35,493.39 L300.60,493.24 L300.85,493.08 L301.10,492.90 L301.35,492.72 L301.60,492.54 L301.85,492.37 L302.10,492.22 L302.35,492.11 L302.60,492.03 L302.85,492.00 L303.10,492.01 L303.35,492.07 L303.60,492.18 L303.85,492.33 L304.10,492.50 L304.35,492.70 L304.60,492.91 L304.85,493.13 L305.10,493.35 L305.35,493.56 L305.60,493.76 L305.85,493.95 L306.10,494.12 L306.35,494.28 L306.60,494.42 L306.85,494.55 L307.10,494.66 L307.35,494.77 L307.60,494.86 L307.85,494.95 L308.10,495.03 L308.35,495.10 L308.60,495.16 L308.85,495.21 L309.10,495.25 L309.35,495.27 L309.60,495.29 L309.85,495.29 L310.10,495.27 L310.35,495.25 L310.60,495.20 L310.85,495.15 L311.10,495.07 L311.35,494.99 L311.60,494.88 L311.85,494.77 L312.10,494.64 L312.35,494.51 L312.60,494.38 L312.85,494.26 L313.10,494.15 L313.35,494.06 L313.60,494.01 L313.85,493.99 L314.10,494.01 L314.35,494.08 L314.60,494.18 L314.85,494.32 L315.10,494.48 L315.35,494.66 L315.60,494.86 L315.85,495.05 L316.10,495.24 L316.35,495.43 L316.60,495.60 L316.85,495.77 L317.10,495.92 L317.35,496.06 L317.60,496.18 L317.85,496.30 L318.10,496.40 L318.35,496.50 L318.60,496.59 L318.85,496.67 L319.10,496.75 L319.35,496.82 L319.60,496.89 L319.85,496.96 L320.10,497.03 L320.35,497.09 L320.60,497.15 L320.85,497.20 L321.10,497.25 L321.35,497.29 L321.60,497.34 L321.85,497.38 L322.10,497.41 L322.35,497.45 L322.60,497.48 L322.85,497.51 L323.10,497.54 L323.35,497.57 L323.60,497.59 L323.85,497.62 L324.10,497.64 L324.35,497.66 L324.60,497.68 L324.85,497.70" fill="none" stroke="#7080ff" stroke-width="3" stroke-linejoin="round"/>
<path d="M45.85,498.76 L46.10,498.76 L46.35,498.76 L46.60,498.76 L46.85,498.76 L47.10,498.76 L47.35,498.76 L47.60,498.76 L47.85,498.76 L48.10,498.76 L48.35,498.76 L48.60,498.76 L48.85,498.76 L49.10,498.76 L49.35,498.76 L49.60,498.76 L49.85,498.76 L50.10,498.76 L50.35,498.76 L50.60,498.76 L50.85,498.76 L51.10,498.76 L51.35,498.76 L51.60,498.76 L51.85,498.76 L52.10,498.76 L52.35,498.76 L52.60,498.76 L52.85,498.76 L53.10,498.76 L53.35,498.76 L53.60,498.76 L53.85,498.76 L54.10,498.76 L54.35,498.76 L54.60,498.76 L54.85,498.76 L55.10,498.76 L55.35,498.76 L55.60,498.76 L55.85,498.76 L56.10,498.76 L56.35,498.76 L56.60,498.76 L56.85,498.76 L57.10,498.76 L57.35,498.76 L57.60,498.76 L57.85,498.76 L58.10,498.76 L58.35,498.76 L58.60,498.76 L58.85,498.76 L59.10,498.76 L59.35,498.76 L59.60,498.76 L59.85,498.76 L60.10,498.76 L60.35,498.76 L60.60,498.76 L60.85,498.76 L61.10,498.76 L61.35,498.76 L61.60,498.76 L61.85,498.76 L62.10,498.76 L62.35,498.76 L62.60,498.76 L62.85,498.75 L63.10,498.75 L63.35,498.75 L63.60,498.75 L63.85,498.75 L64.10,498.75 L64.35,498.75 L64.60,498.75 L64.85,498.75 L65.10,498.75 L65.35,498.75 L65.60,498.75 L65.85,498.75 L66.10,498.75 L66.35,498.75 L66.60,498.75 L66.85,498.75 L67.10,498.75 L67.35,498.75 L67.60,498.75 L67.85,498.75 L68.10,498.75 L68.35,498.75 L68.60,498.75 L68.85,498.75 L69.10,498.75 L69.35,498.75 L69.60,498.75 L69.85,498.75 L70.10,498.75 L70.35,498.75 L70.60,498.75 L70.85,498.75 L71.10,498.75 L71.35,498.75 L71.60,498.75 L71.85,498.75 L72.10,498.75 L72.35,498.75 L72.60,498.75 L72.85,498.75 L73.10,498.75 L73.35,498.75 L73.60,498.75 L73.85,498.75 L74.10,498.75 L74.35,498.75 L74.60,498.75 L74.85,498.75 L75.10,498.75 L75.35,498.75 L75.60,498.75 L75.85,498.75 L76.10,498.75 L76.35,498.75 L76.60,498.75 L76.85,498.75 L77.10,498.75 L77.35,498.74 L77.60,498.74 L77.85,498.74 L78.10,498.74 L78.35,498.74 L78.60,498.74 L78.85,498.74 L79.10,498.74 L79.35,498.74 L79.60,498.74 L79.85,498.74 L80.10,498.74 L80.35,498.74 L80.60,498.74 L80.85,498.74 L81.10,498.74 L81.35,498.74 L81.60,498.74 L81.85,498.74 L82.10,498.74 L82.35,498.74 L82.60,498.74 L82.85,498.74 L83.10,498.74 L83.35,498.74 L83.60,498.74 L83.85,498.74 L84.10,498.74 L84.35,498.74 L84.60,498.74 L84.85,498.74 L85.10,498.74 L85.35,498.74 L85.60,498.74 L85.85,498.74 L86.10,498.74 L86.35,498.74 L86.60,498.74 L86.85,498.74 L87.10,498.74 L87.35,498.74 L87.60,498.74 L87.85,498.73 L88.10,498.73 L88.35,498.73 L88.60,498.73 L88.85,498.73 L89.10,498.73 L89.35,498.73 L89.60,498.73 L89.85,498.73 L90.10,498.73 L90.35,498.73 L90.60,498.73 L90.85,498.73 L91.10,498.73 L91.35,498.73 L91.60,498.73 L91.85,498.73 L92.10,498.73 L92.35,498.73 L92.60,498.73 L92.85,498.73 L93.10,498.73 L93.35,498.73 L93.60,498.73 L93.85,498.73 L94.10,498.73 L94.35,498.73 L94.60,498.73 L94.85,498.73 L95.10,498.73 L95.35,498.73 L95.60,498.73 L95.85,498.73 L96.10,498.72 L96.35,498.72 L96.60,498.72 L96.85,498.72 L97.10,498.72 L97.35,498.72 L97.60,498.72 L97.85,498.72 L98.10,498.72 L98.35,498.72 L98.60,498.72 L98.85,498.72 L99.10,498.72 L99.35,498.72 L99.60,498.72 L99.85,498.72 L100.10,498.72 L100.35,498.72 L100.60,498.72 L100.85,498.72 L101.10,498.72 L101.35,498.72 L101.60,498.72 L101.85,498.72 L102.10,498.72 L102.35,498.72 L102.60,498.71 L102.85,498.71 L103.10,498.71 L103.35,498.71 L103.60,498.71 L103.85,498.71 L104.10,498.71 L104.35,498.71 L104.60,498.71 L104.85,498.71 L105.10,498.71 L105.35,498.71 L105.60,498.71 L105.85,498.71 L106.10,498.71 L106.35,498.71 L106.60,498.71 L106.85,498.71 L107.10,498.71 L107.35,498.71 L107.60,498.71 L107.85,498.70 L108.10,498.70 L108.35,498.70 L108.60,498.70 L108.85,498.70 L109.10,498.70 L109.35,498.70 L109.60,498.70 L109.85,498.70 L110.10,498.70 L110.35,498.70 L110.60,498.70 L110.85,498.70 L111.10,498.70 L111.35,498.70 L111.60,498.70 L111.85,498.70 L112.10,498.70 L112.35,498.69 L112.60,498.69 L112.85,498.69 L113.10,498.69 L113.35,498.69 L113.60,498.69 L113.85,498.69 L114.10,498.69 L114.35,498.69 L114.60,498.69 L114.85,498.69 L115.10,498.69 L115.35,498.69 L115.60,498.69 L115.85,498.69 L116.10,498.68 L116.35,498.68 L116.60,498.68 L116.85,498.68 L117.10,498.68 L117.35,498.68 L117.60,498.68 L117.85,498.68 L118.10,498.68 L118.35,498.68 L118.60,498.68 L118.85,498.68 L119.10,498.67 L119.35,498.67 L119.60,498.67 L119.85,498.67 L120.10,498.67 L120.35,498.67 L120.60,498.67 L120.85,498.67 L121.10,498.67 L121.35,498.67 L121.60,498.67 L121.85,498.66 L122.10,498.66 L122.35,498.66 L122.60,498.66 L122.85,498.66 L123.10,498.66 L123.35,498.66 L123.60,498.66 L123.85,498.66 L124.10,498.65 L124.35,498.65 L124.60,498.65 L124.85,498.65 L125.10,498.65 L125.35,498.65 L125.60,498.65 L125.85,498.65 L126.10,498.65 L126.35,498.65 L126.60,498.65 L126.85,498.65 L127.10,498.65 L127.35,498.65 L127.60,498.65 L127.85,498.65 L128.10,498.65 L128.35,498.65 L128.60,498.65 L128.85,498.64 L129.10,498.64 L129.35,498.64 L129.60,498.64 L129.85,498.64 L130.10,498.64 L130.35,498.64 L130.60,498.64 L130.85,498.64 L131.10,498.64 L131.35,498.64 L131.60,498.63 L131.85,498.63 L132.10,498.63 L132.35,498.63 L132.60,498.63 L132.85,498.63 L133.10,498.63 L133.35,498.62 L133.60,498.62 L133.85,498.62 L134.10,498.62 L134.35,498.62 L134.60,498.62 L134.85,498.61 L135.10,498.61 L135.35,498.61 L135.60,498.61 L135.85,498.60 L136.10,498.60 L136.35,498.60 L136.60,498.60 L136.85,498.59 L137.10,498.59 L137.35,498.59 L137.60,498.58 L137.85,498.58 L138.10,498.58 L138.35,498.57 L138.60,498.57 L138.85,498.57 L139.10,498.56 L139.35,498.56 L139.60,498.55 L139.85,498.55 L140.10,498.54 L140.35,498.54 L140.60,498.53 L140.85,498.53 L141.10,498.52 L141.35,498.51 L141.60,498.51 L141.85,498.50 L142.10,498.50 L142.35,498.49 L142.60,498.48 L142.85,498.47 L143.10,498.46 L143.35,498.46 L143.60,498.45 L143.85,498.44 L144.10,498.43 L144.35,498.42 L144.60,498.40 L144.85,498.39 L145.10,498.38 L145.35,498.37 L145.60,498.35 L145.85,498.34 L146.10,498.32 L146.35,498.30 L146.60,498.28 L146.85,498.27 L147.10,498.24 L147.35,498.22 L147.60,498.20 L147.85,498.17 L148.10,498.14 L148.35,498.11 L148.60,498.08 L148.85,498.04 L149.10,498.01 L149.35,497.96 L149.60,497.92 L149.85,497.87 L150.10,497.81 L150.35,497.75 L150.60,497.68 L150.85,497.61 L151.10,497.53 L151.35,497.44 L151.60,497.34 L151.85,497.23 L152.10,497.11 L152.35,496.98 L152.60,496.83 L152.85,496.67 L153.10,496.50 L153.35,496.32 L153.60,496.13 L153.85,495.94 L154.10,495.76 L154.35,495.58 L154.60,495.43 L154.85,495.31 L155.10,495.23 L155.35,495.20 L155.60,495.21 L155.85,495.26 L156.10,495.35 L156.35,495.46 L156.60,495.59 L156.85,495.72 L157.10,495.85 L157.35,495.98 L157.60,496.09 L157.85,496.19 L158.10,496.28 L158.35,496.35 L158.60,496.41 L158.85,496.45 L159.10,496.48 L159.35,496.50 L159.60,496.51 L159.85,496.51 L160.10,496.49 L160.35,496.47 L160.60,496.44 L160.85,496.40 L161.10,496.35 L161.35,496.29 L161.60,496.21 L161.85,496.12 L162.10,496.02 L162.35,495.91 L162.60,495.79 L162.85,495.65 L163.10,495.50 L163.35,495.35 L163.60,495.21 L163.85,495.06 L164.10,494.93 L164.35,494.83 L164.60,494.75 L164.85,494.71 L165.10,494.70 L165.35,494.74 L165.60,494.80 L165.85,494.90 L166.10,495.02 L166.35,495.15 L166.60,495.29 L166.85,495.43 L167.10,495.57 L167.35,495.70 L167.60,495.82 L167.85,495.93 L168.10,496.02 L168.35,496.10 L168.60,496.17 L168.85,496.23 L169.10,496.28 L169.35,496.31 L169.60,496.35 L169.85,496.37 L170.10,496.39 L170.35,496.40 L170.60,496.40 L170.85,496.40 L171.10,496.39 L171.35,496.36 L171.60,496.33 L171.85,496.28 L172.10,496.22 L172.35,496.15 L172.60,496.06 L172.85,495.96 L173.10,495.84 L173.35,495.70 L173.60,495.55 L173.85,495.39 L174.10,495.22 L174.35,495.06 L174.60,494.92 L174.85,494.80 L175.10,494.73 L175.35,494.70 L175.60,494.73 L175.85,494.81 L176.10,494.95 L176.35,495.12 L176.60,495.31 L176.85,495.51 L177.10,495.70 L177.35,495.89 L177.60,496.05 L177.85,496.19 L178.10,496.31 L178.35,496.40 L178.60,496.46 L178.85,496.50 L179.10,496.50 L179.35,496.45 L179.60,496.37 L179.85,496.25 L180.10,496.10 L180.35,495.91 L180.60,495.69 L180.85,495.45 L181.10,495.21 L181.35,494.98 L181.60,494.79 L181.85,494.65 L182.10,494.60 L182.35,494.64 L182.60,494.75 L182.85,494.93 L183.10,495.14 L183.35,495.35 L183.60,495.55 L183.85,495.73 L184.10,495.87 L184.35,495.97 L184.60,496.01 L184.85,496.02 L185.10,495.99 L185.35,495.93 L185.60,495.84 L185.85,495.73 L186.10,495.60 L186.35,495.46 L186.60,495.33 L186.85,495.22 L187.10,495.14 L187.35,495.10 L187.60,495.11 L187.85,495.17 L188.10,495.26 L188.35,495.38 L188.60,495.51 L188.85,495.64 L189.10,495.76 L189.35,495.86 L189.60,495.94 L189.85,496.00 L190.10,496.02 L190.35,496.02 L190.60,495.98 L190.85,495.91 L191.10,495.80 L191.35,495.67 L191.60,495.49 L191.85,495.29 L192.10,495.05 L192.35,494.79 L192.60,494.51 L192.85,494.21 L193.10,493.92 L193.35,493.67 L193.60,493.46 L193.85,493.33 L194.10,493.30 L194.35,493.35 L194.60,493.49 L194.85,493.68 L195.10,493.90 L195.35,494.13 L195.60,494.36 L195.85,494.56 L196.10,494.74 L196.35,494.89 L196.60,495.00 L196.85,495.08 L197.10,495.12 L197.35,495.13 L197.60,495.10 L197.85,495.04 L198.10,494.94 L198.35,494.80 L198.60,494.62 L198.85,494.40 L199.10,494.14 L199.35,493.83 L199.60,493.49 L199.85,493.10 L200.10,492.69 L200.35,492.25 L200.60,491.82 L200.85,491.42 L201.10,491.06 L201.35,490.79 L201.60,490.63 L201.85,490.59 L202.10,490.66 L202.35,490.83 L202.60,491.07 L202.85,491.36 L203.10,491.66 L203.35,491.96 L203.60,492.24 L203.85,492.49 L204.10,492.70 L204.35,492.87 L204.60,493.00 L204.85,493.08 L205.10,493.13 L205.35,493.13 L205.60,493.10 L205.85,493.03 L206.10,492.92 L206.35,492.77 L206.60,492.57 L206.85,492.34 L207.10,492.06 L207.35,491.74 L207.60,491.36 L207.85,490.93 L208.10,490.45 L208.35,489.92 L208.60,489.35 L208.85,488.75 L209.10,488.16 L209.35,487.59 L209.60,487.10 L209.85,486.71 L210.10,486.47 L210.35,486.40 L210.60,486.51 L210.85,486.79 L211.10,487.20 L211.35,487.70 L211.60,488.26 L211.85,488.83 L212.10,489.39 L212.35,489.91 L212.60,490.37 L212.85,490.78 L213.10,491.12 L213.35,491.39 L213.60,491.60 L213.85,491.74 L214.10,491.81 L214.35,491.81 L214.60,491.74 L214.85,491.59 L215.10,491.37 L215.35,491.06 L215.60,490.66 L215.85,490.15 L216.10,489.54 L216.35,488.80 L216.60,487.91 L216.85,486.86 L217.10,485.65 L217.35,484.26 L217.60,482.71 L217.85,481.06 L218.10,479.38 L218.35,477.83 L218.60,476.60 L218.85,475.85 L219.10,475.73 L219.35,476.23 L219.60,477.26 L219.85,478.62 L220.10,480.15 L220.35,481.67 L220.60,483.09 L220.85,484.35 L221.10,485.44 L221.35,486.35 L221.60,487.09 L221.85,487.68 L222.10,488.13 L222.35,488.46 L222.60,488.67 L222.85,488.77 L223.10,488.77 L223.35,488.67 L223.60,488.48 L223.85,488.19 L224.10,487.79 L224.35,487.28 L224.60,486.66 L224.85,485.92 L225.10,485.05 L225.35,484.06 L225.60,482.96 L225.85,481.76 L226.10,480.50 L226.35,479.26 L226.60,478.10 L226.85,477.14 L227.10,476.48 L227.35,476.21 L227.60,476.82 L227.85,477.58 L228.10,478.32 L228.35,479.06 L228.60,479.78 L228.85,480.48 L229.10,481.17 L229.35,481.84 L229.60,482.49 L229.85,483.13 L230.10,483.75 L230.35,484.41 L230.60,485.11 L230.85,485.83 L231.10,486.55 L231.35,487.25 L231.60,487.93 L231.85,488.56 L232.10,489.12 L232.35,489.60 L232.60,489.99 L232.85,490.25 L233.10,490.39 L233.35,490.15 L233.60,488.78 L233.85,486.52 L234.10,483.74 L234.35,480.78 L234.60,478.00 L234.85,475.07 L235.10,471.76 L235.35,468.57 L235.60,466.00 L235.85,463.91 L236.10,462.01 L236.35,460.64 L236.60,460.03 L236.85,459.68 L237.10,459.41 L237.35,459.19 L237.60,459.02 L237.85,458.88 L238.10,458.75 L238.35,458.66 L238.60,458.58 L238.85,458.52 L239.10,458.46 L239.35,458.37 L239.60,458.26 L239.85,458.07 L240.10,457.68 L240.35,457.11 L240.60,456.41 L240.85,455.60 L241.10,454.73 L241.35,453.82 L241.60,452.82 L241.85,451.66 L242.10,450.26 L242.35,448.56 L242.60,446.50 L242.85,443.52 L243.10,439.21 L243.35,433.75 L243.60,426.96 L243.85,416.59 L244.10,404.59 L244.35,393.18 L244.60,381.44 L244.85,370.12 L245.10,358.38 L245.35,346.47 L245.60,341.00 L245.85,346.62 L246.10,358.64 L246.35,369.97 L246.60,380.00 L246.85,390.11 L247.10,400.00 L247.35,409.94 L247.60,419.75 L247.85,428.47 L248.10,435.83 L248.35,442.58 L248.60,448.35 L248.85,452.77 L249.10,456.33 L249.35,459.41 L249.60,462.06 L249.85,464.31 L250.10,466.26 L250.35,468.19 L250.60,470.04 L250.85,471.67 L251.10,472.93 L251.35,473.67 L251.60,473.70 L251.85,472.72 L252.10,470.97 L252.35,468.82 L252.60,466.64 L252.85,464.80 L253.10,463.57 L253.35,462.54 L253.60,461.58 L253.85,460.72 L254.10,459.97 L254.35,459.35 L254.60,458.90 L254.85,459.52 L255.10,460.81 L255.35,462.64 L255.60,464.85 L255.85,467.28 L256.10,469.76 L256.35,472.19 L256.60,474.49 L256.85,476.62 L257.10,478.55 L257.35,480.29 L257.60,481.83 L257.85,483.19 L258.10,484.39 L258.35,485.44 L258.60,486.35 L258.85,487.14 L259.10,487.82 L259.35,488.38 L259.60,488.85 L259.85,489.22 L260.10,489.50 L260.35,489.68 L260.60,489.75 L260.85,489.68 L261.10,489.48 L261.35,489.13 L261.60,488.61 L261.85,487.90 L262.10,486.99 L262.35,485.87 L262.60,484.55 L262.85,483.11 L263.10,481.70 L263.35,480.57 L263.60,480.01 L263.85,480.21 L264.10,481.13 L264.35,482.55 L264.60,484.18 L264.85,485.80 L265.10,487.27 L265.35,488.56 L265.60,489.65 L265.85,490.55 L266.10,491.31 L266.35,491.94 L266.60,492.47 L266.85,492.92 L267.10,493.30 L267.35,493.62 L267.60,493.89 L267.85,494.12 L268.10,494.32 L268.35,494.49 L268.60,494.64 L268.85,494.76 L269.10,494.85 L269.35,494.93 L269.60,494.98 L269.85,495.01 L270.10,495.02 L270.35,495.01 L270.60,494.96 L270.85,494.88 L271.10,494.75 L271.35,494.56 L271.60,494.30 L271.85,493.95 L272.10,493.46 L272.35,492.81 L272.60,491.96 L272.85,490.88 L273.10,489.64 L273.35,488.46 L273.60,487.76 L273.85,487.88 L274.10,488.79 L274.35,490.09 L274.60,491.40 L274.85,492.54 L275.10,493.46 L275.35,494.18 L275.60,494.74 L275.85,495.17 L276.10,495.51 L276.35,495.76 L276.60,495.95 L276.85,496.08 L277.10,496.16 L277.35,496.20 L277.60,496.21 L277.85,496.19 L278.10,496.14 L278.35,496.06 L278.60,495.95 L278.85,495.80 L279.10,495.62 L279.35,495.40 L279.60,495.13 L279.85,494.81 L280.10,494.43 L280.35,493.97 L280.60,493.44 L280.85,492.83 L281.10,492.17 L281.35,491.50 L281.60,490.90 L281.85,490.47 L282.10,490.30 L282.35,490.44 L282.60,490.84 L282.85,491.41 L283.10,492.05 L283.35,492.68 L283.60,493.25 L283.85,493.75 L284.10,494.16 L284.35,494.51 L284.60,494.79 L284.85,495.01 L285.10,495.19 L285.35,495.32 L285.60,495.42 L285.85,495.48 L286.10,495.52 L286.35,495.52 L286.60,495.50 L286.85,495.45 L287.10,495.39 L287.35,495.30 L287.60,495.19 L287.85,495.06 L288.10,494.91 L288.35,494.73 L288.60,494.54 L288.85,494.32 L289.10,494.07 L289.35,493.80 L289.60,493.51 L289.85,493.20 L290.10,492.86 L290.35,492.51 L290.60,492.15 L290.85,491.79 L291.10,491.44 L291.35,491.12 L291.60,490.83 L291.85,490.59 L292.10,490.42 L292.35,490.32 L292.60,490.30 L292.85,490.35 L293.10,490.47 L293.35,490.64 L293.60,490.86 L293.85,491.10 L294.10,491.36 L294.35,491.63 L294.60,491.89 L294.85,492.14 L295.10,492.38 L295.35,492.59 L295.60,492.77 L295.85,492.94 L296.10,493.08 L296.35,493.20 L296.60,493.30 L296.85,493.38 L297.10,493.45 L297.35,493.50 L297.60,493.54 L297.85,493.57 L298.10,493.59 L298.35,493.60 L298.60,493.62 L298.85,493.64 L299.10,493.66 L299.35,493.69 L299.60,493.70 L299.85,493.71 L300.10,493.72 L300.35,493.71 L300.60,493.70 L300.85,493.68 L301.10,493.65 L301.35,493.61 L301.60,493.57 L301.85,493.54 L302.10,493.51 L302.35,493.49 L302.60,493.48 L302.85,493.49 L303.10,493.51 L303.35,493.57 L303.60,493.66 L303.85,493.77 L304.10,493.91 L304.35,494.07 L304.60,494.24 L304.85,494.42 L305.10,494.59 L305.35,494.76 L305.60,494.93 L305.85,495.08 L306.10,495.23 L306.35,495.36 L306.60,495.49 L306.85,495.60 L307.10,495.70 L307.35,495.79 L307.60,495.88 L307.85,495.96 L308.10,496.03 L308.35,496.09 L308.60,496.14 L308.85,496.17 L309.10,496.20 L309.35,496.21 L309.60,496.21 L309.85,496.20 L310.10,496.17 L310.35,496.13 L310.60,496.08 L310.85,496.01 L311.10,495.94 L311.35,495.85 L311.60,495.76 L311.85,495.68 L312.10,495.60 L312.35,495.54 L312.60,495.50 L312.85,495.49 L313.10,495.51 L313.35,495.57 L313.60,495.66 L313.85,495.78 L314.10,495.91 L314.35,496.06 L314.60,496.20 L314.85,496.35 L315.10,496.49 L315.35,496.62 L315.60,496.74 L315.85,496.86 L316.10,496.96 L316.35,497.05 L316.60,497.13 L316.85,497.21 L317.10,497.28 L317.35,497.35 L317.60,497.41 L317.85,497.47 L318.10,497.52 L318.35,497.57 L318.60,497.62 L318.85,497.66 L319.10,497.70 L319.35,497.74 L319.60,497.77 L319.85,497.81 L320.10,497.84 L320.35,497.86 L320.60,497.89 L320.85,497.91 L321.10,497.94 L321.35,497.96 L321.60,497.98 L321.85,498.00 L322.10,498.01 L322.35,498.03 L322.60,498.05 L322.85,498.06 L323.10,498.08 L323.35,498.09 L323.60,498.10 L323.85,498.11 L324.10,498.13 L324.35,498.14 L324.60,498.15 L324.85,498.16" fill="none" stroke="#0000ff" stroke-width="3" stroke-linejoin="round"/>
</g></svg>
<rect x="46.85" y="292.40" width="277.15" height="207.50" fill="none" stroke="#1a1a1a" stroke-width="1.05"/>
<path d="M102.24,499.9 v-3.2" stroke="#1a1a1a" stroke-width="1"/>
<path d="M157.68,499.9 v-3.2" stroke="#1a1a1a" stroke-width="1"/>
<path d="M213.12,499.9 v-3.2" stroke="#1a1a1a" stroke-width="1"/>
<path d="M268.56,499.9 v-3.2" stroke="#1a1a1a" stroke-width="1"/>
<circle cx="194.3" cy="314.6" r="6.4" fill="#b4c8ff"/>
<circle cx="223.2" cy="314.6" r="6.4" fill="#7080ff"/>
<circle cx="246.4" cy="314.6" r="6.4" fill="#0000ff"/>
<path d="M256.8,422.2 L266.4,431.2 M256.8,431.2 L266.4,422.2" stroke="#0000ff" stroke-width="1.3"/>
<rect x="73.3" y="360.1" width="83.60000000000001" height="57.89999999999998" fill="#fff"/>
<svg x="73.30" y="360.10" width="83.60" height="57.90" overflow="hidden"><g transform="translate(-73.30,-360.10)">
<path d="M73.30,418.00 L73.45,417.87 L73.61,417.75 L73.76,417.62 L73.91,417.50 L74.07,417.37 L74.22,417.24 L74.37,417.12 L74.53,416.99 L74.68,416.87 L74.83,416.74 L74.99,416.62 L75.14,416.49 L75.29,416.36 L75.45,416.24 L75.60,416.11 L75.75,415.99 L75.91,415.86 L76.06,415.73 L76.21,415.61 L76.37,415.48 L76.52,415.36 L76.68,415.23 L76.83,415.11 L76.98,414.98 L77.14,414.85 L77.29,414.73 L77.44,414.60 L77.60,414.48 L77.75,414.35 L77.90,414.22 L78.06,414.10 L78.21,413.97 L78.37,413.85 L78.52,413.72 L78.67,413.59 L78.83,413.47 L78.98,413.34 L79.14,413.22 L79.29,413.09 L79.44,412.97 L79.60,412.84 L79.75,412.71 L79.91,412.59 L80.06,412.46 L80.22,412.34 L80.37,412.21 L80.53,412.08 L80.68,411.96 L80.83,411.83 L80.99,411.71 L81.14,411.58 L81.30,411.45 L81.45,411.33 L81.61,411.20 L81.76,411.08 L81.92,410.95 L82.07,410.83 L82.23,410.70 L82.38,410.57 L82.54,410.45 L82.69,410.32 L82.85,410.20 L83.01,410.07 L83.16,409.94 L83.32,409.82 L83.47,409.69 L83.63,409.57 L83.78,409.44 L83.94,409.31 L84.10,409.19 L84.25,409.06 L84.41,408.94 L84.56,408.81 L84.72,408.69 L84.88,408.56 L85.03,408.43 L85.19,408.31 L85.35,408.18 L85.50,408.06 L85.66,407.93 L85.82,407.80 L85.98,407.68 L86.13,407.55 L86.29,407.43 L86.45,407.30 L86.61,407.18 L86.76,407.05 L86.92,406.92 L87.08,406.80 L87.24,406.67 L87.39,406.55 L87.55,406.42 L87.71,406.29 L87.87,406.17 L88.03,406.04 L88.19,405.92 L88.35,405.79 L88.51,405.66 L88.67,405.54 L88.82,405.41 L88.98,405.29 L89.14,405.16 L89.30,405.04 L89.46,404.91 L89.62,404.78 L89.78,404.66 L89.94,404.53 L90.11,404.41 L90.27,404.28 L90.43,404.15 L90.59,404.03 L90.75,403.90 L90.91,403.78 L91.07,403.65 L91.23,403.52 L91.40,403.40 L91.56,403.27 L91.72,403.15 L91.88,403.02 L92.05,402.90 L92.21,402.77 L92.37,402.64 L92.54,402.52 L92.70,402.39 L92.86,402.27 L93.03,402.14 L93.19,402.01 L93.36,401.89 L93.52,401.76 L93.69,401.64 L93.85,401.51 L94.02,401.39 L94.18,401.26 L94.35,401.13 L94.52,401.01 L94.68,400.88 L94.85,400.76 L95.02,400.63 L95.19,400.50 L95.35,400.38 L95.52,400.25 L95.69,400.13 L95.86,400.00 L96.03,399.87 L96.20,399.75 L96.37,399.62 L96.54,399.50 L96.71,399.37 L96.88,399.25 L97.05,399.12 L97.22,398.99 L97.39,398.87 L97.56,398.74 L97.74,398.62 L97.91,398.49 L98.08,398.36 L98.26,398.24 L98.43,398.11 L98.60,397.99 L98.78,397.86 L98.95,397.74 L99.13,397.61 L99.31,397.48 L99.48,397.36 L99.66,397.23 L99.84,397.11 L100.02,396.98 L100.20,396.85 L100.38,396.73 L100.55,396.60 L100.74,396.48 L100.92,396.35 L101.10,396.22 L101.28,396.10 L101.46,395.97 L101.65,395.85 L101.83,395.72 L102.01,395.60 L102.20,395.47 L102.38,395.34 L102.57,395.22 L102.76,395.09 L102.95,394.97 L103.13,394.84 L103.32,394.71 L103.51,394.59 L103.70,394.46 L103.90,394.34 L104.09,394.21 L104.28,394.08 L104.48,393.96 L104.67,393.83 L104.87,393.71 L105.06,393.58 L105.26,393.46 L105.46,393.33 L105.66,393.20 L105.86,393.08 L106.06,392.95 L106.26,392.83 L106.47,392.70 L106.67,392.57 L106.88,392.45 L107.09,392.32 L107.30,392.20 L107.51,392.07 L107.72,391.94 L107.93,391.82 L108.14,391.69 L108.36,391.57 L108.58,391.44 L108.79,391.32 L109.01,391.19 L109.24,391.06 L109.46,390.94 L109.68,390.81 L109.91,390.69 L110.14,390.56 L110.37,390.43 L110.60,390.31 L110.83,390.18 L111.07,390.06 L111.31,389.93 L111.55,389.81 L111.79,389.68 L112.04,389.55 L112.29,389.43 L112.54,389.30 L112.79,389.18 L113.04,389.05 L113.30,388.92 L113.56,388.80 L113.83,388.67 L114.09,388.55 L114.36,388.42 L114.64,388.29 L114.92,388.17 L115.20,388.04 L115.48,387.92 L115.77,387.79 L116.06,387.67 L116.36,387.54 L116.66,387.41 L116.97,387.29 L117.28,387.16 L117.59,387.04 L117.92,386.91 L118.24,386.78 L118.58,386.66 L118.92,386.53 L119.26,386.41 L119.61,386.28 L119.97,386.16 L120.34,386.03 L120.71,385.90 L121.10,385.78 L121.49,385.65 L121.89,385.53 L122.30,385.40 L122.72,385.27 L123.15,385.15 L123.59,385.02 L124.05,384.90 L124.52,384.77 L125.00,384.64 L125.50,384.52 L126.01,384.39 L126.54,384.27 L127.09,384.14 L127.66,384.02 L128.24,383.89 L128.85,383.76 L129.49,383.64 L130.15,383.51 L130.84,383.39 L131.56,383.26 L132.31,383.13 L133.10,383.01 L133.93,382.88 L134.80,382.76 L135.72,382.63 L136.70,382.50 L137.73,382.38 L138.83,382.25 L140.01,382.13 L141.26,382.00 L142.62,381.88 L144.07,381.75 L145.65,381.62 L147.38,381.50 L149.26,381.37 L151.34,381.25 L153.65,381.12 L156.24,380.99 L159.15,380.87 L162.48,380.74 L166.33,380.62 L170.84,380.49 L176.24,380.37" fill="none" stroke="#cccccc" stroke-width="2.5"/>
<path d="M73.30,374.58 L79.66,374.49 L82.23,374.41 L84.17,374.32 L85.77,374.24 L87.15,374.15 L88.38,374.07 L89.49,373.98 L90.51,373.90 L91.45,373.82 L92.33,373.73 L93.14,373.65 L93.92,373.56 L94.64,373.48 L95.33,373.39 L95.99,373.31 L96.62,373.22 L97.22,373.14 L97.79,373.06 L98.34,372.97 L98.87,372.89 L99.39,372.80 L99.88,372.72 L100.36,372.63 L100.82,372.55 L101.26,372.47 L101.70,372.38 L102.12,372.30 L102.53,372.21 L102.93,372.13 L103.31,372.04 L103.69,371.96 L104.06,371.87 L104.42,371.79 L104.77,371.71 L105.11,371.62 L105.45,371.54 L105.78,371.45 L106.10,371.37 L106.41,371.28 L106.72,371.20 L107.02,371.12 L107.32,371.03 L107.61,370.95 L107.90,370.86 L108.18,370.78 L108.45,370.69 L108.72,370.61 L108.99,370.52 L109.25,370.44 L109.51,370.36 L109.77,370.27 L110.02,370.19 L110.26,370.10 L110.51,370.02 L110.75,369.93 L110.98,369.85 L111.22,369.77 L111.45,369.68 L111.67,369.60 L111.90,369.51 L112.12,369.43 L112.34,369.34 L112.56,369.26 L112.77,369.17 L112.98,369.09 L113.19,369.01 L113.40,368.92 L113.60,368.84 L113.80,368.75 L114.00,368.67 L114.20,368.58 L114.40,368.50 L114.59,368.42 L114.79,368.33 L114.98,368.25 L115.17,368.16 L115.35,368.08 L115.54,367.99 L115.72,367.91 L115.91,367.82 L116.09,367.74 L116.27,367.66 L116.44,367.57 L116.62,367.49 L116.79,367.40 L116.97,367.32 L117.14,367.23 L117.31,367.15 L117.48,367.07 L117.65,366.98 L117.82,366.90 L117.98,366.81 L118.15,366.73 L118.31,366.64 L118.48,366.56 L118.64,366.47 L118.80,366.39 L118.96,366.31 L119.12,366.22 L119.28,366.14 L119.43,366.05 L119.59,365.97 L119.74,365.88 L119.90,365.80 L120.05,365.72 L120.20,365.63 L120.35,365.55 L120.51,365.46 L120.66,365.38 L120.80,365.29 L120.95,365.21 L121.10,365.12 L121.25,365.04 L121.39,364.96 L121.54,364.87 L121.68,364.79 L121.83,364.70 L121.97,364.62 L122.11,364.53 L122.26,364.45 L122.40,364.37 L122.54,364.28 L122.68,364.20 L122.82,364.11 L122.96,364.03 L123.10,363.94 L123.23,363.86 L123.37,363.77 L123.51,363.69 L123.65,363.61 L123.78,363.52 L123.92,363.44 L124.05,363.35 L124.19,363.27 L124.32,363.18 L124.45,363.10 L124.59,363.02 L124.72,362.93 L124.85,362.85 L124.98,362.76 L125.11,362.68 L125.24,362.59 L125.37,362.51 L125.50,362.42 L125.63,362.34 L125.76,362.26 L125.89,362.17 L126.02,362.09 L126.15,362.00 L126.27,361.92 L126.40,361.83 L126.53,361.75 L126.66,361.67 L126.78,361.58 L126.91,361.50 L127.03,361.41 L127.16,361.33 L127.28,361.24 L127.41,361.16 L127.53,361.07 L127.65,360.99 L127.78,360.91 L127.90,360.82 L128.02,360.74 L128.15,360.65 L128.27,360.57 L128.39,360.48 L128.51,360.40 L128.63,360.32 L128.75,360.23 L128.87,360.15 L128.99,360.06 L129.11,359.98 L129.23,359.89 L129.35,359.81 L129.47,359.72 L129.59,359.64 L129.71,359.56 L129.83,359.47 L129.95,359.39 L130.07,359.30 L130.19,359.22 L130.30,359.13 L130.42,359.05 L130.54,358.97 L130.66,358.88 L130.77,358.80 L130.89,358.71 L131.00,358.63 L131.12,358.54 L131.24,358.46 L131.35,358.37 L131.47,358.29 L131.58,358.21 L131.70,358.12 L131.81,358.04 L131.93,357.95 L132.04,357.87 L132.16,357.78" fill="none" stroke="#cccccc" stroke-width="2.5"/>
</g></svg>
<rect x="73.30" y="360.10" width="83.60" height="57.90" fill="none" stroke="#1a1a1a" stroke-width="1"/>
<path d="M73.3,379.40 h3 M115.10,418.0 v-3" stroke="#1a1a1a" stroke-width="1"/>
<circle cx="106.9" cy="392.5" r="5.8" fill="#b4c8ff"/>
<circle cx="117.1" cy="387.3" r="5.8" fill="#7080ff"/>
<circle cx="130.4" cy="383.3" r="5.8" fill="#0000ff"/>
<svg x="393.40" y="292.40" width="277.10" height="208.00" overflow="hidden"><g transform="translate(-393.40,-292.40)">
<path d="M615.20,292.4 V499.9" stroke="#888" stroke-width="1.1" stroke-dasharray="5.7 5.4" stroke-dashoffset="5.7"/>
<path d="M642.89,292.4 V499.9" stroke="#888" stroke-width="1.1" stroke-dasharray="5.7 5.4" stroke-dashoffset="5.7"/>
<path d="M393.70,498.58 L394.10,498.57 L394.49,498.56 L394.89,498.56 L395.28,498.55 L395.68,498.55 L396.08,498.54 L396.47,498.54 L396.87,498.53 L397.26,498.52 L397.66,498.52 L398.06,498.51 L398.45,498.51 L398.85,498.50 L399.25,498.49 L399.64,498.49 L400.04,498.48 L400.43,498.47 L400.83,498.46 L401.23,498.46 L401.62,498.45 L402.02,498.44 L402.41,498.43 L402.81,498.43 L403.21,498.42 L403.60,498.41 L404.00,498.40 L404.39,498.39 L404.79,498.38 L405.19,498.37 L405.58,498.36 L405.98,498.35 L406.38,498.35 L406.77,498.34 L407.17,498.33 L407.56,498.32 L407.96,498.30 L408.36,498.29 L408.75,498.28 L409.15,498.27 L409.54,498.26 L409.94,498.25 L410.34,498.24 L410.73,498.23 L411.13,498.21 L411.52,498.20 L411.92,498.19 L412.32,498.18 L412.71,498.16 L413.11,498.15 L413.51,498.14 L413.90,498.12 L414.30,498.11 L414.69,498.09 L415.09,498.08 L415.49,498.06 L415.88,498.05 L416.28,498.03 L416.67,498.02 L417.07,498.00 L417.47,497.99 L417.86,497.97 L418.26,497.95 L418.65,497.94 L419.05,497.92 L419.45,497.90 L419.84,497.88 L420.24,497.86 L420.63,497.84 L421.03,497.83 L421.43,497.81 L421.82,497.79 L422.22,497.77 L422.62,497.75 L423.01,497.72 L423.41,497.70 L423.80,497.68 L424.20,497.66 L424.60,497.64 L424.99,497.61 L425.39,497.59 L425.78,497.57 L426.18,497.54 L426.58,497.52 L426.97,497.49 L427.37,497.47 L427.76,497.44 L428.16,497.42 L428.56,497.39 L428.95,497.36 L429.35,497.33 L429.75,497.31 L430.14,497.28 L430.54,497.25 L430.93,497.22 L431.33,497.19 L431.73,497.16 L432.12,497.13 L432.52,497.10 L432.91,497.06 L433.31,497.03 L433.71,497.00 L434.10,496.96 L434.50,496.93 L434.89,496.90 L435.29,496.86 L435.69,496.82 L436.08,496.79 L436.48,496.75 L436.88,496.71 L437.27,496.67 L437.67,496.64 L438.06,496.60 L438.46,496.56 L438.86,496.51 L439.25,496.47 L439.65,496.43 L440.04,496.39 L440.44,496.34 L440.84,496.30 L441.23,496.26 L441.63,496.21 L442.02,496.16 L442.42,496.12 L442.82,496.07 L443.21,496.02 L443.61,495.97 L444.00,495.92 L444.40,495.87 L444.80,495.82 L445.19,495.77 L445.59,495.71 L445.99,495.66 L446.38,495.60 L446.78,495.55 L447.17,495.49 L447.57,495.43 L447.97,495.38 L448.36,495.32 L448.76,495.26 L449.15,495.20 L449.55,495.14 L449.95,495.07 L450.34,495.01 L450.74,494.95 L451.13,494.88 L451.53,494.81 L451.93,494.75 L452.32,494.68 L452.72,494.61 L453.12,494.54 L453.51,494.47 L453.91,494.40 L454.30,494.32 L454.70,494.25 L455.10,494.17 L455.49,494.10 L455.89,494.02 L456.28,493.94 L456.68,493.86 L457.08,493.78 L457.47,493.70 L457.87,493.62 L458.26,493.53 L458.66,493.45 L459.06,493.36 L459.45,493.27 L459.85,493.19 L460.25,493.10 L460.64,493.00 L461.04,492.91 L461.43,492.82 L461.83,492.72 L462.23,492.63 L462.62,492.53 L463.02,492.43 L463.41,492.33 L463.81,492.23 L464.21,492.13 L464.60,492.03 L465.00,491.92 L465.39,491.81 L465.79,491.71 L466.19,491.60 L466.58,491.49 L466.98,491.38 L467.37,491.26 L467.77,491.15 L468.17,491.03 L468.56,490.91 L468.96,490.80 L469.36,490.68 L469.75,490.55 L470.15,490.43 L470.54,490.30 L470.94,490.18 L471.34,490.05 L471.73,489.92 L472.13,489.79 L472.52,489.66 L472.92,489.52 L473.32,489.39 L473.71,489.25 L474.11,489.11 L474.50,488.97 L474.90,488.83 L475.30,488.68 L475.69,488.54 L476.09,488.39 L476.49,488.24 L476.88,488.09 L477.28,487.94 L477.67,487.79 L478.07,487.63 L478.47,487.47 L478.86,487.31 L479.26,487.15 L479.65,486.99 L480.05,486.83 L480.45,486.66 L480.84,486.49 L481.24,486.32 L481.63,486.15 L482.03,485.98 L482.43,485.80 L482.82,485.62 L483.22,485.44 L483.62,485.26 L484.01,485.08 L484.41,484.89 L484.80,484.71 L485.20,484.52 L485.60,484.33 L485.99,484.13 L486.39,483.94 L486.78,483.74 L487.18,483.54 L487.58,483.34 L487.97,483.14 L488.37,482.94 L488.76,482.73 L489.16,482.52 L489.56,482.31 L489.95,482.10 L490.35,481.88 L490.74,481.66 L491.14,481.45 L491.54,481.22 L491.93,481.00 L492.33,480.78 L492.73,480.55 L493.12,480.32 L493.52,480.09 L493.91,479.85 L494.31,479.62 L494.71,479.38 L495.10,479.14 L495.50,478.90 L495.89,478.65 L496.29,478.40 L496.69,478.16 L497.08,477.90 L497.48,477.65 L497.87,477.39 L498.27,477.14 L498.67,476.88 L499.06,476.61 L499.46,476.35 L499.86,476.08 L500.25,475.81 L500.65,475.54 L501.04,475.27 L501.44,474.99 L501.84,474.72 L502.23,474.44 L502.63,474.15 L503.02,473.87 L503.42,473.58 L503.82,473.29 L504.21,473.00 L504.61,472.71 L505.00,472.41 L505.40,472.11 L505.80,471.81 L506.19,471.51 L506.59,471.20 L506.99,470.89 L507.38,470.58 L507.78,470.27 L508.17,469.96 L508.57,469.64 L508.97,469.32 L509.36,469.00 L509.76,468.68 L510.15,468.35 L510.55,468.02 L510.95,467.69 L511.34,467.36 L511.74,467.02 L512.13,466.69 L512.53,466.35 L512.93,466.01 L513.32,465.66 L513.72,465.32 L514.11,464.97 L514.51,464.62 L514.91,464.26 L515.30,463.91 L515.70,463.55 L516.10,463.19 L516.49,462.83 L516.89,462.46 L517.28,462.10 L517.68,461.73 L518.08,461.36 L518.47,460.99 L518.87,460.61 L519.26,460.23 L519.66,459.85 L520.06,459.47 L520.45,459.09 L520.85,458.70 L521.24,458.32 L521.64,457.93 L522.04,457.53 L522.43,457.14 L522.83,456.74 L523.23,456.35 L523.62,455.95 L524.02,455.54 L524.41,455.14 L524.81,454.73 L525.21,454.32 L525.60,453.91 L526.00,453.50 L526.39,453.09 L526.79,452.67 L527.19,452.25 L527.58,451.83 L527.98,451.41 L528.37,450.99 L528.77,450.56 L529.17,450.14 L529.56,449.71 L529.96,449.28 L530.36,448.84 L530.75,448.41 L531.15,447.97 L531.54,447.54 L531.94,447.10 L532.34,446.66 L532.73,446.21 L533.13,445.77 L533.52,445.32 L533.92,444.88 L534.32,444.43 L534.71,443.98 L535.11,443.52 L535.50,443.07 L535.90,442.62 L536.30,442.16 L536.69,441.70 L537.09,441.24 L537.48,440.78 L537.88,440.32 L538.28,439.86 L538.67,439.39 L539.07,438.93 L539.47,438.46 L539.86,437.99 L540.26,437.53 L540.65,437.06 L541.05,436.58 L541.45,436.11 L541.84,435.64 L542.24,435.16 L542.63,434.69 L543.03,434.21 L543.43,433.74 L543.82,433.26 L544.22,432.78 L544.61,432.30 L545.01,431.82 L545.41,431.34 L545.80,430.86 L546.20,430.37 L546.60,429.89 L546.99,429.41 L547.39,428.92 L547.78,428.44 L548.18,427.95 L548.58,427.47 L548.97,426.98 L549.37,426.50 L549.76,426.01 L550.16,425.52 L550.56,425.03 L550.95,424.55 L551.35,424.06 L551.74,423.57 L552.14,423.08 L552.54,422.59 L552.93,422.11 L553.33,421.62 L553.73,421.13 L554.12,420.64 L554.52,420.15 L554.91,419.66 L555.31,419.18 L555.71,418.69 L556.10,418.20 L556.50,417.72 L556.89,417.23 L557.29,416.74 L557.69,416.26 L558.08,415.77 L558.48,415.29 L558.87,414.80 L559.27,414.32 L559.67,413.84 L560.06,413.36 L560.46,412.87 L560.85,412.39 L561.25,411.91 L561.65,411.44 L562.04,410.96 L562.44,410.48 L562.84,410.00 L563.23,409.53 L563.63,409.06 L564.02,408.58 L564.42,408.11 L564.82,407.64 L565.21,407.17 L565.61,406.70 L566.00,406.24 L566.40,405.77 L566.80,405.31 L567.19,404.85 L567.59,404.39 L567.98,403.93 L568.38,403.47 L568.78,403.02 L569.17,402.56 L569.57,402.11 L569.97,401.66 L570.36,401.21 L570.76,400.77 L571.15,400.32 L571.55,399.88 L571.95,399.44 L572.34,399.00 L572.74,398.56 L573.13,398.13 L573.53,397.70 L573.93,397.27 L574.32,396.84 L574.72,396.42 L575.11,395.99 L575.51,395.57 L575.91,395.16 L576.30,394.74 L576.70,394.33 L577.10,393.92 L577.49,393.51 L577.89,393.11 L578.28,392.70 L578.68,392.30 L579.08,391.91 L579.47,391.52 L579.87,391.12 L580.26,390.74 L580.66,390.35 L581.06,389.97 L581.45,389.59 L581.85,389.22 L582.24,388.85 L582.64,388.48 L583.04,388.11 L583.43,387.75 L583.83,387.39 L584.22,387.03 L584.62,386.68 L585.02,386.33 L585.41,385.99 L585.81,385.65 L586.21,385.31 L586.60,384.97 L587.00,384.64 L587.39,384.31 L587.79,383.99 L588.19,383.67 L588.58,383.35 L588.98,383.04 L589.37,382.73 L589.77,382.43 L590.17,382.13 L590.56,381.83 L590.96,381.54 L591.35,381.25 L591.75,380.97 L592.15,380.69 L592.54,380.41 L592.94,380.14 L593.34,379.87 L593.73,379.61 L594.13,379.35 L594.52,379.09 L594.92,378.84 L595.32,378.59 L595.71,378.35 L596.11,378.11 L596.50,377.88 L596.90,377.65 L597.30,377.43 L597.69,377.21 L598.09,376.99 L598.48,376.78 L598.88,376.57 L599.28,376.37 L599.67,376.18 L600.07,375.98 L600.47,375.80 L600.86,375.61 L601.26,375.43 L601.65,375.26 L602.05,375.09 L602.45,374.93 L602.84,374.77 L603.24,374.61 L603.63,374.47 L604.03,374.32 L604.43,374.18 L604.82,374.05 L605.22,373.92 L605.61,373.79 L606.01,373.67 L606.41,373.56 L606.80,373.45 L607.20,373.34 L607.59,373.24 L607.99,373.15 L608.39,373.06 L608.78,372.97 L609.18,372.89 L609.58,372.82 L609.97,372.75 L610.37,372.68 L610.76,372.62 L611.16,372.57 L611.56,372.52 L611.95,372.47 L612.35,372.43 L612.74,372.40 L613.14,372.37 L613.54,372.35 L613.93,372.33 L614.33,372.31 L614.72,372.30 L615.12,372.30 L615.52,372.30 L615.91,372.31 L616.31,372.32 L616.71,372.34 L617.10,372.36 L617.50,372.39 L617.89,372.42 L618.29,372.46 L618.69,372.50 L619.08,372.55 L619.48,372.60 L619.87,372.66 L620.27,372.72 L620.67,372.79 L621.06,372.86 L621.46,372.94 L621.85,373.02 L622.25,373.11 L622.65,373.20 L623.04,373.30 L623.44,373.40 L623.84,373.51 L624.23,373.62 L624.63,373.74 L625.02,373.87 L625.42,373.99 L625.82,374.13 L626.21,374.26 L626.61,374.41 L627.00,374.55 L627.40,374.71 L627.80,374.86 L628.19,375.03 L628.59,375.19 L628.98,375.36 L629.38,375.54 L629.78,375.72 L630.17,375.91 L630.57,376.10 L630.96,376.29 L631.36,376.49 L631.76,376.70 L632.15,376.91 L632.55,377.12 L632.95,377.34 L633.34,377.56 L633.74,377.79 L634.13,378.02 L634.53,378.26 L634.93,378.50 L635.32,378.74 L635.72,378.99 L636.11,379.24 L636.51,379.50 L636.91,379.76 L637.30,380.03 L637.70,380.30 L638.09,380.57 L638.49,380.85 L638.89,381.14 L639.28,381.42 L639.68,381.71 L640.08,382.01 L640.47,382.31 L640.87,382.61 L641.26,382.92 L641.66,383.23 L642.06,383.54 L642.45,383.86 L642.85,384.18 L643.24,384.51 L643.64,384.84 L644.04,385.17 L644.43,385.51 L644.83,385.85 L645.22,386.19 L645.62,386.54 L646.02,386.89 L646.41,387.25 L646.81,387.60 L647.21,387.97 L647.60,388.33 L648.00,388.70 L648.39,389.07 L648.79,389.44 L649.19,389.82 L649.58,390.20 L649.98,390.58 L650.37,390.97 L650.77,391.36 L651.17,391.75 L651.56,392.15 L651.96,392.54 L652.35,392.94 L652.75,393.35 L653.15,393.75 L653.54,394.16 L653.94,394.57 L654.33,394.99 L654.73,395.41 L655.13,395.82 L655.52,396.25 L655.92,396.67 L656.32,397.10 L656.71,397.53 L657.11,397.96 L657.50,398.39 L657.90,398.82 L658.30,399.26 L658.69,399.70 L659.09,400.14 L659.48,400.59 L659.88,401.03 L660.28,401.48 L660.67,401.93 L661.07,402.38 L661.46,402.83 L661.86,403.29 L662.26,403.75 L662.65,404.20 L663.05,404.66 L663.45,405.13 L663.84,405.59 L664.24,406.05 L664.63,406.52 L665.03,406.99 L665.43,407.45 L665.82,407.92 L666.22,408.39 L666.61,408.87 L667.01,409.34 L667.41,409.81 L667.80,410.29 L668.20,410.77 L668.59,411.24 L668.99,411.72 L669.39,412.20 L669.78,412.68 L670.18,413.16 L670.58,413.64" fill="none" stroke="#000" stroke-width="1.5"/>
<path d="M390.00,498.73 L390.25,498.73 L390.50,498.73 L390.75,498.72 L391.00,498.72 L391.25,498.72 L391.50,498.72 L391.75,498.71 L392.00,498.71 L392.25,498.71 L392.50,498.71 L392.75,498.71 L393.00,498.70 L393.25,498.70 L393.50,498.70 L393.75,498.70 L394.00,498.70 L394.25,498.70 L394.50,498.69 L394.75,498.69 L395.00,498.69 L395.25,498.69 L395.50,498.69 L395.75,498.69 L396.00,498.69 L396.25,498.68 L396.50,498.68 L396.75,498.68 L397.00,498.68 L397.25,498.68 L397.50,498.68 L397.75,498.68 L398.00,498.68 L398.25,498.68 L398.50,498.67 L398.75,498.67 L399.00,498.67 L399.25,498.67 L399.50,498.67 L399.75,498.67 L400.00,498.67 L400.25,498.67 L400.50,498.67 L400.75,498.67 L401.00,498.66 L401.25,498.66 L401.50,498.66 L401.75,498.66 L402.00,498.66 L402.25,498.66 L402.50,498.66 L402.75,498.66 L403.00,498.66 L403.25,498.66 L403.50,498.66 L403.75,498.66 L404.00,498.66 L404.25,498.65 L404.50,498.65 L404.75,498.65 L405.00,498.65 L405.25,498.65 L405.50,498.65 L405.75,498.65 L406.00,498.65 L406.25,498.65 L406.50,498.65 L406.75,498.65 L407.00,498.65 L407.25,498.65 L407.50,498.65 L407.75,498.65 L408.00,498.64 L408.25,498.64 L408.50,498.64 L408.75,498.64 L409.00,498.64 L409.25,498.64 L409.50,498.64 L409.75,498.64 L410.00,498.64 L410.25,498.64 L410.50,498.64 L410.75,498.64 L411.00,498.64 L411.25,498.64 L411.50,498.63 L411.75,498.63 L412.00,498.63 L412.25,498.63 L412.50,498.63 L412.75,498.63 L413.00,498.63 L413.25,498.63 L413.50,498.63 L413.75,498.63 L414.00,498.63 L414.25,498.63 L414.50,498.62 L414.75,498.62 L415.00,498.62 L415.25,498.62 L415.50,498.62 L415.75,498.62 L416.00,498.62 L416.25,498.62 L416.50,498.62 L416.75,498.62 L417.00,498.61 L417.25,498.61 L417.50,498.61 L417.75,498.61 L418.00,498.61 L418.25,498.61 L418.50,498.61 L418.75,498.61 L419.00,498.61 L419.25,498.60 L419.50,498.60 L419.75,498.60 L420.00,498.60 L420.25,498.60 L420.50,498.60 L420.75,498.60 L421.00,498.59 L421.25,498.59 L421.50,498.59 L421.75,498.59 L422.00,498.59 L422.25,498.59 L422.50,498.58 L422.75,498.58 L423.00,498.58 L423.25,498.58 L423.50,498.58 L423.75,498.57 L424.00,498.57 L424.25,498.57 L424.50,498.57 L424.75,498.56 L425.00,498.56 L425.25,498.56 L425.50,498.56 L425.75,498.56 L426.00,498.55 L426.25,498.55 L426.50,498.55 L426.75,498.55 L427.00,498.54 L427.25,498.54 L427.50,498.54 L427.75,498.54 L428.00,498.53 L428.25,498.53 L428.50,498.53 L428.75,498.52 L429.00,498.52 L429.25,498.52 L429.50,498.52 L429.75,498.51 L430.00,498.51 L430.25,498.51 L430.50,498.51 L430.75,498.50 L431.00,498.50 L431.25,498.50 L431.50,498.49 L431.75,498.49 L432.00,498.49 L432.25,498.49 L432.50,498.48 L432.75,498.48 L433.00,498.48 L433.25,498.47 L433.50,498.47 L433.75,498.47 L434.00,498.47 L434.25,498.46 L434.50,498.46 L434.75,498.46 L435.00,498.45 L435.25,498.45 L435.50,498.45 L435.75,498.45 L436.00,498.44 L436.25,498.44 L436.50,498.44 L436.75,498.43 L437.00,498.43 L437.25,498.43 L437.50,498.43 L437.75,498.42 L438.00,498.42 L438.25,498.42 L438.50,498.42 L438.75,498.41 L439.00,498.41 L439.25,498.41 L439.50,498.41 L439.75,498.40 L440.00,498.40 L440.25,498.40 L440.50,498.40 L440.75,498.39 L441.00,498.39 L441.25,498.39 L441.50,498.39 L441.75,498.38 L442.00,498.38 L442.25,498.38 L442.50,498.38 L442.75,498.37 L443.00,498.37 L443.25,498.37 L443.50,498.37 L443.75,498.36 L444.00,498.36 L444.25,498.36 L444.50,498.36 L444.75,498.35 L445.00,498.35 L445.25,498.35 L445.50,498.35 L445.75,498.34 L446.00,498.34 L446.25,498.34 L446.50,498.34 L446.75,498.33 L447.00,498.33 L447.25,498.33 L447.50,498.33 L447.75,498.33 L448.00,498.32 L448.25,498.32 L448.50,498.32 L448.75,498.32 L449.00,498.31 L449.25,498.31 L449.50,498.31 L449.75,498.31 L450.00,498.30 L450.25,498.30 L450.50,498.30 L450.75,498.30 L451.00,498.29 L451.25,498.29 L451.50,498.29 L451.75,498.29 L452.00,498.28 L452.25,498.28 L452.50,498.28 L452.75,498.28 L453.00,498.27 L453.25,498.27 L453.50,498.27 L453.75,498.27 L454.00,498.26 L454.25,498.26 L454.50,498.26 L454.75,498.26 L455.00,498.25 L455.25,498.25 L455.50,498.25 L455.75,498.25 L456.00,498.24 L456.25,498.24 L456.50,498.24 L456.75,498.24 L457.00,498.23 L457.25,498.23 L457.50,498.23 L457.75,498.23 L458.00,498.22 L458.25,498.22 L458.50,498.22 L458.75,498.21 L459.00,498.21 L459.25,498.21 L459.50,498.21 L459.75,498.20 L460.00,498.20 L460.25,498.20 L460.50,498.19 L460.75,498.19 L461.00,498.19 L461.25,498.19 L461.50,498.18 L461.75,498.18 L462.00,498.18 L462.25,498.17 L462.50,498.17 L462.75,498.17 L463.00,498.16 L463.25,498.16 L463.50,498.16 L463.75,498.16 L464.00,498.15 L464.25,498.15 L464.50,498.15 L464.75,498.14 L465.00,498.14 L465.25,498.14 L465.50,498.13 L465.75,498.13 L466.00,498.13 L466.25,498.12 L466.50,498.12 L466.75,498.12 L467.00,498.11 L467.25,498.11 L467.50,498.11 L467.75,498.11 L468.00,498.10 L468.25,498.10 L468.50,498.10 L468.75,498.09 L469.00,498.09 L469.25,498.08 L469.50,498.08 L469.75,498.08 L470.00,498.07 L470.25,498.07 L470.50,498.07 L470.75,498.06 L471.00,498.06 L471.25,498.06 L471.50,498.05 L471.75,498.05 L472.00,498.05 L472.25,498.04 L472.50,498.04 L472.75,498.03 L473.00,498.03 L473.25,498.03 L473.50,498.02 L473.75,498.02 L474.00,498.02 L474.25,498.01 L474.50,498.01 L474.75,498.00 L475.00,498.00 L475.25,498.00 L475.50,497.99 L475.75,497.99 L476.00,497.98 L476.25,497.98 L476.50,497.98 L476.75,497.97 L477.00,497.97 L477.25,497.96 L477.50,497.96 L477.75,497.96 L478.00,497.95 L478.25,497.95 L478.50,497.94 L478.75,497.94 L479.00,497.93 L479.25,497.93 L479.50,497.93 L479.75,497.92 L480.00,497.92 L480.25,497.91 L480.50,497.91 L480.75,497.90 L481.00,497.90 L481.25,497.90 L481.50,497.89 L481.75,497.89 L482.00,497.88 L482.25,497.88 L482.50,497.87 L482.75,497.87 L483.00,497.86 L483.25,497.86 L483.50,497.85 L483.75,497.85 L484.00,497.84 L484.25,497.84 L484.50,497.83 L484.75,497.83 L485.00,497.82 L485.25,497.82 L485.50,497.81 L485.75,497.81 L486.00,497.80 L486.25,497.79 L486.50,497.79 L486.75,497.78 L487.00,497.78 L487.25,497.77 L487.50,497.77 L487.75,497.76 L488.00,497.75 L488.25,497.75 L488.50,497.74 L488.75,497.73 L489.00,497.73 L489.25,497.72 L489.50,497.71 L489.75,497.71 L490.00,497.70 L490.25,497.69 L490.50,497.69 L490.75,497.68 L491.00,497.67 L491.25,497.66 L491.50,497.66 L491.75,497.65 L492.00,497.64 L492.25,497.63 L492.50,497.62 L492.75,497.61 L493.00,497.61 L493.25,497.60 L493.50,497.59 L493.75,497.58 L494.00,497.57 L494.25,497.56 L494.50,497.55 L494.75,497.54 L495.00,497.53 L495.25,497.52 L495.50,497.51 L495.75,497.50 L496.00,497.49 L496.25,497.48 L496.50,497.47 L496.75,497.46 L497.00,497.44 L497.25,497.43 L497.50,497.42 L497.75,497.41 L498.00,497.40 L498.25,497.39 L498.50,497.37 L498.75,497.36 L499.00,497.35 L499.25,497.34 L499.50,497.32 L499.75,497.31 L500.00,497.30 L500.25,497.28 L500.50,497.27 L500.75,497.25 L501.00,497.24 L501.25,497.23 L501.50,497.21 L501.75,497.20 L502.00,497.18 L502.25,497.17 L502.50,497.15 L502.75,497.14 L503.00,497.12 L503.25,497.10 L503.50,497.09 L503.75,497.07 L504.00,497.05 L504.25,497.04 L504.50,497.02 L504.75,497.00 L505.00,496.99 L505.25,496.97 L505.50,496.95 L505.75,496.93 L506.00,496.91 L506.25,496.89 L506.50,496.86 L506.75,496.84 L507.00,496.82 L507.25,496.79 L507.50,496.77 L507.75,496.74 L508.00,496.71 L508.25,496.69 L508.50,496.66 L508.75,496.63 L509.00,496.60 L509.25,496.57 L509.50,496.54 L509.75,496.51 L510.00,496.48 L510.25,496.45 L510.50,496.42 L510.75,496.39 L511.00,496.35 L511.25,496.32 L511.50,496.29 L511.75,496.25 L512.00,496.22 L512.25,496.19 L512.50,496.15 L512.75,496.12 L513.00,496.08 L513.25,496.05 L513.50,496.01 L513.75,495.97 L514.00,495.94 L514.25,495.90 L514.50,495.87 L514.75,495.83 L515.00,495.79 L515.25,495.76 L515.50,495.72 L515.75,495.68 L516.00,495.65 L516.25,495.61 L516.50,495.57 L516.75,495.54 L517.00,495.50 L517.25,495.46 L517.50,495.43 L517.75,495.39 L518.00,495.35 L518.25,495.31 L518.50,495.27 L518.75,495.22 L519.00,495.18 L519.25,495.14 L519.50,495.10 L519.75,495.05 L520.00,495.01 L520.25,494.96 L520.50,494.92 L520.75,494.87 L521.00,494.83 L521.25,494.78 L521.50,494.74 L521.75,494.69 L522.00,494.64 L522.25,494.59 L522.50,494.55 L522.75,494.50 L523.00,494.45 L523.25,494.41 L523.50,494.36 L523.75,494.31 L524.00,494.26 L524.25,494.21 L524.50,494.17 L524.75,494.12 L525.00,494.07 L525.25,494.03 L525.50,493.98 L525.75,493.93 L526.00,493.89 L526.25,493.84 L526.50,493.80 L526.75,493.75 L527.00,493.71 L527.25,493.66 L527.50,493.62 L527.75,493.57 L528.00,493.53 L528.25,493.49 L528.50,493.45 L528.75,493.40 L529.00,493.36 L529.25,493.32 L529.50,493.28 L529.75,493.24 L530.00,493.20 L530.25,493.16 L530.50,493.11 L530.75,493.07 L531.00,493.03 L531.25,492.99 L531.50,492.95 L531.75,492.91 L532.00,492.87 L532.25,492.83 L532.50,492.80 L532.75,492.76 L533.00,492.72 L533.25,492.68 L533.50,492.64 L533.75,492.60 L534.00,492.56 L534.25,492.52 L534.50,492.48 L534.75,492.44 L535.00,492.40 L535.25,492.36 L535.50,492.32 L535.75,492.28 L536.00,492.25 L536.25,492.21 L536.50,492.17 L536.75,492.13 L537.00,492.09 L537.25,492.05 L537.50,492.01 L537.75,491.97 L538.00,491.93 L538.25,491.89 L538.50,491.85 L538.75,491.81 L539.00,491.76 L539.25,491.72 L539.50,491.68 L539.75,491.64 L540.00,491.60 L540.25,491.56 L540.50,491.52 L540.75,491.47 L541.00,491.43 L541.25,491.39 L541.50,491.34 L541.75,491.30 L542.00,491.26 L542.25,491.21 L542.50,491.17 L542.75,491.12 L543.00,491.08 L543.25,491.03 L543.50,490.99 L543.75,490.94 L544.00,490.89 L544.25,490.84 L544.50,490.80 L544.75,490.75 L545.00,490.70 L545.25,490.65 L545.50,490.60 L545.75,490.55 L546.00,490.50 L546.25,490.45 L546.50,490.41 L546.75,490.36 L547.00,490.31 L547.25,490.26 L547.50,490.21 L547.75,490.16 L548.00,490.11 L548.25,490.05 L548.50,490.00 L548.75,489.95 L549.00,489.90 L549.25,489.85 L549.50,489.80 L549.75,489.74 L550.00,489.69 L550.25,489.64 L550.50,489.59 L550.75,489.53 L551.00,489.48 L551.25,489.42 L551.50,489.37 L551.75,489.31 L552.00,489.26 L552.25,489.20 L552.50,489.15 L552.75,489.09 L553.00,489.03 L553.25,488.98 L553.50,488.92 L553.75,488.86 L554.00,488.80 L554.25,488.74 L554.50,488.68 L554.75,488.62 L555.00,488.56 L555.25,488.50 L555.50,488.43 L555.75,488.37 L556.00,488.31 L556.25,488.24 L556.50,488.18 L556.75,488.11 L557.00,488.05 L557.25,487.98 L557.50,487.91 L557.75,487.84 L558.00,487.78 L558.25,487.71 L558.50,487.64 L558.75,487.57 L559.00,487.49 L559.25,487.42 L559.50,487.35 L559.75,487.27 L560.00,487.20 L560.25,487.12 L560.50,487.05 L560.75,486.97 L561.00,486.89 L561.25,486.81 L561.50,486.73 L561.75,486.65 L562.00,486.56 L562.25,486.48 L562.50,486.39 L562.75,486.31 L563.00,486.22 L563.25,486.13 L563.50,486.04 L563.75,485.95 L564.00,485.86 L564.25,485.76 L564.50,485.67 L564.75,485.57 L565.00,485.48 L565.25,485.38 L565.50,485.28 L565.75,485.18 L566.00,485.08 L566.25,484.98 L566.50,484.88 L566.75,484.78 L567.00,484.68 L567.25,484.57 L567.50,484.47 L567.75,484.36 L568.00,484.25 L568.25,484.14 L568.50,484.03 L568.75,483.92 L569.00,483.81 L569.25,483.70 L569.50,483.59 L569.75,483.48 L570.00,483.36 L570.25,483.25 L570.50,483.13 L570.75,483.02 L571.00,482.90 L571.25,482.78 L571.50,482.66 L571.75,482.54 L572.00,482.42 L572.25,482.30 L572.50,482.18 L572.75,482.06 L573.00,481.93 L573.25,481.81 L573.50,481.68 L573.75,481.56 L574.00,481.43 L574.25,481.31 L574.50,481.18 L574.75,481.05 L575.00,480.92 L575.25,480.79 L575.50,480.66 L575.75,480.53 L576.00,480.40 L576.25,480.27 L576.50,480.13 L576.75,480.00 L577.00,479.86 L577.25,479.72 L577.50,479.57 L577.75,479.43 L578.00,479.28 L578.25,479.13 L578.50,478.98 L578.75,478.83 L579.00,478.67 L579.25,478.52 L579.50,478.36 L579.75,478.20 L580.00,478.04 L580.25,477.88 L580.50,477.71 L580.75,477.55 L581.00,477.38 L581.25,477.21 L581.50,477.04 L581.75,476.87 L582.00,476.69 L582.25,476.52 L582.50,476.34 L582.75,476.16 L583.00,475.98 L583.25,475.80 L583.50,475.62 L583.75,475.43 L584.00,475.25 L584.25,475.06 L584.50,474.88 L584.75,474.69 L585.00,474.50 L585.25,474.31 L585.50,474.12 L585.75,473.93 L586.00,473.74 L586.25,473.54 L586.50,473.35 L586.75,473.15 L587.00,472.96 L587.25,472.76 L587.50,472.55 L587.75,472.35 L588.00,472.14 L588.25,471.94 L588.50,471.72 L588.75,471.51 L589.00,471.29 L589.25,471.07 L589.50,470.84 L589.75,470.61 L590.00,470.38 L590.25,470.14 L590.50,469.90 L590.75,469.65 L591.00,469.40 L591.25,469.14 L591.50,468.88 L591.75,468.61 L592.00,468.34 L592.25,468.06 L592.50,467.77 L592.75,467.47 L593.00,467.17 L593.25,466.85 L593.50,466.52 L593.75,466.19 L594.00,465.84 L594.25,465.49 L594.50,465.13 L594.75,464.76 L595.00,464.38 L595.25,463.99 L595.50,463.60 L595.75,463.19 L596.00,462.78 L596.25,462.37 L596.50,461.94 L596.75,461.51 L597.00,461.07 L597.25,460.62 L597.50,460.17 L597.75,459.71 L598.00,459.24 L598.25,458.75 L598.50,458.25 L598.75,457.73 L599.00,457.20 L599.25,456.65 L599.50,456.09 L599.75,455.51 L600.00,454.92 L600.25,454.31 L600.50,453.69 L600.75,453.05 L601.00,452.40 L601.25,451.74 L601.50,451.04 L601.75,450.30 L602.00,449.52 L602.25,448.70 L602.50,447.87 L602.75,447.02 L603.00,446.17 L603.25,445.33 L603.50,444.51 L603.75,443.71 L604.00,442.93 L604.25,442.16 L604.50,441.39 L604.75,440.59 L605.00,439.76 L605.25,438.89 L605.50,437.96 L605.75,436.97 L606.00,435.94 L606.25,434.86 L606.50,433.72 L606.75,432.53 L607.00,431.27 L607.25,429.95 L607.50,428.55 L607.75,427.07 L608.00,425.49 L608.25,423.81 L608.50,422.03 L608.75,420.14 L609.00,418.16 L609.25,416.08 L609.50,413.90 L609.75,411.55 L610.00,409.00 L610.25,406.27 L610.50,403.38 L610.75,400.34 L611.00,397.18 L611.25,393.81 L611.50,390.18 L611.75,386.35 L612.00,382.40 L612.25,378.39 L612.50,374.39 L612.75,370.25 L613.00,365.91 L613.25,361.59 L613.50,357.47 L613.75,353.75 L614.00,350.10 L614.25,346.67 L614.50,343.96 L614.75,342.19 L615.00,340.68 L615.25,339.69 L615.50,339.58 L615.75,340.43 L616.00,341.98 L616.25,343.97 L616.50,346.14 L616.75,348.44 L617.00,351.47 L617.25,355.04 L617.50,358.85 L617.75,362.60 L618.00,366.00 L618.25,369.17 L618.50,372.34 L618.75,375.36 L619.00,378.10 L619.25,380.43 L619.50,382.44 L619.75,384.25 L620.00,385.92 L620.25,387.48 L620.50,389.00 L620.75,390.50 L621.00,391.96 L621.25,393.36 L621.50,394.68 L621.75,395.90 L622.00,397.00 L622.25,398.00 L622.50,398.94 L622.75,399.83 L623.00,400.68 L623.25,401.48 L623.50,402.25 L623.75,402.99 L624.00,403.70 L624.25,404.39 L624.50,405.07 L624.75,405.74 L625.00,406.42 L625.25,407.09 L625.50,407.75 L625.75,408.40 L626.00,409.04 L626.25,409.66 L626.50,410.27 L626.75,410.85 L627.00,411.41 L627.25,411.94 L627.50,412.44 L627.75,412.90 L628.00,413.33 L628.25,413.72 L628.50,414.07 L628.75,414.39 L629.00,414.70 L629.25,415.00 L629.50,415.31 L629.75,415.61 L630.00,415.89 L630.25,416.17 L630.50,416.43 L630.75,416.68 L631.00,416.90 L631.25,417.11 L631.50,417.28 L631.75,417.43 L632.00,417.55 L632.25,417.64 L632.50,417.69 L632.75,417.70 L633.00,417.69 L633.25,417.65 L633.50,417.61 L633.75,417.55 L634.00,417.47 L634.25,417.38 L634.50,417.29 L634.75,417.18 L635.00,417.07 L635.25,416.95 L635.50,416.83 L635.75,416.71 L636.00,416.58 L636.25,416.46 L636.50,416.34 L636.75,416.22 L637.00,416.10 L637.25,415.96 L637.50,415.79 L637.75,415.62 L638.00,415.43 L638.25,415.23 L638.50,415.04 L638.75,414.85 L639.00,414.67 L639.25,414.50 L639.50,414.34 L639.75,414.21 L640.00,414.11 L640.25,414.04 L640.50,414.00 L640.75,414.04 L641.00,414.28 L641.25,414.71 L641.50,415.30 L641.75,416.04 L642.00,416.89 L642.25,417.83 L642.50,418.85 L642.75,419.90 L643.00,420.97 L643.25,422.12 L643.50,423.60 L643.75,425.38 L644.00,427.34 L644.25,429.41 L644.50,431.48 L644.75,433.46 L645.00,435.25 L645.25,436.83 L645.50,438.36 L645.75,439.85 L646.00,441.32 L646.25,442.75 L646.50,444.15 L646.75,445.51 L647.00,446.82 L647.25,448.10 L647.50,449.32 L647.75,450.50 L648.00,451.63 L648.25,452.71 L648.50,453.76 L648.75,454.79 L649.00,455.81 L649.25,456.80 L649.50,457.77 L649.75,458.72 L650.00,459.64 L650.25,460.54 L650.50,461.41 L650.75,462.25 L651.00,463.06 L651.25,463.84 L651.50,464.59 L651.75,465.31 L652.00,465.99 L652.25,466.63 L652.50,467.24 L652.75,467.83 L653.00,468.41 L653.25,468.98 L653.50,469.53 L653.75,470.07 L654.00,470.60 L654.25,471.11 L654.50,471.61 L654.75,472.09 L655.00,472.55 L655.25,473.01 L655.50,473.44 L655.75,473.86 L656.00,474.26 L656.25,474.65 L656.50,475.01 L656.75,475.36 L657.00,475.69 L657.25,476.01 L657.50,476.30 L657.75,476.58 L658.00,476.85 L658.25,477.11 L658.50,477.36 L658.75,477.61 L659.00,477.84 L659.25,478.07 L659.50,478.30 L659.75,478.51 L660.00,478.72 L660.25,478.93 L660.50,479.12 L660.75,479.32 L661.00,479.50 L661.25,479.69 L661.50,479.87 L661.75,480.04 L662.00,480.22 L662.25,480.39 L662.50,480.55 L662.75,480.72 L663.00,480.88 L663.25,481.05 L663.50,481.21 L663.75,481.37 L664.00,481.53 L664.25,481.69 L664.50,481.84 L664.75,482.00 L665.00,482.15 L665.25,482.30 L665.50,482.45 L665.75,482.60 L666.00,482.75 L666.25,482.89 L666.50,483.03 L666.75,483.17 L667.00,483.31 L667.25,483.44 L667.50,483.58 L667.75,483.71 L668.00,483.84 L668.25,483.96 L668.50,484.09 L668.75,484.21 L669.00,484.33 L669.25,484.45 L669.50,484.56 L669.75,484.68 L670.00,484.79 L670.25,484.89 L670.50,485.00 L670.75,485.10 L671.00,485.20 L671.25,485.30 L671.50,485.39 L671.75,485.49 L672.00,485.58 L672.25,485.67 L672.50,485.75 L672.75,485.84 L673.00,485.92 L673.25,486.00 L673.50,486.08 L673.75,486.15 L674.00,486.23 L674.25,486.30 L674.50,486.37 L674.75,486.44" fill="none" stroke="#0000ff" stroke-width="3" stroke-linejoin="round"/>
</g></svg>
<rect x="393.40" y="292.40" width="277.10" height="207.50" fill="none" stroke="#1a1a1a" stroke-width="1.05"/>
<path d="M449.07,499.9 v-3.2" stroke="#1a1a1a" stroke-width="1"/>
<path d="M504.45,499.9 v-3.2" stroke="#1a1a1a" stroke-width="1"/>
<path d="M559.83,499.9 v-3.2" stroke="#1a1a1a" stroke-width="1"/>
<path d="M615.20,499.9 v-3.2" stroke="#1a1a1a" stroke-width="1"/>
<circle cx="615.2" cy="316.3" r="6.4" fill="#0000ff"/>
<path d="M421.6,379.50 H503.9" stroke="#cccccc" stroke-width="2.5"/>
<rect x="421.60" y="360.40" width="82.30" height="57.30" fill="none" stroke="#1a1a1a" stroke-width="1"/>
<path d="M421.6,379.50 h3 M462.75,417.7 v-3" stroke="#1a1a1a" stroke-width="1"/>
<circle cx="454.3" cy="379.50" r="5.8" fill="#0000ff"/>
</svg>
<svg id="tx" width="685" height="555" viewBox="0 0 685 555">
<text x="32.76" y="74.80" font-size="18.5">1</text>
<text x="33.85" y="213.80" font-size="18.5">0</text>
<text x="184.49" y="192.90" font-size="27.5">(a)</text>
<text x="393" y="33.9" font-size="22" text-anchor="middle">Δk</text>
<text x="242.50" y="227" font-size="18.5" text-anchor="middle">0</text>
<text x="358.45" y="227" font-size="18.5" text-anchor="middle">1</text>
<text x="474.40" y="227" font-size="18.5" text-anchor="middle">2</text>
<text x="435.74" y="192.90" font-size="27.5">(b)</text>
<text x="633.39" y="192.90" font-size="27.5">(c)</text>
<rect x="87.50" y="244.80" width="1.60" height="15.00" fill="#000"/><text x="90.59" y="259.70" font-size="21.5" font-weight="bold">A</text><text x="106.19" y="250.70" font-size="15.5">ext</text><text x="108.17" y="265.20" font-size="16.5" font-style="italic">p</text><rect x="129.20" y="244.80" width="1.60" height="15.00" fill="#000"/><text x="137.80" y="259.70" font-size="21.5">[a.u.]</text>
<text x="303" y="262.8" font-size="22">ck/<tspan font-style="italic">ω</tspan><tspan font-size="15" dy="4">TO</tspan></text>
<text x="384.33" y="262.60" font-size="22" font-style="italic">ε</text>
<text x="394.38" y="268.00" font-size="16.5">∞</text>
<rect x="518.60" y="242.00" width="1.70" height="15.10" fill="#000"/><text x="521.69" y="257.00" font-size="21.5" font-weight="bold">A</text><text x="538.14" y="260.80" font-size="16.5">tr</text><text x="548.86" y="257.00" font-size="21.5">(</text><text x="555.69" y="257.00" font-size="21.5" font-style="italic">ω</text><text x="571.57" y="260.80" font-size="16.5" font-style="italic">pp</text><text x="587.21" y="257.00" font-size="21.5">)</text><rect x="595.90" y="242.00" width="1.70" height="15.10" fill="#000"/><text x="604.30" y="257.00" font-size="21.5">[a.u.]</text>
<g transform="translate(16.20,140.80) rotate(-90)"><text x="-0.71" y="0.00" font-size="21.5" font-style="italic">ω</text><text x="16.07" y="3.80" font-size="16.5" font-style="italic">pp</text><text x="31.00" y="0.00" font-size="21.5">/</text><text x="35.69" y="0.00" font-size="21.5" font-style="italic">ω</text><text x="50.70" y="3.80" font-size="16.5">TO</text></g>
<text x="46.80" y="517.8" font-size="18.5" text-anchor="middle">0</text>
<text x="102.24" y="517.8" font-size="18.5" text-anchor="middle">0.25</text>
<text x="157.68" y="517.8" font-size="18.5" text-anchor="middle">0.5</text>
<text x="213.12" y="517.8" font-size="18.5" text-anchor="middle">0.75</text>
<text x="268.56" y="517.8" font-size="18.5" text-anchor="middle">1</text>
<text x="324.00" y="517.8" font-size="18.5" text-anchor="middle">1.25</text>
<text x="59.09" y="324.60" font-size="27.5">(d)</text>
<text x="266.80" y="431.50" font-size="21" style="fill:#0000ff">0.65</text>
<text x="69.3" y="384.70" font-size="16.5" text-anchor="end">1</text>
<text x="69.3" y="423.30" font-size="16.5" text-anchor="end">0</text>
<text x="73.30" y="434.60" font-size="16.5" text-anchor="middle">0</text>
<text x="115.10" y="434.60" font-size="16.5" text-anchor="middle">1</text>
<text x="156.90" y="434.60" font-size="16.5" text-anchor="middle">2</text>
<g transform="translate(15.00,460.40) rotate(-90)"><rect x="0.00" y="-15.00" width="1.70" height="15.10" fill="#000"/><text x="3.09" y="0.00" font-size="21.5" font-weight="bold">A</text><text x="19.54" y="3.80" font-size="16.5">tr</text><text x="30.26" y="0.00" font-size="21.5">(</text><text x="37.09" y="0.00" font-size="21.5" font-style="italic">ω</text><text x="52.97" y="3.80" font-size="16.5" font-style="italic">pp</text><text x="68.61" y="0.00" font-size="21.5">)</text><rect x="77.30" y="-15.00" width="1.70" height="15.10" fill="#000"/><text x="85.70" y="0.00" font-size="21.5">[a.u.]</text></g>
<text x="148.19" y="547.90" font-size="21.5" font-style="italic">ω</text><text x="164.97" y="551.70" font-size="16.5" font-style="italic">pp</text><text x="179.90" y="547.90" font-size="21.5">/</text><text x="184.59" y="547.90" font-size="21.5" font-style="italic">ω</text><text x="199.60" y="551.70" font-size="16.5">TO</text>
<text x="393.70" y="517.8" font-size="18.5" text-anchor="middle">0</text>
<text x="449.07" y="517.8" font-size="18.5" text-anchor="middle">0.25</text>
<text x="504.45" y="517.8" font-size="18.5" text-anchor="middle">0.5</text>
<text x="559.83" y="517.8" font-size="18.5" text-anchor="middle">0.75</text>
<text x="615.20" y="517.8" font-size="18.5" text-anchor="middle">1</text>
<text x="670.58" y="517.8" font-size="18.5" text-anchor="middle">1.25</text>
<text x="406.39" y="324.60" font-size="27.5">(e)</text>
<text x="417.6" y="384.10" font-size="16.5" text-anchor="end">1</text>
<text x="417.6" y="422.30" font-size="16.5" text-anchor="end">0</text>
<text x="421.60" y="435.30" font-size="16.5" text-anchor="middle">90</text>
<text x="462.75" y="435.30" font-size="16.5" text-anchor="middle">100</text>
<text x="503.90" y="435.30" font-size="16.5" text-anchor="middle">110</text>
<g transform="translate(361.60,464.30) rotate(-90)"><rect x="0.00" y="-15.00" width="1.70" height="15.10" fill="#000"/><text x="3.09" y="0.00" font-size="21.5" font-weight="bold">A</text><text x="19.37" y="3.80" font-size="16.5">ref</text><text x="38.63" y="0.00" font-size="21.5">(</text><text x="45.47" y="0.00" font-size="21.5" font-style="italic">ω</text><text x="61.35" y="3.80" font-size="16.5" font-style="italic">pp</text><text x="76.99" y="0.00" font-size="21.5">)</text><rect x="85.68" y="-15.00" width="1.70" height="15.10" fill="#000"/><text x="94.08" y="0.00" font-size="21.5">[a.u.]</text></g>
<text x="495.19" y="547.90" font-size="21.5" font-style="italic">ω</text><text x="511.97" y="551.70" font-size="16.5" font-style="italic">pp</text><text x="526.90" y="547.90" font-size="21.5">/</text><text x="531.59" y="547.90" font-size="21.5" font-style="italic">ω</text><text x="546.60" y="551.70" font-size="16.5">TO</text>
</svg>
</body></html>
